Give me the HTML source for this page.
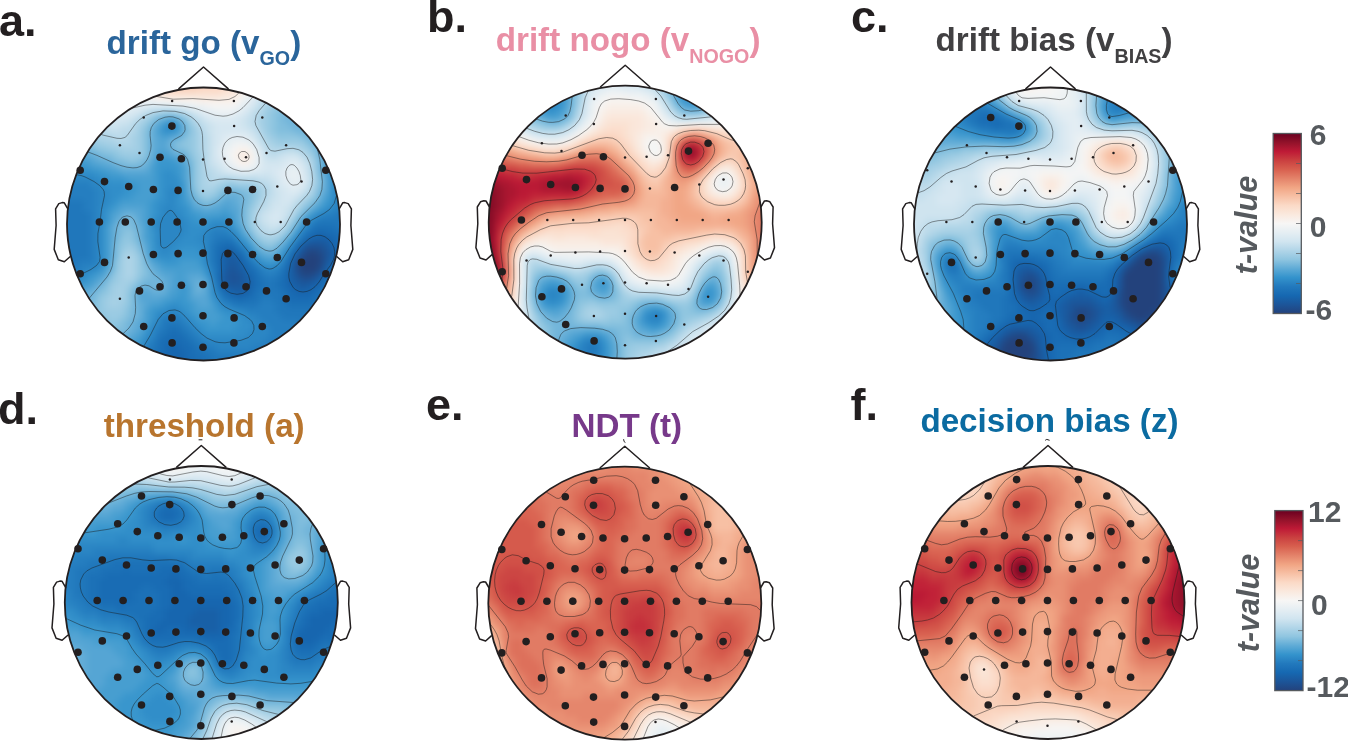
<!DOCTYPE html>
<html><head><meta charset="utf-8"><title>DDM parameter topographies</title>
<style>html,body{margin:0;padding:0;background:#fff;overflow:hidden}svg{display:block;will-change:transform}text{font-family:"Liberation Sans",Arial,sans-serif;font-weight:bold}</style></head>
<body>
<svg width="1348" height="741" viewBox="0 0 1348 741">
<defs>
<filter id="bl" x="-5%" y="-5%" width="110%" height="110%" color-interpolation-filters="sRGB"><feGaussianBlur stdDeviation="3.2"/></filter>
<clipPath id="cla"><circle cx="203.5" cy="224" r="136.5"/></clipPath>
<clipPath id="clb"><circle cx="625.2" cy="222.2" r="136.5"/></clipPath>
<clipPath id="clc"><circle cx="1050.5" cy="224" r="136.5"/></clipPath>
<clipPath id="cld"><circle cx="201.3" cy="602.5" r="136.5"/></clipPath>
<clipPath id="cle"><circle cx="624.8" cy="603.2" r="136.5"/></clipPath>
<clipPath id="clf"><circle cx="1048" cy="602.5" r="136.5"/></clipPath>
<linearGradient id="cb" x1="0" y1="0" x2="0" y2="1"><stop offset="0.000" stop-color="#6a0020"/><stop offset="0.050" stop-color="#92122a"/><stop offset="0.100" stop-color="#be1a36"/><stop offset="0.150" stop-color="#ca4040"/><stop offset="0.200" stop-color="#d8604f"/><stop offset="0.250" stop-color="#e4836a"/><stop offset="0.300" stop-color="#f1a584"/><stop offset="0.350" stop-color="#f7c0a5"/><stop offset="0.400" stop-color="#fbdac7"/><stop offset="0.450" stop-color="#fae9de"/><stop offset="0.500" stop-color="#f7f6f5"/><stop offset="0.550" stop-color="#e5eef3"/><stop offset="0.600" stop-color="#d1e5f0"/><stop offset="0.650" stop-color="#b1d5e8"/><stop offset="0.700" stop-color="#8fc5e0"/><stop offset="0.750" stop-color="#5fabd6"/><stop offset="0.800" stop-color="#3493cc"/><stop offset="0.850" stop-color="#2279bd"/><stop offset="0.900" stop-color="#1668b1"/><stop offset="0.950" stop-color="#1c5599"/><stop offset="1.000" stop-color="#23427c"/></linearGradient>
</defs>
<!-- head a -->
<g clip-path="url(#cla)">
<circle cx="203.5" cy="224" r="136.5" fill="#4da1d2"/>
<g filter="url(#bl)"><g transform="translate(47.5 68) scale(6)" shape-rendering="crispEdges">
<path fill="#23427c" d="M43 31h2v1h-2zM42 32h3v1h-3zM42 33h3v1h-3z"/>
<path fill="#214885" d="M43 30h2v1h-2zM42 31h1v1h-1zM45 31h1v1h-1zM45 32h1v1h-1zM42 34h2v1h-2z"/>
<path fill="#1f4e8e" d="M45 30h1v1h-1zM41 32h1v1h-1zM41 33h1v1h-1zM45 33h1v1h-1zM44 34h1v1h-1z"/>
<path fill="#1c5498" d="M43 29h3v1h-3zM42 30h1v1h-1zM46 30h1v1h-1zM46 31h1v1h-1zM30 33h1v1h-1zM30 34h2v1h-2zM41 34h1v1h-1zM30 35h2v1h-2zM42 35h2v1h-2z"/>
<path fill="#1a5a9f" d="M46 29h1v1h-1zM30 31h1v1h-1zM41 31h1v1h-1zM30 32h2v1h-2zM46 32h1v1h-1zM31 33h1v1h-1zM29 34h1v1h-1zM32 34h1v1h-1zM45 34h1v1h-1zM29 35h1v1h-1zM32 35h1v1h-1zM41 35h1v1h-1zM44 35h1v1h-1zM30 36h3v1h-3zM42 36h1v1h-1z"/>
<path fill="#1860a7" d="M44 28h3v1h-3zM42 29h1v1h-1zM30 30h1v1h-1zM47 30h1v1h-1zM29 31h1v1h-1zM31 31h1v1h-1zM47 31h1v1h-1zM29 32h1v1h-1zM29 33h1v1h-1zM32 33h1v1h-1zM40 33h1v1h-1zM46 33h1v1h-1zM40 34h1v1h-1zM33 35h1v1h-1zM40 35h1v1h-1zM29 36h1v1h-1zM33 36h1v1h-1zM41 36h1v1h-1zM43 36h1v1h-1zM31 37h2v1h-2z"/>
<path fill="#1766af" d="M45 27h1v1h-1zM43 28h1v1h-1zM47 28h1v1h-1zM47 29h1v1h-1zM29 30h1v1h-1zM41 30h1v1h-1zM48 30h3v1h-3zM48 31h3v1h-3zM32 32h1v1h-1zM40 32h1v1h-1zM47 32h4v1h-4zM33 34h1v1h-1zM45 35h1v1h-1zM40 36h1v1h-1zM44 36h1v1h-1zM30 37h1v1h-1zM33 37h1v1h-1zM41 37h3v1h-3zM20 46h2v1h-2zM20 47h3v1h-3zM19 48h4v1h-4zM19 49h4v1h-4zM19 50h4v1h-4z"/>
<path fill="#196cb4" d="M44 27h1v1h-1zM46 27h2v1h-2zM48 28h1v1h-1zM29 29h2v1h-2zM48 29h3v1h-3zM28 30h1v1h-1zM31 30h1v1h-1zM28 31h1v1h-1zM32 31h1v1h-1zM40 31h1v1h-1zM28 32h1v1h-1zM28 33h1v1h-1zM33 33h1v1h-1zM47 33h3v1h-3zM28 34h1v1h-1zM34 34h1v1h-1zM39 34h1v1h-1zM46 34h1v1h-1zM48 34h2v1h-2zM28 35h1v1h-1zM34 35h1v1h-1zM39 35h1v1h-1zM34 36h1v1h-1zM39 36h1v1h-1zM45 36h1v1h-1zM29 37h1v1h-1zM40 37h1v1h-1zM44 37h1v1h-1zM31 38h2v1h-2zM40 38h4v1h-4zM20 44h2v1h-2zM19 45h4v1h-4zM19 46h1v1h-1zM22 46h2v1h-2zM18 47h2v1h-2zM23 47h1v1h-1zM18 48h1v1h-1zM23 48h2v1h-2zM18 49h1v1h-1zM23 49h2v1h-2zM23 50h2v1h-2z"/>
<path fill="#1c71b7" d="M44 26h4v1h-4zM43 27h1v1h-1zM48 27h3v1h-3zM42 28h1v1h-1zM49 28h2v1h-2zM28 29h1v1h-1zM41 29h1v1h-1zM33 32h1v1h-1zM34 33h1v1h-1zM39 33h1v1h-1zM47 34h1v1h-1zM35 35h1v1h-1zM38 35h1v1h-1zM46 35h4v1h-4zM28 36h1v1h-1zM35 36h1v1h-1zM38 36h1v1h-1zM46 36h3v1h-3zM34 37h1v1h-1zM39 37h1v1h-1zM45 37h4v1h-4zM30 38h1v1h-1zM33 38h2v1h-2zM39 38h1v1h-1zM44 38h4v1h-4zM40 39h7v1h-7zM45 40h2v1h-2zM20 43h2v1h-2zM19 44h1v1h-1zM22 44h1v1h-1zM18 45h1v1h-1zM23 45h1v1h-1zM18 46h1v1h-1zM24 46h1v1h-1zM24 47h2v1h-2zM17 48h1v1h-1zM25 48h2v1h-2zM17 49h1v1h-1zM25 49h2v1h-2zM25 50h2v1h-2z"/>
<path fill="#2077bb" d="M1 22h5v1h-5zM1 23h5v1h-5zM1 24h6v1h-6zM48 24h3v1h-3zM1 25h6v1h-6zM45 25h6v1h-6zM1 26h6v1h-6zM48 26h3v1h-3zM1 27h6v1h-6zM1 28h6v1h-6zM28 28h3v1h-3zM1 29h6v1h-6zM27 29h1v1h-1zM31 29h1v1h-1zM1 30h6v1h-6zM27 30h1v1h-1zM32 30h1v1h-1zM40 30h1v1h-1zM1 31h6v1h-6zM27 31h1v1h-1zM1 32h4v1h-4zM27 32h1v1h-1zM39 32h1v1h-1zM35 34h1v1h-1zM38 34h1v1h-1zM36 35h2v1h-2zM36 36h2v1h-2zM35 37h4v1h-4zM29 38h1v1h-1zM35 38h1v1h-1zM37 38h2v1h-2zM31 39h4v1h-4zM38 39h2v1h-2zM38 40h7v1h-7zM39 41h7v1h-7zM19 42h3v1h-3zM42 42h3v1h-3zM19 43h1v1h-1zM22 43h1v1h-1zM43 43h1v1h-1zM18 44h1v1h-1zM23 44h1v1h-1zM24 45h1v1h-1zM17 46h1v1h-1zM25 46h1v1h-1zM17 47h1v1h-1zM26 47h2v1h-2zM16 48h1v1h-1zM27 48h4v1h-4zM16 49h1v1h-1zM27 49h4v1h-4zM27 50h4v1h-4z"/>
<path fill="#257ec0" d="M2 18h1v1h-1zM1 19h6v1h-6zM1 20h7v1h-7zM1 21h7v1h-7zM6 22h2v1h-2zM48 22h3v1h-3zM6 23h2v1h-2zM48 23h3v1h-3zM7 24h1v1h-1zM46 24h2v1h-2zM7 25h1v1h-1zM44 25h1v1h-1zM7 26h1v1h-1zM43 26h1v1h-1zM7 27h1v1h-1zM27 27h3v1h-3zM42 27h1v1h-1zM7 28h1v1h-1zM27 28h1v1h-1zM7 29h1v1h-1zM7 30h1v1h-1zM7 31h1v1h-1zM33 31h1v1h-1zM5 32h3v1h-3zM34 32h1v1h-1zM2 33h4v1h-4zM27 33h1v1h-1zM35 33h1v1h-1zM38 33h1v1h-1zM2 34h1v1h-1zM27 34h1v1h-1zM36 34h2v1h-2zM28 37h1v1h-1zM36 38h1v1h-1zM30 39h1v1h-1zM35 39h3v1h-3zM33 40h5v1h-5zM19 41h3v1h-3zM35 41h4v1h-4zM22 42h1v1h-1zM36 42h6v1h-6zM18 43h1v1h-1zM23 43h1v1h-1zM37 43h6v1h-6zM24 44h1v1h-1zM37 44h6v1h-6zM17 45h1v1h-1zM25 45h1v1h-1zM36 45h6v1h-6zM16 46h1v1h-1zM26 46h2v1h-2zM34 46h7v1h-7zM16 47h1v1h-1zM28 47h11v1h-11zM31 48h7v1h-7zM31 49h5v1h-5zM31 50h2v1h-2z"/>
<path fill="#2b86c4" d="M20 9h1v1h-1zM2 16h1v1h-1zM2 17h3v1h-3zM3 18h5v1h-5zM7 19h2v1h-2zM8 20h2v1h-2zM20 20h2v1h-2zM48 20h3v1h-3zM8 21h2v1h-2zM20 21h1v1h-1zM48 21h3v1h-3zM8 22h2v1h-2zM20 22h1v1h-1zM8 23h1v1h-1zM19 23h2v1h-2zM47 23h1v1h-1zM8 24h1v1h-1zM19 24h3v1h-3zM45 24h1v1h-1zM8 25h1v1h-1zM18 25h5v1h-5zM8 26h1v1h-1zM18 26h5v1h-5zM27 26h3v1h-3zM8 27h1v1h-1zM18 27h5v1h-5zM26 27h1v1h-1zM30 27h1v1h-1zM8 28h1v1h-1zM18 28h4v1h-4zM25 28h2v1h-2zM31 28h1v1h-1zM41 28h1v1h-1zM8 29h1v1h-1zM18 29h3v1h-3zM26 29h1v1h-1zM32 29h1v1h-1zM8 30h1v1h-1zM19 30h1v1h-1zM26 30h1v1h-1zM33 30h1v1h-1zM8 31h1v1h-1zM26 31h1v1h-1zM39 31h1v1h-1zM8 32h1v1h-1zM26 32h1v1h-1zM6 33h2v1h-2zM36 33h2v1h-2zM3 34h3v1h-3zM2 35h2v1h-2zM27 35h1v1h-1zM28 38h1v1h-1zM29 39h1v1h-1zM20 40h2v1h-2zM31 40h2v1h-2zM18 41h1v1h-1zM22 41h1v1h-1zM33 41h2v1h-2zM18 42h1v1h-1zM23 42h1v1h-1zM34 42h2v1h-2zM17 43h1v1h-1zM24 43h1v1h-1zM34 43h3v1h-3zM17 44h1v1h-1zM25 44h1v1h-1zM33 44h4v1h-4zM16 45h1v1h-1zM26 45h10v1h-10zM28 46h6v1h-6zM15 47h1v1h-1zM15 48h1v1h-1z"/>
<path fill="#318ec9" d="M19 10h2v1h-2zM3 16h2v1h-2zM5 17h3v1h-3zM19 17h2v1h-2zM48 17h2v1h-2zM8 18h2v1h-2zM19 18h3v1h-3zM47 18h3v1h-3zM9 19h4v1h-4zM19 19h3v1h-3zM47 19h4v1h-4zM10 20h3v1h-3zM19 20h1v1h-1zM47 20h1v1h-1zM10 21h2v1h-2zM19 21h1v1h-1zM21 21h1v1h-1zM47 21h1v1h-1zM10 22h1v1h-1zM18 22h2v1h-2zM21 22h1v1h-1zM47 22h1v1h-1zM9 23h1v1h-1zM18 23h1v1h-1zM21 23h2v1h-2zM46 23h1v1h-1zM9 24h1v1h-1zM18 24h1v1h-1zM22 24h1v1h-1zM44 24h1v1h-1zM9 25h1v1h-1zM17 25h1v1h-1zM23 25h1v1h-1zM27 25h3v1h-3zM43 25h1v1h-1zM17 26h1v1h-1zM23 26h4v1h-4zM30 26h1v1h-1zM42 26h1v1h-1zM23 27h3v1h-3zM31 27h1v1h-1zM22 28h3v1h-3zM21 29h5v1h-5zM40 29h1v1h-1zM18 30h1v1h-1zM20 30h2v1h-2zM25 30h1v1h-1zM18 31h3v1h-3zM34 31h1v1h-1zM35 32h1v1h-1zM38 32h1v1h-1zM8 33h1v1h-1zM26 33h1v1h-1zM6 34h1v1h-1zM4 35h2v1h-2zM3 36h1v1h-1zM27 36h1v1h-1zM27 37h1v1h-1zM20 39h2v1h-2zM28 39h1v1h-1zM18 40h2v1h-2zM22 40h1v1h-1zM29 40h2v1h-2zM23 41h1v1h-1zM31 41h2v1h-2zM17 42h1v1h-1zM24 42h1v1h-1zM32 42h2v1h-2zM25 43h1v1h-1zM31 43h3v1h-3zM16 44h1v1h-1zM26 44h7v1h-7zM15 46h1v1h-1zM14 47h1v1h-1zM14 48h1v1h-1z"/>
<path fill="#3996cd" d="M19 9h1v1h-1zM21 9h1v1h-1zM21 10h1v1h-1zM3 15h2v1h-2zM18 15h3v1h-3zM48 15h1v1h-1zM5 16h2v1h-2zM18 16h4v1h-4zM47 16h3v1h-3zM8 17h2v1h-2zM18 17h1v1h-1zM21 17h1v1h-1zM47 17h1v1h-1zM10 18h3v1h-3zM18 18h1v1h-1zM13 19h2v1h-2zM18 19h1v1h-1zM22 19h1v1h-1zM13 20h2v1h-2zM18 20h1v1h-1zM22 20h1v1h-1zM12 21h2v1h-2zM18 21h1v1h-1zM22 21h1v1h-1zM11 22h1v1h-1zM17 22h1v1h-1zM22 22h1v1h-1zM46 22h1v1h-1zM10 23h1v1h-1zM17 23h1v1h-1zM23 23h1v1h-1zM45 23h1v1h-1zM17 24h1v1h-1zM23 24h2v1h-2zM29 24h1v1h-1zM24 25h3v1h-3zM30 25h1v1h-1zM9 26h1v1h-1zM9 27h1v1h-1zM17 27h1v1h-1zM41 27h1v1h-1zM9 28h1v1h-1zM17 28h1v1h-1zM32 28h1v1h-1zM9 29h1v1h-1zM17 29h1v1h-1zM33 29h1v1h-1zM9 30h1v1h-1zM17 30h1v1h-1zM22 30h3v1h-3zM39 30h1v1h-1zM9 31h1v1h-1zM17 31h1v1h-1zM21 31h5v1h-5zM9 32h1v1h-1zM19 32h3v1h-3zM25 32h1v1h-1zM36 32h2v1h-2zM7 34h1v1h-1zM26 34h1v1h-1zM6 35h1v1h-1zM4 36h1v1h-1zM22 36h1v1h-1zM22 37h1v1h-1zM21 38h2v1h-2zM27 38h1v1h-1zM19 39h1v1h-1zM22 39h2v1h-2zM17 40h1v1h-1zM23 40h1v1h-1zM28 40h1v1h-1zM17 41h1v1h-1zM24 41h1v1h-1zM29 41h2v1h-2zM25 42h2v1h-2zM28 42h4v1h-4zM16 43h1v1h-1zM26 43h5v1h-5zM15 45h1v1h-1zM14 46h1v1h-1z"/>
<path fill="#479ed0" d="M18 10h1v1h-1zM19 11h1v1h-1zM3 14h2v1h-2zM18 14h2v1h-2zM48 14h1v1h-1zM5 15h2v1h-2zM21 15h1v1h-1zM46 15h2v1h-2zM7 16h2v1h-2zM17 16h1v1h-1zM22 16h1v1h-1zM46 16h1v1h-1zM10 17h2v1h-2zM17 17h1v1h-1zM22 17h1v1h-1zM46 17h1v1h-1zM13 18h5v1h-5zM22 18h1v1h-1zM15 19h3v1h-3zM15 20h3v1h-3zM14 21h4v1h-4zM46 21h1v1h-1zM12 22h5v1h-5zM23 22h1v1h-1zM11 23h1v1h-1zM16 23h1v1h-1zM29 23h1v1h-1zM10 24h1v1h-1zM16 24h1v1h-1zM25 24h4v1h-4zM30 24h1v1h-1zM43 24h1v1h-1zM10 25h1v1h-1zM16 25h1v1h-1zM42 25h1v1h-1zM16 26h1v1h-1zM31 26h1v1h-1zM16 27h1v1h-1zM16 28h1v1h-1zM40 28h1v1h-1zM34 30h1v1h-1zM35 31h1v1h-1zM38 31h1v1h-1zM18 32h1v1h-1zM22 32h3v1h-3zM9 33h1v1h-1zM19 33h7v1h-7zM8 34h1v1h-1zM21 34h2v1h-2zM7 35h1v1h-1zM21 35h2v1h-2zM5 36h2v1h-2zM21 36h1v1h-1zM23 36h1v1h-1zM3 37h2v1h-2zM20 37h2v1h-2zM23 37h1v1h-1zM19 38h2v1h-2zM23 38h1v1h-1zM17 39h2v1h-2zM24 39h1v1h-1zM27 39h1v1h-1zM16 40h1v1h-1zM24 40h4v1h-4zM16 41h1v1h-1zM25 41h4v1h-4zM16 42h1v1h-1zM27 42h1v1h-1zM15 44h1v1h-1zM14 45h1v1h-1zM13 46h1v1h-1zM13 47h1v1h-1z"/>
<path fill="#55a5d4" d="M20 8h1v1h-1zM18 9h1v1h-1zM18 11h1v1h-1zM20 11h1v1h-1zM18 12h2v1h-2zM18 13h2v1h-2zM5 14h1v1h-1zM20 14h1v1h-1zM46 14h2v1h-2zM7 15h1v1h-1zM17 15h1v1h-1zM22 15h1v1h-1zM9 16h2v1h-2zM12 17h5v1h-5zM46 18h1v1h-1zM46 19h1v1h-1zM46 20h1v1h-1zM23 21h1v1h-1zM29 22h2v1h-2zM45 22h1v1h-1zM12 23h4v1h-4zM24 23h2v1h-2zM27 23h2v1h-2zM30 23h2v1h-2zM44 23h1v1h-1zM11 24h1v1h-1zM15 24h1v1h-1zM31 24h1v1h-1zM15 25h1v1h-1zM31 25h1v1h-1zM10 26h1v1h-1zM10 27h1v1h-1zM32 27h1v1h-1zM10 28h1v1h-1zM33 28h1v1h-1zM10 29h1v1h-1zM16 29h1v1h-1zM39 29h1v1h-1zM10 30h1v1h-1zM16 30h1v1h-1zM38 30h1v1h-1zM10 31h1v1h-1zM36 31h2v1h-2zM17 32h1v1h-1zM18 33h1v1h-1zM9 34h1v1h-1zM19 34h2v1h-2zM23 34h3v1h-3zM8 35h1v1h-1zM20 35h1v1h-1zM23 35h1v1h-1zM26 35h1v1h-1zM7 36h1v1h-1zM20 36h1v1h-1zM26 36h1v1h-1zM5 37h1v1h-1zM15 37h2v1h-2zM26 37h1v1h-1zM4 38h1v1h-1zM15 38h4v1h-4zM24 38h3v1h-3zM16 39h1v1h-1zM25 39h2v1h-2zM15 42h1v1h-1zM15 43h1v1h-1zM14 44h1v1h-1zM13 45h1v1h-1zM12 46h1v1h-1z"/>
<path fill="#63add7" d="M19 8h1v1h-1zM21 8h1v1h-1zM22 9h1v1h-1zM17 10h1v1h-1zM22 10h1v1h-1zM17 11h1v1h-1zM21 11h1v1h-1zM17 12h1v1h-1zM4 13h2v1h-2zM17 13h1v1h-1zM20 13h1v1h-1zM45 13h3v1h-3zM6 14h2v1h-2zM17 14h1v1h-1zM21 14h2v1h-2zM45 14h1v1h-1zM8 15h2v1h-2zM11 16h1v1h-1zM16 16h1v1h-1zM23 16h1v1h-1zM23 17h1v1h-1zM23 18h1v1h-1zM23 19h1v1h-1zM23 20h1v1h-1zM29 21h3v1h-3zM45 21h1v1h-1zM24 22h1v1h-1zM28 22h1v1h-1zM31 22h1v1h-1zM26 23h1v1h-1zM12 24h1v1h-1zM14 24h1v1h-1zM11 25h1v1h-1zM15 26h1v1h-1zM32 26h1v1h-1zM41 26h1v1h-1zM15 27h1v1h-1zM15 28h1v1h-1zM34 29h1v1h-1zM35 30h1v1h-1zM16 31h1v1h-1zM10 32h1v1h-1zM10 33h1v1h-1zM17 33h1v1h-1zM18 34h1v1h-1zM19 35h1v1h-1zM24 35h2v1h-2zM16 36h1v1h-1zM19 36h1v1h-1zM24 36h1v1h-1zM6 37h1v1h-1zM17 37h3v1h-3zM24 37h2v1h-2zM5 38h1v1h-1zM15 39h1v1h-1zM15 40h1v1h-1zM15 41h1v1h-1zM14 42h1v1h-1zM14 43h1v1h-1zM13 44h1v1h-1zM12 45h1v1h-1zM11 46h1v1h-1z"/>
<path fill="#72b5da" d="M41 6h1v1h-1zM40 7h3v1h-3zM18 8h1v1h-1zM39 8h5v1h-5zM17 9h1v1h-1zM40 9h5v1h-5zM41 10h5v1h-5zM22 11h1v1h-1zM43 11h4v1h-4zM20 12h1v1h-1zM44 12h3v1h-3zM6 13h1v1h-1zM8 14h1v1h-1zM10 15h1v1h-1zM16 15h1v1h-1zM23 15h1v1h-1zM45 15h1v1h-1zM12 16h4v1h-4zM45 16h1v1h-1zM45 17h1v1h-1zM30 20h2v1h-2zM45 20h1v1h-1zM24 21h1v1h-1zM32 21h1v1h-1zM25 22h1v1h-1zM27 22h1v1h-1zM32 22h1v1h-1zM44 22h1v1h-1zM32 23h1v1h-1zM43 23h1v1h-1zM13 24h1v1h-1zM32 24h1v1h-1zM42 24h1v1h-1zM12 25h1v1h-1zM14 25h1v1h-1zM32 25h1v1h-1zM11 26h1v1h-1zM14 26h1v1h-1zM11 27h1v1h-1zM33 27h1v1h-1zM40 27h1v1h-1zM11 28h1v1h-1zM39 28h1v1h-1zM15 29h1v1h-1zM38 29h1v1h-1zM36 30h2v1h-2zM16 32h1v1h-1zM17 34h1v1h-1zM9 35h1v1h-1zM16 35h3v1h-3zM8 36h1v1h-1zM15 36h1v1h-1zM17 36h2v1h-2zM25 36h1v1h-1zM7 37h1v1h-1zM14 37h1v1h-1zM6 38h2v1h-2zM14 38h1v1h-1zM5 39h1v1h-1zM14 39h1v1h-1zM14 40h1v1h-1zM14 41h1v1h-1zM13 42h1v1h-1zM13 43h1v1h-1zM11 44h2v1h-2zM11 45h1v1h-1z"/>
<path fill="#81bedd" d="M40 5h1v1h-1zM39 6h2v1h-2zM38 7h2v1h-2zM22 8h1v1h-1zM38 8h1v1h-1zM38 9h2v1h-2zM16 10h1v1h-1zM23 10h1v1h-1zM38 10h3v1h-3zM16 11h1v1h-1zM42 11h1v1h-1zM5 12h1v1h-1zM16 12h1v1h-1zM21 12h1v1h-1zM43 12h1v1h-1zM7 13h1v1h-1zM16 13h1v1h-1zM21 13h2v1h-2zM44 13h1v1h-1zM9 14h2v1h-2zM16 14h1v1h-1zM23 14h1v1h-1zM11 15h2v1h-2zM15 15h1v1h-1zM45 18h1v1h-1zM45 19h1v1h-1zM24 20h1v1h-1zM29 20h1v1h-1zM32 20h2v1h-2zM28 21h1v1h-1zM33 21h1v1h-1zM26 22h1v1h-1zM33 22h1v1h-1zM13 25h1v1h-1zM41 25h1v1h-1zM12 26h2v1h-2zM12 27h1v1h-1zM14 27h1v1h-1zM14 28h1v1h-1zM34 28h1v1h-1zM11 29h1v1h-1zM35 29h1v1h-1zM11 30h1v1h-1zM15 30h1v1h-1zM11 31h1v1h-1zM16 33h1v1h-1zM10 34h1v1h-1zM16 34h1v1h-1zM15 35h1v1h-1zM9 36h1v1h-1zM14 36h1v1h-1zM8 37h1v1h-1zM6 39h2v1h-2zM5 40h2v1h-2zM13 40h1v1h-1zM13 41h1v1h-1zM12 42h1v1h-1zM11 43h2v1h-2zM10 44h1v1h-1zM10 45h1v1h-1z"/>
<path fill="#90c6e0" d="M39 5h1v1h-1zM38 6h1v1h-1zM37 7h1v1h-1zM17 8h1v1h-1zM37 8h1v1h-1zM16 9h1v1h-1zM23 9h1v1h-1zM37 9h1v1h-1zM37 10h1v1h-1zM5 11h1v1h-1zM23 11h1v1h-1zM38 11h4v1h-4zM6 12h1v1h-1zM22 12h2v1h-2zM8 13h2v1h-2zM23 13h1v1h-1zM11 14h1v1h-1zM44 14h1v1h-1zM13 15h2v1h-2zM24 15h1v1h-1zM24 16h1v1h-1zM24 17h1v1h-1zM24 18h1v1h-1zM24 19h1v1h-1zM30 19h1v1h-1zM28 20h1v1h-1zM34 20h1v1h-1zM25 21h1v1h-1zM27 21h1v1h-1zM34 21h1v1h-1zM44 21h1v1h-1zM43 22h1v1h-1zM33 23h1v1h-1zM42 23h1v1h-1zM33 24h1v1h-1zM33 25h1v1h-1zM33 26h1v1h-1zM40 26h1v1h-1zM13 27h1v1h-1zM12 28h2v1h-2zM12 29h1v1h-1zM14 29h1v1h-1zM36 29h2v1h-2zM15 31h1v1h-1zM11 32h1v1h-1zM15 32h1v1h-1zM11 33h1v1h-1zM15 33h1v1h-1zM15 34h1v1h-1zM10 35h1v1h-1zM9 37h1v1h-1zM13 37h1v1h-1zM8 38h1v1h-1zM13 38h1v1h-1zM8 39h1v1h-1zM13 39h1v1h-1zM7 40h2v1h-2zM6 41h4v1h-4zM12 41h1v1h-1zM7 42h5v1h-5zM8 43h3v1h-3zM9 44h1v1h-1z"/>
<path fill="#9bcbe3" d="M38 4h1v1h-1zM38 5h1v1h-1zM37 6h1v1h-1zM19 7h2v1h-2zM36 7h1v1h-1zM23 8h1v1h-1zM36 8h1v1h-1zM36 9h1v1h-1zM15 10h1v1h-1zM24 10h1v1h-1zM36 10h1v1h-1zM6 11h1v1h-1zM15 11h1v1h-1zM24 11h1v1h-1zM37 11h1v1h-1zM7 12h2v1h-2zM15 12h1v1h-1zM24 12h1v1h-1zM38 12h5v1h-5zM10 13h2v1h-2zM15 13h1v1h-1zM24 13h1v1h-1zM43 13h1v1h-1zM12 14h4v1h-4zM24 14h1v1h-1zM44 15h1v1h-1zM44 16h1v1h-1zM29 19h1v1h-1zM31 19h3v1h-3zM44 20h1v1h-1zM26 21h1v1h-1zM34 22h1v1h-1zM41 24h1v1h-1zM34 27h1v1h-1zM39 27h1v1h-1zM35 28h1v1h-1zM38 28h1v1h-1zM13 29h1v1h-1zM12 30h1v1h-1zM14 30h1v1h-1zM11 34h1v1h-1zM11 35h1v1h-1zM14 35h1v1h-1zM10 36h1v1h-1zM13 36h1v1h-1zM10 37h1v1h-1zM9 38h1v1h-1zM9 39h1v1h-1zM12 39h1v1h-1zM9 40h4v1h-4zM10 41h2v1h-2z"/>
<path fill="#a6d0e5" d="M37 5h1v1h-1zM36 6h1v1h-1zM18 7h1v1h-1zM21 7h1v1h-1zM16 8h1v1h-1zM35 8h1v1h-1zM15 9h1v1h-1zM24 9h1v1h-1zM35 9h1v1h-1zM6 10h1v1h-1zM7 11h1v1h-1zM14 11h1v1h-1zM36 11h1v1h-1zM9 12h2v1h-2zM14 12h1v1h-1zM37 12h1v1h-1zM12 13h3v1h-3zM42 13h1v1h-1zM25 14h1v1h-1zM43 14h1v1h-1zM25 15h1v1h-1zM25 16h1v1h-1zM25 17h1v1h-1zM44 17h1v1h-1zM25 18h1v1h-1zM44 18h1v1h-1zM25 19h1v1h-1zM28 19h1v1h-1zM34 19h1v1h-1zM44 19h1v1h-1zM25 20h3v1h-3zM35 20h1v1h-1zM35 21h1v1h-1zM43 21h1v1h-1zM42 22h1v1h-1zM34 23h1v1h-1zM40 25h1v1h-1zM34 26h1v1h-1zM36 28h2v1h-2zM13 30h1v1h-1zM12 31h1v1h-1zM14 31h1v1h-1zM12 32h1v1h-1zM14 32h1v1h-1zM12 33h1v1h-1zM14 33h1v1h-1zM12 34h1v1h-1zM14 34h1v1h-1zM12 35h2v1h-2zM11 36h2v1h-2zM11 37h2v1h-2zM10 38h3v1h-3zM10 39h2v1h-2z"/>
<path fill="#b0d5e8" d="M37 4h1v1h-1zM17 7h1v1h-1zM22 7h1v1h-1zM35 7h1v1h-1zM15 8h1v1h-1zM14 9h1v1h-1zM7 10h1v1h-1zM14 10h1v1h-1zM25 10h1v1h-1zM35 10h1v1h-1zM8 11h3v1h-3zM13 11h1v1h-1zM25 11h1v1h-1zM11 12h3v1h-3zM25 12h1v1h-1zM36 12h1v1h-1zM25 13h1v1h-1zM37 13h3v1h-3zM41 13h1v1h-1zM26 17h1v1h-1zM26 18h1v1h-1zM29 18h2v1h-2zM26 19h2v1h-2zM35 19h1v1h-1zM36 20h1v1h-1zM35 22h1v1h-1zM41 23h1v1h-1zM34 24h1v1h-1zM34 25h1v1h-1zM39 26h1v1h-1zM35 27h1v1h-1zM38 27h1v1h-1zM13 31h1v1h-1zM13 32h1v1h-1zM13 33h1v1h-1zM13 34h1v1h-1z"/>
<path fill="#bbdaea" d="M37 3h1v1h-1zM36 5h1v1h-1zM35 6h1v1h-1zM16 7h1v1h-1zM34 7h1v1h-1zM24 8h1v1h-1zM34 8h1v1h-1zM7 9h1v1h-1zM25 9h1v1h-1zM34 9h1v1h-1zM8 10h2v1h-2zM12 10h2v1h-2zM11 11h2v1h-2zM26 11h1v1h-1zM35 11h1v1h-1zM26 12h1v1h-1zM26 13h1v1h-1zM36 13h1v1h-1zM40 13h1v1h-1zM26 14h1v1h-1zM37 14h1v1h-1zM42 14h1v1h-1zM26 15h1v1h-1zM43 15h1v1h-1zM26 16h1v1h-1zM27 17h1v1h-1zM27 18h2v1h-2zM31 18h4v1h-4zM36 19h1v1h-1zM43 20h1v1h-1zM36 21h1v1h-1zM42 21h1v1h-1zM36 22h1v1h-1zM41 22h1v1h-1zM35 23h1v1h-1zM40 24h1v1h-1zM35 26h1v1h-1zM36 27h2v1h-2z"/>
<path fill="#c5dfed" d="M36 3h1v1h-1zM36 4h1v1h-1zM35 5h1v1h-1zM23 7h1v1h-1zM8 8h1v1h-1zM14 8h1v1h-1zM25 8h1v1h-1zM33 8h1v1h-1zM8 9h2v1h-2zM12 9h2v1h-2zM26 9h1v1h-1zM33 9h1v1h-1zM10 10h2v1h-2zM26 10h1v1h-1zM34 10h1v1h-1zM35 12h1v1h-1zM36 14h1v1h-1zM38 14h1v1h-1zM27 16h1v1h-1zM43 16h1v1h-1zM28 17h1v1h-1zM43 17h1v1h-1zM35 18h2v1h-2zM37 19h1v1h-1zM43 19h1v1h-1zM37 20h1v1h-1zM37 21h1v1h-1zM36 23h1v1h-1zM40 23h1v1h-1zM35 24h1v1h-1zM35 25h1v1h-1zM39 25h1v1h-1zM36 26h1v1h-1zM38 26h1v1h-1z"/>
<path fill="#cfe4ef" d="M34 6h1v1h-1zM15 7h1v1h-1zM24 7h1v1h-1zM33 7h1v1h-1zM9 8h1v1h-1zM13 8h1v1h-1zM32 8h1v1h-1zM10 9h2v1h-2zM27 9h1v1h-1zM32 9h1v1h-1zM27 10h1v1h-1zM33 10h1v1h-1zM27 11h1v1h-1zM34 11h1v1h-1zM27 12h1v1h-1zM27 13h1v1h-1zM27 14h1v1h-1zM39 14h3v1h-3zM27 15h1v1h-1zM36 15h3v1h-3zM42 15h1v1h-1zM28 16h1v1h-1zM29 17h1v1h-1zM36 17h1v1h-1zM37 18h1v1h-1zM43 18h1v1h-1zM38 20h1v1h-1zM42 20h1v1h-1zM38 21h1v1h-1zM41 21h1v1h-1zM37 22h2v1h-2zM40 22h1v1h-1zM37 23h1v1h-1zM39 23h1v1h-1zM36 24h1v1h-1zM39 24h1v1h-1zM36 25h1v1h-1zM37 26h1v1h-1z"/>
<path fill="#d6e7f1" d="M35 3h1v1h-1zM35 4h1v1h-1zM34 5h1v1h-1zM10 6h1v1h-1zM17 6h4v1h-4zM9 7h2v1h-2zM14 7h1v1h-1zM10 8h3v1h-3zM26 8h1v1h-1zM31 8h1v1h-1zM28 9h4v1h-4zM28 10h5v1h-5zM28 11h1v1h-1zM28 12h1v1h-1zM35 13h1v1h-1zM28 15h1v1h-1zM39 15h1v1h-1zM36 16h3v1h-3zM42 16h1v1h-1zM30 17h2v1h-2zM34 17h2v1h-2zM37 17h1v1h-1zM38 18h1v1h-1zM38 19h1v1h-1zM39 20h1v1h-1zM39 21h2v1h-2zM39 22h1v1h-1zM38 23h1v1h-1zM37 24h2v1h-2zM37 25h2v1h-2z"/>
<path fill="#dceaf2" d="M35 2h1v1h-1zM11 5h1v1h-1zM11 6h2v1h-2zM15 6h2v1h-2zM21 6h2v1h-2zM33 6h1v1h-1zM11 7h3v1h-3zM25 7h1v1h-1zM32 7h1v1h-1zM27 8h4v1h-4zM29 11h1v1h-1zM33 11h1v1h-1zM34 12h1v1h-1zM28 13h1v1h-1zM28 14h1v1h-1zM35 14h1v1h-1zM35 15h1v1h-1zM40 15h2v1h-2zM29 16h1v1h-1zM35 16h1v1h-1zM39 16h1v1h-1zM32 17h2v1h-2zM38 17h1v1h-1zM42 17h1v1h-1zM42 18h1v1h-1zM39 19h1v1h-1zM42 19h1v1h-1zM40 20h2v1h-2z"/>
<path fill="#e3edf3" d="M34 4h1v1h-1zM12 5h2v1h-2zM33 5h1v1h-1zM13 6h2v1h-2zM23 6h1v1h-1zM32 6h1v1h-1zM26 7h2v1h-2zM31 7h1v1h-1zM30 11h3v1h-3zM29 12h1v1h-1zM29 15h1v1h-1zM30 16h1v1h-1zM40 16h2v1h-2zM39 17h1v1h-1zM39 18h2v1h-2zM40 19h2v1h-2z"/>
<path fill="#e9f0f3" d="M34 2h1v1h-1zM34 3h1v1h-1zM13 4h2v1h-2zM14 5h1v1h-1zM24 6h2v1h-2zM28 7h3v1h-3zM30 12h1v1h-1zM33 12h1v1h-1zM29 13h1v1h-1zM34 13h1v1h-1zM29 14h1v1h-1zM34 16h1v1h-1zM40 17h2v1h-2zM41 18h1v1h-1z"/>
<path fill="#eef2f4" d="M14 3h1v1h-1zM15 4h1v1h-1zM33 4h1v1h-1zM15 5h3v1h-3zM32 5h1v1h-1zM26 6h1v1h-1zM31 6h1v1h-1zM31 12h2v1h-2zM30 13h1v1h-1zM34 14h1v1h-1zM30 15h1v1h-1zM34 15h1v1h-1zM31 16h1v1h-1zM33 16h1v1h-1z"/>
<path fill="#f4f5f5" d="M33 2h1v1h-1zM15 3h1v1h-1zM33 3h1v1h-1zM16 4h1v1h-1zM18 5h2v1h-2zM27 6h4v1h-4zM30 14h1v1h-1zM32 16h1v1h-1z"/>
<path fill="#f7f4f1" d="M16 3h1v1h-1zM32 4h1v1h-1zM20 5h5v1h-5zM31 5h1v1h-1zM31 13h1v1h-1zM33 13h1v1h-1zM31 15h1v1h-1z"/>
<path fill="#f8f0ea" d="M16 2h1v1h-1zM32 2h1v1h-1zM32 3h1v1h-1zM17 4h1v1h-1zM25 5h6v1h-6zM32 13h1v1h-1zM31 14h1v1h-1zM33 15h1v1h-1z"/>
<path fill="#f9ece3" d="M32 1h1v1h-1zM17 2h1v1h-1zM17 3h1v1h-1zM31 4h1v1h-1zM32 14h2v1h-2zM32 15h1v1h-1z"/>
<path fill="#fae7db" d="M31 1h1v1h-1zM31 2h1v1h-1zM18 3h1v1h-1zM31 3h1v1h-1zM18 4h1v1h-1zM29 4h2v1h-2z"/>
<path fill="#fae3d4" d="M18 2h1v1h-1zM30 2h1v1h-1zM30 3h1v1h-1zM19 4h10v1h-10z"/>
<path fill="#fbdecd" d="M29 1h2v1h-2zM19 2h1v1h-1zM29 2h1v1h-1zM19 3h1v1h-1zM29 3h1v1h-1z"/>
<path fill="#fbd8c5" d="M19 1h1v1h-1zM27 1h2v1h-2zM27 2h2v1h-2zM20 3h1v1h-1zM25 3h4v1h-4z"/>
<path fill="#f9d0ba" d="M20 1h7v1h-7zM20 2h7v1h-7zM21 3h4v1h-4z"/>
</g></g>
<path d="M317 235.3 313 236.5 309 238.8 301 246 295 253.9 290.6 263.5 288.8 273.5 288.9 277.5 289.8 281.5 293.2 287.5 295.4 289.5 299 291.4 303 292 307 291.4 311 289.7 315 286.7 319 282.1 324.3 273.5 330.4 265.5 333.5 259.5 334.5 255.5 334.7 251.5 333.9 247.5 332 243.5 329 239.8 325 236.8 321 235.4 317 235.3M225 250.7 222.5 253.5 221.2 259.5 221.8 279.5 223 286 225 289.2 227 291 231 293.2 237 294.3 243 293.4 247 290.8 249.3 287.5 250.1 281.5 248.6 275.5 243.1 265.5 235 254.3 231.9 251.5 229 250.1 227 250 225 250.7M171 125.2 170 125.5 169 126.7 168.6 127.5 169 127.9 171 128.5 172.4 127.5 171.7 125.5 171 125.2M345 192.1 337 193.9 334.1 203.5 329.5 209.5 323.9 213.5 311 220.5 307 223.8 289.7 247.5 281 261.4 277 265.8 273 268.3 271 268.9 269 269 265 267.8 259 263.4 251.4 255.5 237 237.7 231 231.5 227 228.3 223 226.6 217 226.7 211 228.7 206.7 231.5 203.8 235.5 203.4 241.5 205.6 251.5 207.4 263.5 211.7 277.5 215 292.5 216.9 297.5 221 303.4 225 306.8 229 309 244.5 315.5 250.1 319.5 251.9 321.5 253.8 325.5 254 329.5 252.5 333.5 248.4 337.5 241 340.3 225 342.8 219 342.5 215 341.7 207 338.1 201 333.5 195 327.7 185 316.2 181 312.5 179 311.2 175 309.9 169 310.5 163 313.8 158.2 319.5 150.2 335.5 143 347.5 134.2 365.5M169 210.7 167 212.2 163 217.3 160.6 223.5 160.2 229.5 160.6 243.5 161 246.1 163 248 165 247.9 167 246.9 173.4 241.5 178.7 235.5 180.7 231.5 181.1 229.5 180.1 223.5 177 217.3 173 211.7 171 210.3 169 210.7M63 281.8 83 273.4 90.9 269.5 96.5 265.5 99.5 261.5 100.1 257.5 97.8 241.5 97.9 233.5 100.1 221.5 101.5 209.5 104.5 195.5 104.1 191.5 103 189.3 99.6 185.5 94 181.5 85 176.9 81 175.5 75 174.5 63 169.8M325.4 83.5 294.2 119.5 293.4 121.5 294.6 123.5 296.8 125.5 301 128.2 303 128.5 345 88.2M345 128 317 147 319.8 159.5 322.4 181.5 321.9 189.5 319.9 195.5 315 202.7 301 216.6 291 232.2 283 242.1 277 248.2 273 250.6 271 251 269 251.1 265 250.1 259 246.3 251 237.9 245.5 229.5 243.1 223.5 241.8 215.5 242.2 209.5 243.8 199.5 243 196.5 241 194.6 235 192.4 229 192.1 226.2 193.5 219 200.1 215 203 211 204.8 207 205.6 203 205.4 199 203.9 197 202.5 194.3 199.5 192.3 195.5 190.8 189.5 189.6 167.5 187.6 159.5 185 155.7 183 154.1 173 149.4 171.3 147.5 170.5 145.5 170.7 143.5 171.8 141.5 174.3 139.5 181.6 135.5 184.6 131.5 185.1 129.5 184.8 125.5 182.4 121.5 179 118.9 173 116.9 169 116.7 165 117.2 158.7 119.5 153.8 123.5 151.3 127.5 150.2 131.5 150.1 135.5 151.1 145.5 150.7 149.5 149 155.5 147 159.8 144.3 163.5 141 166.2 137 167.6 133 167.9 127 167.2 121 165.6 113 162.6 97 155.4 87 151.6 63 136.7M63 315.5 89 298.5 107 277 110.3 271.5 112.5 265.5 115.2 237.5 116.9 227.5 118.9 221.5 121 218.5 123 216.9 127 215.8 131 216.9 133.7 219.5 136.3 225.5 143.2 253.5 146.7 263.5 149 268 153 273.8 160.3 279.5 162 281.5 163 283.5 163 286.9 161 289.6 159 290.3 157 290.2 154.9 289.5 149 285.8 145 285.1 141 286.1 137 289.2 135.8 291.5 135 295.5 135.6 307.5 135.3 313.5 133 321.9 129 328 121.2 335.5 99.1 365.5M276.3 83.5 267 101.5 259 110.8 256.2 115.5 255 121.5 255.9 125.5 269 149 271 150.6 275 151.2 287 148.7 293 148.3 299 149.8 303 152.4 307 157.2 309.8 163.5 311.8 171.5 312.6 179.5 311.9 185.5 309.5 191.5 306.7 195.5 297.1 205.5 293.9 209.5 285 226 279 231.8 275 233.9 271 234.8 269 234.7 265 233.5 261 230.6 257 225.5 255.7 221.5 256 217.5 257.4 213.5 263.8 201.5 266 195.5 265.9 189.5 263.9 185.5 261.7 183.5 259 182.1 253 180.8 225 178.9 219 179.3 211 180.9 209 180.5 207 176.4 204.1 159.5 202.9 149.5 202.5 135.5 201.9 131.5 200.5 127.5 198.1 123.5 194.5 119.5 191 116.8 184.5 113.5 175 111.3 163 110.9 153 112.6 145.7 115.5 139.8 119.5 135.7 123.5 127.2 135.5 125 137.4 121 138.5 117 138.3 103 135.1 99.4 133.5 63 101.8M258.3 83.5 252.5 97.5 243 107.6 239 110.8 233 114 227 115.8 223 116.2 215 115.2 195 108.3 183 106.1 153 104.4 145 105.2 133 107.9 131 107.9 130 107.5 114.8 83.5M232.2 137.5 237 136.5 243 137.2 249 140 253 143.6 256.7 149.5 259.1 157.5 259.1 163.5 256.7 167.5 253.8 169.5 249 171.1 241 171.3 233 169 229 166.6 225.9 163.5 223.7 159.5 222.6 155.5 222.3 151.5 223 147.5 224.7 143.5 226.2 141.5 229 139 232.2 137.5M289.2 165.5 291 164.6 293 164.7 294.5 165.5 297 168.1 299 171.6 300.3 175.5 300.8 179.5 300.3 181.5 299 183.4 297 184.7 293 185.2 291 184.4 289 182.6 287 179.2 285.9 175.5 285.8 171.5 287 168.1 289.2 165.5M241.9 83.5 239.7 91.5 238.3 93.5 235 96.5 229 99.4 219 100.3 193 98.6 173 99.2 157 96.5 154.9 95.5 150.3 83.5M241.6 151.5 245 151.5 247.8 153.5 248.9 155.5 249.1 157.5 248.3 159.5 247 160.8 245 161.5 243 161.4 241 160.4 239 158.2 238.4 155.5 239 153.5 241.6 151.5" fill="none" stroke="#1a1a1a" stroke-width="0.55" stroke-opacity="0.85" stroke-linejoin="round"/>
</g>
<g fill="none" stroke="#231f20" stroke-linejoin="round" stroke-linecap="round">
<path stroke-width="1.5" d="M228.1 88.6 203.5 67 178.9 88.6M67.8 208.8 64.3 202.8 62.1 202.6 58.8 203.6 55.6 208.8 56.1 225.5 54.2 249.4 58.3 259.8 64.3 261.8 70 256.7M339.2 208.8 342.7 202.8 344.9 202.6 348.2 203.6 351.4 208.8 350.9 225.5 352.8 249.4 348.7 259.8 342.7 261.8 337 256.7"/>
<circle cx="203.5" cy="224" r="136.5" stroke-width="1.8"/>
</g>
<g fill="#231f20">
<circle cx="171.9" cy="126.1" r="3.8"/>
<circle cx="160" cy="157.3" r="3.8"/>
<circle cx="181.4" cy="158.8" r="3.8"/>
<circle cx="80.2" cy="170.3" r="3.8"/>
<circle cx="325.8" cy="170.3" r="3.8"/>
<circle cx="104.5" cy="181.6" r="3.8"/>
<circle cx="128.7" cy="186.5" r="3.8"/>
<circle cx="153.4" cy="189.5" r="3.8"/>
<circle cx="252.6" cy="189.5" r="3.8"/>
<circle cx="178.1" cy="190.4" r="3.8"/>
<circle cx="227.9" cy="190.4" r="3.8"/>
<circle cx="99.4" cy="222" r="3.8"/>
<circle cx="306.6" cy="222" r="3.8"/>
<circle cx="125.3" cy="222" r="3.8"/>
<circle cx="151.2" cy="222" r="3.8"/>
<circle cx="177.1" cy="222" r="3.8"/>
<circle cx="228.9" cy="222" r="3.8"/>
<circle cx="203" cy="222" r="3.8"/>
<circle cx="80.2" cy="273.7" r="3.8"/>
<circle cx="325.8" cy="273.7" r="3.8"/>
<circle cx="104.5" cy="262.4" r="3.8"/>
<circle cx="301.5" cy="262.4" r="3.8"/>
<circle cx="277.3" cy="257.5" r="3.8"/>
<circle cx="153.4" cy="254.5" r="3.8"/>
<circle cx="252.6" cy="254.5" r="3.8"/>
<circle cx="178.1" cy="253.6" r="3.8"/>
<circle cx="227.9" cy="253.6" r="3.8"/>
<circle cx="203" cy="253.1" r="3.8"/>
<circle cx="286.1" cy="298.7" r="3.8"/>
<circle cx="139.5" cy="290.9" r="3.8"/>
<circle cx="266.5" cy="290.9" r="3.8"/>
<circle cx="160" cy="286.7" r="3.8"/>
<circle cx="246" cy="286.7" r="3.8"/>
<circle cx="181.4" cy="285.2" r="3.8"/>
<circle cx="224.6" cy="285.2" r="3.8"/>
<circle cx="203" cy="284.5" r="3.8"/>
<circle cx="143.7" cy="326.5" r="3.8"/>
<circle cx="262.3" cy="326.5" r="3.8"/>
<circle cx="171.9" cy="317.9" r="3.8"/>
<circle cx="234.1" cy="317.9" r="3.8"/>
<circle cx="203" cy="315.8" r="3.8"/>
<circle cx="172.1" cy="342.9" r="3.8"/>
<circle cx="233.9" cy="342.9" r="3.8"/>
<circle cx="203" cy="347.2" r="3.8"/>
<circle cx="172.1" cy="101.1" r="1.25"/>
<circle cx="233.9" cy="101.1" r="1.25"/>
<circle cx="143.7" cy="117.5" r="1.25"/>
<circle cx="262.3" cy="117.5" r="1.25"/>
<circle cx="234.1" cy="126.1" r="1.25"/>
<circle cx="119.9" cy="145.3" r="1.25"/>
<circle cx="286.1" cy="145.3" r="1.25"/>
<circle cx="139.5" cy="153.1" r="1.25"/>
<circle cx="266.5" cy="153.1" r="1.25"/>
<circle cx="246" cy="157.3" r="1.25"/>
<circle cx="224.6" cy="158.8" r="1.25"/>
<circle cx="203" cy="159.5" r="1.25"/>
<circle cx="301.5" cy="181.6" r="1.25"/>
<circle cx="277.3" cy="186.5" r="1.25"/>
<circle cx="203" cy="190.9" r="1.25"/>
<circle cx="280.7" cy="222" r="1.25"/>
<circle cx="254.8" cy="222" r="1.25"/>
<circle cx="128.7" cy="257.5" r="1.25"/>
<circle cx="119.9" cy="298.7" r="1.25"/>
</g>
<!-- head b -->
<g clip-path="url(#clb)">
<circle cx="625.2" cy="222.2" r="136.5" fill="#fae7db"/>
<g filter="url(#bl)"><g transform="translate(469.2 66.2) scale(6)" shape-rendering="crispEdges">
<path fill="#2077bb" d="M20 46h1v1h-1zM20 47h1v1h-1z"/>
<path fill="#257ec0" d="M31 41h1v1h-1zM19 46h1v1h-1zM21 46h1v1h-1zM19 47h1v1h-1zM21 47h1v1h-1zM18 48h3v1h-3zM18 49h3v1h-3zM19 50h2v1h-2z"/>
<path fill="#2b86c4" d="M13 4h1v1h-1zM12 5h2v1h-2zM13 6h2v1h-2zM13 37h2v1h-2zM13 38h2v1h-2zM30 41h1v1h-1zM30 42h2v1h-2zM19 45h3v1h-3zM18 46h1v1h-1zM18 47h1v1h-1zM21 48h1v1h-1zM17 49h1v1h-1zM21 49h1v1h-1zM21 50h1v1h-1z"/>
<path fill="#318ec9" d="M37 3h1v1h-1zM14 4h1v1h-1zM36 4h3v1h-3zM11 5h1v1h-1zM14 5h1v1h-1zM36 5h2v1h-2zM12 6h1v1h-1zM13 7h1v1h-1zM15 37h1v1h-1zM12 38h1v1h-1zM15 38h1v1h-1zM39 38h1v1h-1zM13 39h2v1h-2zM29 41h1v1h-1zM32 41h1v1h-1zM29 42h1v1h-1zM22 46h1v1h-1zM17 47h1v1h-1zM22 47h1v1h-1zM17 48h1v1h-1zM22 48h1v1h-1zM16 49h1v1h-1z"/>
<path fill="#3996cd" d="M14 3h1v1h-1zM36 3h1v1h-1zM15 5h1v1h-1zM35 5h1v1h-1zM38 5h1v1h-1zM11 6h1v1h-1zM15 6h1v1h-1zM37 6h1v1h-1zM12 7h1v1h-1zM14 7h1v1h-1zM13 36h2v1h-2zM22 36h1v1h-1zM12 37h1v1h-1zM39 37h2v1h-2zM40 38h1v1h-1zM12 39h1v1h-1zM15 39h1v1h-1zM30 40h2v1h-2zM32 42h1v1h-1zM30 43h2v1h-2zM18 45h1v1h-1zM22 45h1v1h-1zM17 46h1v1h-1zM16 47h1v1h-1zM16 48h1v1h-1zM22 49h1v1h-1zM22 50h1v1h-1z"/>
<path fill="#479ed0" d="M15 3h1v1h-1zM35 3h1v1h-1zM15 4h1v1h-1zM35 4h1v1h-1zM10 6h1v1h-1zM36 6h1v1h-1zM38 6h1v1h-1zM11 7h1v1h-1zM15 7h1v1h-1zM13 8h2v1h-2zM22 35h1v1h-1zM12 36h1v1h-1zM15 36h1v1h-1zM21 36h1v1h-1zM40 36h1v1h-1zM16 37h1v1h-1zM22 37h1v1h-1zM16 38h1v1h-1zM39 39h2v1h-2zM13 40h2v1h-2zM29 40h1v1h-1zM32 40h1v1h-1zM28 42h1v1h-1zM29 43h1v1h-1zM32 43h1v1h-1zM19 44h3v1h-3zM17 45h1v1h-1zM16 46h1v1h-1zM23 46h1v1h-1zM23 47h1v1h-1zM15 48h1v1h-1zM23 48h1v1h-1z"/>
<path fill="#55a5d4" d="M35 2h1v1h-1zM16 5h1v1h-1zM39 5h1v1h-1zM16 6h1v1h-1zM35 6h1v1h-1zM12 8h1v1h-1zM15 8h1v1h-1zM13 35h2v1h-2zM21 35h1v1h-1zM23 36h1v1h-1zM39 36h1v1h-1zM11 37h1v1h-1zM21 37h1v1h-1zM41 37h1v1h-1zM11 38h1v1h-1zM38 38h1v1h-1zM41 38h1v1h-1zM16 39h1v1h-1zM38 39h1v1h-1zM12 40h1v1h-1zM15 40h1v1h-1zM14 41h1v1h-1zM28 41h1v1h-1zM33 41h1v1h-1zM33 42h1v1h-1zM28 43h1v1h-1zM17 44h2v1h-2zM22 44h1v1h-1zM30 44h1v1h-1zM16 45h1v1h-1zM23 45h1v1h-1zM15 47h1v1h-1zM14 48h1v1h-1zM23 49h1v1h-1zM23 50h1v1h-1z"/>
<path fill="#63add7" d="M34 3h1v1h-1zM16 4h1v1h-1zM34 4h1v1h-1zM34 5h1v1h-1zM10 7h1v1h-1zM16 7h1v1h-1zM11 8h1v1h-1zM12 35h1v1h-1zM15 35h1v1h-1zM40 35h1v1h-1zM11 36h1v1h-1zM16 36h1v1h-1zM20 36h1v1h-1zM41 36h1v1h-1zM20 37h1v1h-1zM23 37h1v1h-1zM22 38h1v1h-1zM11 39h1v1h-1zM16 40h1v1h-1zM28 40h1v1h-1zM33 40h1v1h-1zM13 41h1v1h-1zM15 41h1v1h-1zM27 42h1v1h-1zM33 43h1v1h-1zM16 44h1v1h-1zM23 44h1v1h-1zM28 44h2v1h-2zM31 44h1v1h-1zM15 45h1v1h-1zM15 46h1v1h-1zM24 46h1v1h-1zM14 47h1v1h-1zM24 47h1v1h-1zM24 48h1v1h-1z"/>
<path fill="#72b5da" d="M16 2h1v1h-1zM34 2h1v1h-1zM16 3h1v1h-1zM39 6h1v1h-1zM36 7h3v1h-3zM16 8h1v1h-1zM13 9h2v1h-2zM11 35h1v1h-1zM20 35h1v1h-1zM23 35h1v1h-1zM41 35h1v1h-1zM17 37h1v1h-1zM38 37h1v1h-1zM17 38h1v1h-1zM21 38h1v1h-1zM23 38h1v1h-1zM17 39h1v1h-1zM29 39h3v1h-3zM41 39h1v1h-1zM11 40h1v1h-1zM38 40h2v1h-2zM12 41h1v1h-1zM16 41h1v1h-1zM27 41h1v1h-1zM34 41h1v1h-1zM13 42h4v1h-4zM34 42h1v1h-1zM14 43h8v1h-8zM27 43h1v1h-1zM14 44h2v1h-2zM24 44h1v1h-1zM27 44h1v1h-1zM32 44h1v1h-1zM14 45h1v1h-1zM24 45h1v1h-1zM14 46h1v1h-1zM13 47h1v1h-1zM24 49h1v1h-1zM24 50h1v1h-1z"/>
<path fill="#81bedd" d="M17 4h1v1h-1zM33 4h1v1h-1zM17 5h1v1h-1zM40 5h1v1h-1zM17 6h1v1h-1zM34 6h1v1h-1zM9 7h1v1h-1zM35 7h1v1h-1zM10 8h1v1h-1zM12 9h1v1h-1zM15 9h1v1h-1zM12 34h2v1h-2zM21 34h2v1h-2zM40 34h2v1h-2zM16 35h1v1h-1zM39 35h1v1h-1zM17 36h1v1h-1zM18 37h2v1h-2zM24 37h1v1h-1zM42 37h1v1h-1zM18 38h3v1h-3zM24 38h1v1h-1zM28 39h1v1h-1zM32 39h1v1h-1zM37 39h1v1h-1zM17 40h1v1h-1zM27 40h1v1h-1zM34 40h1v1h-1zM37 40h1v1h-1zM40 40h1v1h-1zM17 41h1v1h-1zM26 41h1v1h-1zM12 42h1v1h-1zM17 42h1v1h-1zM26 42h1v1h-1zM13 43h1v1h-1zM22 43h5v1h-5zM34 43h1v1h-1zM13 44h1v1h-1zM25 44h2v1h-2zM33 44h1v1h-1zM13 45h1v1h-1zM25 45h1v1h-1zM27 45h5v1h-5zM13 46h1v1h-1zM25 46h1v1h-1zM25 47h1v1h-1zM25 48h1v1h-1zM25 49h1v1h-1zM25 50h1v1h-1z"/>
<path fill="#90c6e0" d="M33 2h1v1h-1zM17 3h1v1h-1zM33 3h1v1h-1zM17 7h1v1h-1zM39 7h1v1h-1zM11 9h1v1h-1zM41 33h1v1h-1zM11 34h1v1h-1zM14 34h1v1h-1zM42 35h1v1h-1zM18 36h2v1h-2zM24 36h1v1h-1zM38 36h1v1h-1zM42 36h1v1h-1zM10 37h1v1h-1zM10 38h1v1h-1zM37 38h1v1h-1zM42 38h1v1h-1zM18 39h2v1h-2zM21 39h4v1h-4zM27 39h1v1h-1zM33 39h1v1h-1zM18 40h1v1h-1zM25 40h2v1h-2zM35 40h2v1h-2zM11 41h1v1h-1zM25 41h1v1h-1zM35 41h4v1h-4zM18 42h1v1h-1zM23 42h3v1h-3zM35 42h1v1h-1zM12 43h1v1h-1zM12 45h1v1h-1zM26 45h1v1h-1zM32 45h1v1h-1zM11 46h2v1h-2zM26 46h1v1h-1z"/>
<path fill="#9bcbe3" d="M17 2h1v1h-1zM33 5h1v1h-1zM40 6h1v1h-1zM9 8h1v1h-1zM17 8h1v1h-1zM10 9h1v1h-1zM16 9h1v1h-1zM40 33h1v1h-1zM15 34h1v1h-1zM20 34h1v1h-1zM23 34h1v1h-1zM39 34h1v1h-1zM42 34h1v1h-1zM10 35h1v1h-1zM17 35h3v1h-3zM10 36h1v1h-1zM25 38h1v1h-1zM10 39h1v1h-1zM20 39h1v1h-1zM25 39h2v1h-2zM34 39h3v1h-3zM22 40h3v1h-3zM41 40h1v1h-1zM18 41h1v1h-1zM23 41h2v1h-2zM39 41h1v1h-1zM11 42h1v1h-1zM19 42h4v1h-4zM36 42h1v1h-1zM35 43h1v1h-1zM11 44h2v1h-2zM34 44h1v1h-1zM11 45h1v1h-1zM33 45h1v1h-1zM27 46h4v1h-4zM26 47h2v1h-2zM26 48h1v1h-1zM26 49h1v1h-1zM26 50h1v1h-1z"/>
<path fill="#a6d0e5" d="M18 3h1v1h-1zM32 3h1v1h-1zM18 4h1v1h-1zM32 4h1v1h-1zM18 5h1v1h-1zM34 7h1v1h-1zM12 10h3v1h-3zM41 32h1v1h-1zM11 33h2v1h-2zM42 33h1v1h-1zM10 34h1v1h-1zM16 34h1v1h-1zM19 34h1v1h-1zM24 35h1v1h-1zM38 35h1v1h-1zM25 37h1v1h-1zM37 37h1v1h-1zM26 38h1v1h-1zM28 38h4v1h-4zM42 39h1v1h-1zM10 40h1v1h-1zM19 40h3v1h-3zM19 41h1v1h-1zM22 41h1v1h-1zM40 41h1v1h-1zM37 42h1v1h-1zM11 43h1v1h-1zM10 44h1v1h-1zM10 45h1v1h-1zM31 46h2v1h-2zM28 47h2v1h-2zM27 48h1v1h-1zM27 49h1v1h-1zM27 50h1v1h-1z"/>
<path fill="#b0d5e8" d="M32 1h1v1h-1zM18 2h1v1h-1zM32 2h1v1h-1zM18 6h1v1h-1zM33 6h1v1h-1zM40 7h1v1h-1zM8 8h1v1h-1zM35 8h3v1h-3zM9 9h1v1h-1zM11 10h1v1h-1zM15 10h1v1h-1zM40 32h1v1h-1zM42 32h1v1h-1zM10 33h1v1h-1zM13 33h1v1h-1zM21 33h1v1h-1zM39 33h1v1h-1zM17 34h2v1h-2zM38 34h1v1h-1zM27 38h1v1h-1zM32 38h1v1h-1zM36 38h1v1h-1zM10 41h1v1h-1zM20 41h2v1h-2zM38 42h1v1h-1zM10 43h1v1h-1zM36 43h1v1h-1zM9 44h1v1h-1zM35 44h1v1h-1zM34 45h1v1h-1zM30 47h1v1h-1zM28 48h1v1h-1zM28 49h2v1h-2zM28 50h2v1h-2z"/>
<path fill="#bbdaea" d="M31 2h1v1h-1zM31 3h1v1h-1zM32 5h1v1h-1zM41 6h1v1h-1zM18 7h1v1h-1zM38 8h1v1h-1zM17 9h1v1h-1zM10 10h1v1h-1zM10 32h2v1h-2zM14 33h1v1h-1zM20 33h1v1h-1zM22 33h1v1h-1zM24 34h1v1h-1zM43 35h1v1h-1zM25 36h1v1h-1zM37 36h1v1h-1zM43 36h1v1h-1zM26 37h1v1h-1zM43 37h1v1h-1zM33 38h3v1h-3zM42 40h1v1h-1zM41 41h1v1h-1zM10 42h1v1h-1zM39 42h1v1h-1zM9 43h1v1h-1zM37 43h1v1h-1zM33 46h1v1h-1zM31 47h2v1h-2zM29 48h2v1h-2zM30 49h2v1h-2zM30 50h2v1h-2z"/>
<path fill="#c5dfed" d="M31 1h1v1h-1zM19 2h1v1h-1zM19 3h1v1h-1zM30 3h1v1h-1zM19 4h1v1h-1zM31 4h1v1h-1zM33 7h1v1h-1zM18 8h1v1h-1zM34 8h1v1h-1zM39 8h1v1h-1zM16 10h1v1h-1zM39 32h1v1h-1zM15 33h2v1h-2zM19 33h1v1h-1zM23 33h1v1h-1zM38 33h1v1h-1zM43 34h1v1h-1zM37 35h1v1h-1zM9 37h1v1h-1zM27 37h1v1h-1zM36 37h1v1h-1zM9 38h1v1h-1zM43 38h1v1h-1zM9 39h1v1h-1zM9 42h1v1h-1zM40 42h1v1h-1zM8 43h1v1h-1zM38 43h1v1h-1zM36 44h1v1h-1zM35 45h1v1h-1zM34 46h1v1h-1zM31 48h3v1h-3zM32 49h2v1h-2zM32 50h1v1h-1z"/>
<path fill="#cfe4ef" d="M19 1h1v1h-1zM30 1h1v1h-1zM29 2h2v1h-2zM29 3h1v1h-1zM19 5h1v1h-1zM32 6h1v1h-1zM41 7h1v1h-1zM40 8h1v1h-1zM8 9h1v1h-1zM9 10h1v1h-1zM12 11h3v1h-3zM41 31h2v1h-2zM9 32h1v1h-1zM12 32h1v1h-1zM9 33h1v1h-1zM17 33h2v1h-2zM43 33h1v1h-1zM9 34h1v1h-1zM9 35h1v1h-1zM25 35h1v1h-1zM9 36h1v1h-1zM28 37h4v1h-4zM43 39h1v1h-1zM9 40h1v1h-1zM37 44h1v1h-1zM36 45h1v1h-1zM33 47h2v1h-2zM34 48h2v1h-2zM34 49h2v1h-2z"/>
<path fill="#d6e7f1" d="M20 1h1v1h-1zM26 1h4v1h-4zM20 2h1v1h-1zM26 2h3v1h-3zM20 3h1v1h-1zM28 3h1v1h-1zM19 6h1v1h-1zM19 7h1v1h-1zM18 9h1v1h-1zM17 10h1v1h-1zM11 11h1v1h-1zM15 11h1v1h-1zM10 31h1v1h-1zM40 31h1v1h-1zM13 32h1v1h-1zM43 32h1v1h-1zM24 33h1v1h-1zM37 34h1v1h-1zM26 36h1v1h-1zM36 36h1v1h-1zM32 37h4v1h-4zM9 41h1v1h-1zM42 41h1v1h-1zM8 42h1v1h-1zM39 43h1v1h-1zM38 44h1v1h-1zM35 46h2v1h-2zM35 47h2v1h-2zM36 48h2v1h-2z"/>
<path fill="#dceaf2" d="M21 1h5v1h-5zM21 2h5v1h-5zM21 3h2v1h-2zM25 3h3v1h-3zM20 4h1v1h-1zM30 4h1v1h-1zM31 5h1v1h-1zM32 7h1v1h-1zM19 8h1v1h-1zM33 8h1v1h-1zM7 9h1v1h-1zM8 10h1v1h-1zM10 11h1v1h-1zM16 11h1v1h-1zM11 31h1v1h-1zM14 32h2v1h-2zM19 32h5v1h-5zM38 32h1v1h-1zM37 33h1v1h-1zM25 34h1v1h-1zM36 35h1v1h-1zM27 36h1v1h-1zM43 40h1v1h-1zM43 41h2v1h-2zM7 42h1v1h-1zM41 42h4v1h-4zM40 43h4v1h-4zM42 44h1v1h-1zM37 45h2v1h-2zM37 46h2v1h-2zM37 47h2v1h-2z"/>
<path fill="#e3edf3" d="M23 3h2v1h-2zM21 4h1v1h-1zM29 4h1v1h-1zM20 5h1v1h-1zM42 7h1v1h-1zM41 8h1v1h-1zM9 31h1v1h-1zM12 31h1v1h-1zM39 31h1v1h-1zM43 31h1v1h-1zM16 32h3v1h-3zM26 35h1v1h-1zM28 36h1v1h-1zM35 36h1v1h-1zM44 36h1v1h-1zM44 37h1v1h-1zM44 40h1v1h-1zM8 41h1v1h-1zM45 41h1v1h-1zM39 44h3v1h-3zM39 45h3v1h-3zM39 46h2v1h-2z"/>
<path fill="#e9f0f3" d="M22 4h1v1h-1zM26 4h3v1h-3zM30 5h1v1h-1zM20 6h1v1h-1zM31 6h1v1h-1zM20 7h1v1h-1zM32 8h1v1h-1zM19 9h1v1h-1zM34 9h3v1h-3zM18 10h1v1h-1zM9 11h1v1h-1zM13 12h2v1h-2zM42 18h1v1h-1zM42 19h1v1h-1zM41 30h2v1h-2zM24 32h1v1h-1zM37 32h1v1h-1zM25 33h1v1h-1zM36 34h1v1h-1zM44 34h1v1h-1zM44 35h1v1h-1zM29 36h3v1h-3zM34 36h1v1h-1zM44 38h1v1h-1zM44 39h1v1h-1zM45 40h1v1h-1z"/>
<path fill="#eef2f4" d="M23 4h3v1h-3zM21 5h1v1h-1zM29 5h1v1h-1zM31 7h1v1h-1zM20 8h1v1h-1zM42 8h1v1h-1zM33 9h1v1h-1zM37 9h5v1h-5zM7 10h1v1h-1zM8 11h1v1h-1zM17 11h1v1h-1zM11 12h2v1h-2zM15 12h1v1h-1zM41 19h1v1h-1zM43 19h1v1h-1zM42 20h1v1h-1zM10 30h2v1h-2zM40 30h1v1h-1zM13 31h10v1h-10zM38 31h1v1h-1zM36 33h1v1h-1zM44 33h1v1h-1zM26 34h1v1h-1zM27 35h1v1h-1zM35 35h1v1h-1zM32 36h2v1h-2zM8 37h1v1h-1zM8 38h1v1h-1zM8 39h1v1h-1zM45 39h1v1h-1zM8 40h1v1h-1zM46 40h1v1h-1zM7 41h1v1h-1z"/>
<path fill="#f4f5f5" d="M22 5h1v1h-1zM27 5h2v1h-2zM21 6h1v1h-1zM30 6h1v1h-1zM20 9h1v1h-1zM32 9h1v1h-1zM19 10h1v1h-1zM30 12h1v1h-1zM30 13h2v1h-2zM30 14h2v1h-2zM41 18h1v1h-1zM43 18h1v1h-1zM41 20h1v1h-1zM12 30h1v1h-1zM39 30h1v1h-1zM43 30h1v1h-1zM23 31h1v1h-1zM8 32h1v1h-1zM25 32h1v1h-1zM36 32h1v1h-1zM44 32h1v1h-1zM8 33h1v1h-1zM26 33h1v1h-1zM8 34h1v1h-1zM35 34h1v1h-1zM8 35h1v1h-1zM28 35h1v1h-1zM34 35h1v1h-1zM8 36h1v1h-1zM46 39h1v1h-1zM6 41h1v1h-1z"/>
<path fill="#f7f4f1" d="M23 5h4v1h-4zM22 6h1v1h-1zM29 6h1v1h-1zM21 7h1v1h-1zM30 7h1v1h-1zM21 8h1v1h-1zM31 8h1v1h-1zM43 8h1v1h-1zM42 9h1v1h-1zM6 10h1v1h-1zM18 11h1v1h-1zM10 12h1v1h-1zM16 12h1v1h-1zM29 12h1v1h-1zM31 12h1v1h-1zM29 13h1v1h-1zM43 20h1v1h-1zM9 30h1v1h-1zM13 30h1v1h-1zM24 31h1v1h-1zM37 31h1v1h-1zM44 31h1v1h-1zM35 33h1v1h-1zM27 34h1v1h-1zM29 35h5v1h-5zM45 38h1v1h-1zM7 40h1v1h-1z"/>
<path fill="#f8f0ea" d="M23 6h6v1h-6zM22 7h1v1h-1zM29 7h1v1h-1zM30 8h1v1h-1zM21 9h1v1h-1zM31 9h1v1h-1zM20 10h1v1h-1zM31 10h3v1h-3zM7 11h1v1h-1zM29 11h3v1h-3zM9 12h1v1h-1zM32 13h1v1h-1zM29 14h1v1h-1zM30 15h2v1h-2zM42 17h2v1h-2zM40 19h1v1h-1zM44 19h1v1h-1zM40 20h1v1h-1zM42 21h1v1h-1zM11 29h2v1h-2zM41 29h1v1h-1zM14 30h11v1h-11zM38 30h1v1h-1zM8 31h1v1h-1zM25 31h1v1h-1zM36 31h1v1h-1zM26 32h1v1h-1zM35 32h1v1h-1zM28 34h1v1h-1zM34 34h1v1h-1zM46 38h1v1h-1z"/>
<path fill="#f9ece3" d="M23 7h6v1h-6zM22 8h1v1h-1zM29 8h1v1h-1zM29 9h2v1h-2zM43 9h1v1h-1zM29 10h2v1h-2zM34 10h1v1h-1zM19 11h1v1h-1zM28 11h1v1h-1zM32 11h1v1h-1zM8 12h1v1h-1zM17 12h1v1h-1zM28 12h1v1h-1zM32 12h1v1h-1zM12 13h3v1h-3zM28 13h1v1h-1zM32 14h1v1h-1zM41 17h1v1h-1zM40 18h1v1h-1zM44 18h1v1h-1zM44 20h1v1h-1zM41 21h1v1h-1zM43 21h1v1h-1zM10 29h1v1h-1zM13 29h9v1h-9zM40 29h1v1h-1zM42 29h1v1h-1zM25 30h1v1h-1zM37 30h1v1h-1zM44 30h1v1h-1zM35 31h1v1h-1zM34 32h1v1h-1zM27 33h1v1h-1zM34 33h1v1h-1zM29 34h1v1h-1zM33 34h1v1h-1zM45 36h1v1h-1zM45 37h1v1h-1zM47 38h1v1h-1zM6 40h1v1h-1z"/>
<path fill="#fae7db" d="M23 8h6v1h-6zM22 9h1v1h-1zM27 9h2v1h-2zM21 10h1v1h-1zM27 10h2v1h-2zM41 10h2v1h-2zM6 11h1v1h-1zM27 11h1v1h-1zM27 12h1v1h-1zM11 13h1v1h-1zM15 13h1v1h-1zM28 14h1v1h-1zM29 15h1v1h-1zM32 15h1v1h-1zM30 16h1v1h-1zM40 21h1v1h-1zM12 28h2v1h-2zM16 28h4v1h-4zM9 29h1v1h-1zM22 29h4v1h-4zM39 29h1v1h-1zM43 29h1v1h-1zM8 30h1v1h-1zM36 30h1v1h-1zM26 31h1v1h-1zM34 31h1v1h-1zM27 32h1v1h-1zM28 33h1v1h-1zM33 33h1v1h-1zM30 34h3v1h-3zM45 34h1v1h-1zM45 35h1v1h-1zM7 39h1v1h-1z"/>
<path fill="#fae3d4" d="M23 9h4v1h-4zM44 9h1v1h-1zM22 10h1v1h-1zM26 10h1v1h-1zM35 10h1v1h-1zM40 10h1v1h-1zM43 10h1v1h-1zM20 11h1v1h-1zM26 11h1v1h-1zM33 11h1v1h-1zM7 12h1v1h-1zM18 12h1v1h-1zM10 13h1v1h-1zM16 13h1v1h-1zM27 13h1v1h-1zM31 16h1v1h-1zM42 16h2v1h-2zM44 17h1v1h-1zM39 19h1v1h-1zM39 20h1v1h-1zM44 21h1v1h-1zM22 27h3v1h-3zM11 28h1v1h-1zM14 28h2v1h-2zM20 28h6v1h-6zM38 29h1v1h-1zM26 30h1v1h-1zM35 30h1v1h-1zM33 32h1v1h-1zM45 32h1v1h-1zM32 33h1v1h-1zM45 33h1v1h-1zM46 37h1v1h-1zM7 38h1v1h-1zM5 40h1v1h-1z"/>
<path fill="#fbdecd" d="M23 10h3v1h-3zM36 10h1v1h-1zM39 10h1v1h-1zM44 10h1v1h-1zM5 11h1v1h-1zM21 11h1v1h-1zM25 11h1v1h-1zM43 11h1v1h-1zM26 12h1v1h-1zM9 13h1v1h-1zM27 14h1v1h-1zM28 15h1v1h-1zM29 16h1v1h-1zM30 17h1v1h-1zM45 19h1v1h-1zM45 20h1v1h-1zM39 21h1v1h-1zM41 22h3v1h-3zM24 26h2v1h-2zM13 27h9v1h-9zM25 27h2v1h-2zM10 28h1v1h-1zM26 28h1v1h-1zM40 28h2v1h-2zM26 29h1v1h-1zM36 29h2v1h-2zM44 29h1v1h-1zM34 30h1v1h-1zM27 31h1v1h-1zM33 31h1v1h-1zM45 31h1v1h-1zM28 32h1v1h-1zM32 32h1v1h-1zM29 33h3v1h-3zM7 37h1v1h-1zM47 37h1v1h-1zM6 39h1v1h-1z"/>
<path fill="#fbd8c5" d="M37 10h2v1h-2zM45 10h1v1h-1zM22 11h3v1h-3zM42 11h1v1h-1zM44 11h1v1h-1zM6 12h1v1h-1zM19 12h1v1h-1zM25 12h1v1h-1zM33 12h1v1h-1zM8 13h1v1h-1zM17 13h1v1h-1zM26 13h1v1h-1zM28 16h1v1h-1zM32 16h1v1h-1zM41 16h1v1h-1zM44 16h1v1h-1zM29 17h1v1h-1zM31 17h1v1h-1zM40 17h1v1h-1zM39 18h1v1h-1zM45 18h1v1h-1zM40 22h1v1h-1zM16 26h8v1h-8zM26 26h1v1h-1zM12 27h1v1h-1zM27 27h1v1h-1zM27 28h1v1h-1zM39 28h1v1h-1zM42 28h2v1h-2zM27 29h1v1h-1zM35 29h1v1h-1zM27 30h1v1h-1zM33 30h1v1h-1zM45 30h1v1h-1zM32 31h1v1h-1zM7 32h1v1h-1zM29 32h1v1h-1zM31 32h1v1h-1zM7 36h1v1h-1zM46 36h1v1h-1zM48 37h1v1h-1z"/>
<path fill="#f9d0ba" d="M34 11h1v1h-1zM45 11h1v1h-1zM20 12h1v1h-1zM24 12h1v1h-1zM44 12h1v1h-1zM25 13h1v1h-1zM33 13h1v1h-1zM12 14h3v1h-3zM26 14h1v1h-1zM33 14h1v1h-1zM27 15h1v1h-1zM43 15h1v1h-1zM32 17h1v1h-1zM45 17h1v1h-1zM30 18h2v1h-2zM38 19h1v1h-1zM38 20h1v1h-1zM38 21h1v1h-1zM45 21h1v1h-1zM39 22h1v1h-1zM44 22h1v1h-1zM22 25h6v1h-6zM13 26h3v1h-3zM27 26h1v1h-1zM11 27h1v1h-1zM28 27h1v1h-1zM9 28h1v1h-1zM28 28h1v1h-1zM37 28h2v1h-2zM8 29h1v1h-1zM33 29h2v1h-2zM28 30h1v1h-1zM32 30h1v1h-1zM7 31h1v1h-1zM28 31h1v1h-1zM30 32h1v1h-1zM7 33h1v1h-1zM7 34h1v1h-1zM7 35h1v1h-1zM47 36h1v1h-1zM5 39h1v1h-1z"/>
<path fill="#f8c8af" d="M41 11h1v1h-1zM46 11h1v1h-1zM5 12h1v1h-1zM21 12h3v1h-3zM43 12h1v1h-1zM45 12h2v1h-2zM7 13h1v1h-1zM18 13h1v1h-1zM44 13h2v1h-2zM11 14h1v1h-1zM15 14h1v1h-1zM43 14h2v1h-2zM26 15h1v1h-1zM33 15h1v1h-1zM42 15h1v1h-1zM44 15h1v1h-1zM45 16h1v1h-1zM28 17h1v1h-1zM29 18h1v1h-1zM30 19h2v1h-2zM46 19h1v1h-1zM45 22h1v1h-1zM40 23h4v1h-4zM20 25h2v1h-2zM28 25h1v1h-1zM12 26h1v1h-1zM28 26h2v1h-2zM10 27h1v1h-1zM29 27h1v1h-1zM41 27h1v1h-1zM34 28h3v1h-3zM44 28h1v1h-1zM28 29h1v1h-1zM32 29h1v1h-1zM45 29h1v1h-1zM29 31h3v1h-3zM46 35h1v1h-1z"/>
<path fill="#f7c0a4" d="M40 11h1v1h-1zM42 12h1v1h-1zM6 13h1v1h-1zM24 13h1v1h-1zM43 13h1v1h-1zM46 13h2v1h-2zM10 14h1v1h-1zM16 14h1v1h-1zM25 14h1v1h-1zM45 14h1v1h-1zM45 15h1v1h-1zM27 16h1v1h-1zM33 16h1v1h-1zM32 18h1v1h-1zM46 18h1v1h-1zM29 19h1v1h-1zM30 20h2v1h-2zM37 20h1v1h-1zM46 20h1v1h-1zM37 21h1v1h-1zM46 21h1v1h-1zM38 22h1v1h-1zM39 23h1v1h-1zM44 23h1v1h-1zM24 24h7v1h-7zM15 25h5v1h-5zM29 25h2v1h-2zM30 26h1v1h-1zM30 27h2v1h-2zM38 27h3v1h-3zM42 27h2v1h-2zM29 28h5v1h-5zM29 29h3v1h-3zM7 30h1v1h-1zM29 30h3v1h-3zM46 31h1v1h-1zM46 32h1v1h-1zM46 33h1v1h-1zM46 34h1v1h-1zM48 36h1v1h-1zM6 38h1v1h-1z"/>
<path fill="#f5b79a" d="M35 11h1v1h-1zM19 13h1v1h-1zM23 13h1v1h-1zM42 13h1v1h-1zM9 14h1v1h-1zM42 14h1v1h-1zM46 14h3v1h-3zM41 15h1v1h-1zM46 15h1v1h-1zM40 16h1v1h-1zM33 17h1v1h-1zM39 17h1v1h-1zM46 17h1v1h-1zM28 18h1v1h-1zM38 18h1v1h-1zM32 19h1v1h-1zM37 19h1v1h-1zM29 20h1v1h-1zM32 20h1v1h-1zM29 21h4v1h-4zM29 22h3v1h-3zM37 22h1v1h-1zM46 22h1v1h-1zM28 23h4v1h-4zM38 23h1v1h-1zM45 23h1v1h-1zM21 24h3v1h-3zM31 24h1v1h-1zM40 24h3v1h-3zM13 25h2v1h-2zM31 25h2v1h-2zM11 26h1v1h-1zM31 26h3v1h-3zM32 27h6v1h-6zM44 27h1v1h-1zM8 28h1v1h-1zM45 28h1v1h-1zM46 29h1v1h-1zM46 30h1v1h-1zM47 35h1v1h-1z"/>
<path fill="#f3ae90" d="M39 11h1v1h-1zM34 12h1v1h-1zM41 12h1v1h-1zM5 13h1v1h-1zM20 13h3v1h-3zM8 14h1v1h-1zM17 14h1v1h-1zM24 14h1v1h-1zM25 15h1v1h-1zM47 15h2v1h-2zM26 16h1v1h-1zM46 16h2v1h-2zM27 17h1v1h-1zM33 18h1v1h-1zM28 19h1v1h-1zM33 19h1v1h-1zM47 19h1v1h-1zM33 20h1v1h-1zM36 20h1v1h-1zM47 20h1v1h-1zM33 21h1v1h-1zM36 21h1v1h-1zM28 22h1v1h-1zM32 22h2v1h-2zM36 22h1v1h-1zM26 23h2v1h-2zM32 23h2v1h-2zM37 23h1v1h-1zM19 24h2v1h-2zM32 24h2v1h-2zM39 24h1v1h-1zM43 24h2v1h-2zM12 25h1v1h-1zM33 25h2v1h-2zM40 25h2v1h-2zM34 26h10v1h-10zM9 27h1v1h-1zM45 27h1v1h-1zM46 28h1v1h-1zM7 29h1v1h-1zM48 35h1v1h-1zM5 38h1v1h-1z"/>
<path fill="#f1a685" d="M41 13h1v1h-1zM7 14h1v1h-1zM18 14h1v1h-1zM23 14h1v1h-1zM41 14h1v1h-1zM12 15h3v1h-3zM48 16h2v1h-2zM47 17h3v1h-3zM47 18h3v1h-3zM34 19h1v1h-1zM36 19h1v1h-1zM48 19h2v1h-2zM28 20h1v1h-1zM34 20h2v1h-2zM28 21h1v1h-1zM34 21h2v1h-2zM47 21h1v1h-1zM34 22h2v1h-2zM23 23h3v1h-3zM34 23h3v1h-3zM46 23h1v1h-1zM17 24h2v1h-2zM34 24h5v1h-5zM45 24h1v1h-1zM35 25h5v1h-5zM42 25h4v1h-4zM10 26h1v1h-1zM44 26h2v1h-2zM46 27h1v1h-1zM47 34h1v1h-1zM49 35h1v1h-1zM6 37h1v1h-1z"/>
<path fill="#ed9b7d" d="M36 11h1v1h-1zM38 11h1v1h-1zM4 13h1v1h-1zM6 14h1v1h-1zM10 15h2v1h-2zM15 15h1v1h-1zM24 15h1v1h-1zM25 16h1v1h-1zM26 17h1v1h-1zM27 18h1v1h-1zM34 18h1v1h-1zM37 18h1v1h-1zM35 19h1v1h-1zM50 19h1v1h-1zM48 20h3v1h-3zM27 22h1v1h-1zM47 22h1v1h-1zM21 23h2v1h-2zM47 23h1v1h-1zM14 24h3v1h-3zM46 24h1v1h-1zM11 25h1v1h-1zM46 25h1v1h-1zM46 26h1v1h-1zM8 27h1v1h-1zM47 28h1v1h-1zM47 29h1v1h-1zM47 30h1v1h-1zM47 31h1v1h-1zM47 32h1v1h-1zM47 33h1v1h-1zM48 34h2v1h-2zM6 36h1v1h-1zM4 38h1v1h-1z"/>
<path fill="#e99074" d="M37 11h1v1h-1zM40 12h1v1h-1zM34 13h1v1h-1zM5 14h1v1h-1zM19 14h4v1h-4zM8 15h2v1h-2zM16 15h1v1h-1zM40 15h1v1h-1zM34 16h1v1h-1zM39 16h1v1h-1zM34 17h1v1h-1zM38 17h1v1h-1zM35 18h2v1h-2zM27 19h1v1h-1zM27 21h1v1h-1zM48 21h3v1h-3zM26 22h1v1h-1zM48 22h1v1h-1zM20 23h1v1h-1zM13 24h1v1h-1zM47 24h1v1h-1zM47 25h1v1h-1zM9 26h1v1h-1zM47 26h1v1h-1zM47 27h1v1h-1zM7 28h1v1h-1zM6 31h1v1h-1zM6 32h1v1h-1zM48 32h2v1h-2zM48 33h2v1h-2zM6 35h1v1h-1z"/>
<path fill="#e5866c" d="M34 14h1v1h-1zM7 15h1v1h-1zM17 15h1v1h-1zM23 15h1v1h-1zM34 15h1v1h-1zM24 16h1v1h-1zM25 17h1v1h-1zM26 18h1v1h-1zM27 20h1v1h-1zM23 22h3v1h-3zM49 22h2v1h-2zM19 23h1v1h-1zM48 23h3v1h-3zM12 24h1v1h-1zM10 25h1v1h-1zM6 30h1v1h-1zM48 30h3v1h-3zM48 31h3v1h-3zM50 32h1v1h-1zM6 33h1v1h-1zM6 34h1v1h-1zM5 37h1v1h-1z"/>
<path fill="#e17b64" d="M40 13h1v1h-1zM4 14h1v1h-1zM40 14h1v1h-1zM6 15h1v1h-1zM22 15h1v1h-1zM35 17h1v1h-1zM26 21h1v1h-1zM21 22h2v1h-2zM17 23h2v1h-2zM11 24h1v1h-1zM48 24h3v1h-3zM48 25h3v1h-3zM8 26h1v1h-1zM48 26h3v1h-3zM7 27h1v1h-1zM48 27h3v1h-3zM48 28h3v1h-3zM6 29h1v1h-1zM48 29h3v1h-3z"/>
<path fill="#dd705b" d="M35 12h1v1h-1zM39 12h1v1h-1zM3 14h1v1h-1zM5 15h1v1h-1zM18 15h4v1h-4zM10 16h5v1h-5zM23 16h1v1h-1zM24 17h1v1h-1zM37 17h1v1h-1zM25 18h1v1h-1zM26 19h1v1h-1zM26 20h1v1h-1zM25 21h1v1h-1zM20 22h1v1h-1zM14 23h3v1h-3zM9 25h1v1h-1zM6 28h1v1h-1zM4 37h1v1h-1z"/>
<path fill="#da6452" d="M39 15h1v1h-1zM8 16h2v1h-2zM15 16h1v1h-1zM22 16h1v1h-1zM38 16h1v1h-1zM23 17h1v1h-1zM36 17h1v1h-1zM24 18h1v1h-1zM22 21h3v1h-3zM19 22h1v1h-1zM12 23h2v1h-2zM10 24h1v1h-1z"/>
<path fill="#d55a4c" d="M38 12h1v1h-1zM4 15h1v1h-1zM6 16h2v1h-2zM16 16h1v1h-1zM21 16h1v1h-1zM35 16h1v1h-1zM23 18h1v1h-1zM24 19h2v1h-2zM22 20h4v1h-4zM21 21h1v1h-1zM18 22h1v1h-1zM11 23h1v1h-1zM8 25h1v1h-1zM7 26h1v1h-1zM6 27h1v1h-1zM5 36h1v1h-1zM3 37h1v1h-1z"/>
<path fill="#d15047" d="M36 12h1v1h-1zM39 13h1v1h-1zM39 14h1v1h-1zM3 15h1v1h-1zM5 16h1v1h-1zM17 16h4v1h-4zM22 17h1v1h-1zM22 18h1v1h-1zM22 19h2v1h-2zM21 20h1v1h-1zM20 21h1v1h-1zM17 22h1v1h-1zM10 23h1v1h-1zM9 24h1v1h-1zM5 30h1v1h-1z"/>
<path fill="#cc4643" d="M37 12h1v1h-1zM35 13h1v1h-1zM4 16h1v1h-1zM36 16h2v1h-2zM8 17h6v1h-6zM21 17h1v1h-1zM21 18h1v1h-1zM21 19h1v1h-1zM19 21h1v1h-1zM13 22h4v1h-4zM8 24h1v1h-1zM7 25h1v1h-1zM6 26h1v1h-1zM5 28h1v1h-1zM5 29h1v1h-1zM5 31h1v1h-1zM4 36h1v1h-1z"/>
<path fill="#c83b3f" d="M35 15h1v1h-1zM38 15h1v1h-1zM3 16h1v1h-1zM6 17h2v1h-2zM14 17h2v1h-2zM19 17h2v1h-2zM20 20h1v1h-1zM11 22h2v1h-2zM9 23h1v1h-1zM5 27h1v1h-1zM5 32h1v1h-1zM5 35h1v1h-1zM3 36h1v1h-1z"/>
<path fill="#c42f3b" d="M38 13h1v1h-1zM35 14h1v1h-1zM2 16h1v1h-1zM4 17h2v1h-2zM16 17h3v1h-3zM8 18h3v1h-3zM20 18h1v1h-1zM20 19h1v1h-1zM19 20h1v1h-1zM18 21h1v1h-1zM10 22h1v1h-1zM8 23h1v1h-1zM7 24h1v1h-1zM6 25h1v1h-1zM5 33h1v1h-1zM5 34h1v1h-1z"/>
<path fill="#c12238" d="M38 14h1v1h-1zM3 17h1v1h-1zM6 18h2v1h-2zM11 18h2v1h-2zM19 18h1v1h-1zM19 19h1v1h-1zM10 21h8v1h-8zM8 22h2v1h-2zM7 23h1v1h-1zM6 24h1v1h-1zM5 26h1v1h-1zM4 35h1v1h-1z"/>
<path fill="#ba1935" d="M36 15h2v1h-2zM2 17h1v1h-1zM4 18h2v1h-2zM13 18h3v1h-3zM17 18h2v1h-2zM7 19h5v1h-5zM8 20h4v1h-4zM18 20h1v1h-1zM8 21h2v1h-2zM7 22h1v1h-1zM6 23h1v1h-1zM5 25h1v1h-1zM4 28h1v1h-1zM4 29h1v1h-1z"/>
<path fill="#ac1731" d="M36 13h2v1h-2zM2 18h2v1h-2zM16 18h1v1h-1zM5 19h2v1h-2zM12 19h2v1h-2zM18 19h1v1h-1zM6 20h2v1h-2zM12 20h4v1h-4zM17 20h1v1h-1zM6 21h2v1h-2zM6 22h1v1h-1zM5 24h1v1h-1zM4 26h1v1h-1zM4 27h1v1h-1zM4 30h1v1h-1zM4 31h1v1h-1zM3 35h1v1h-1z"/>
<path fill="#9e142d" d="M2 19h3v1h-3zM14 19h4v1h-4zM5 20h1v1h-1zM16 20h1v1h-1zM5 21h1v1h-1zM5 22h1v1h-1zM5 23h1v1h-1zM4 24h1v1h-1zM4 25h1v1h-1zM4 32h1v1h-1zM4 34h1v1h-1zM2 35h1v1h-1z"/>
<path fill="#90112a" d="M36 14h2v1h-2zM1 19h1v1h-1zM1 20h4v1h-4zM4 21h1v1h-1zM4 22h1v1h-1zM4 23h1v1h-1zM4 33h1v1h-1zM2 34h2v1h-2z"/>
<path fill="#830b26" d="M1 21h3v1h-3zM1 22h3v1h-3zM3 23h1v1h-1zM1 24h3v1h-3zM1 25h3v1h-3zM1 26h3v1h-3zM1 27h3v1h-3zM1 28h3v1h-3zM1 29h3v1h-3zM1 30h3v1h-3zM1 31h3v1h-3zM1 32h3v1h-3zM2 33h2v1h-2z"/>
<path fill="#770623" d="M1 23h2v1h-2z"/>
</g></g>
<path d="M504 81.7 535 117.7 536.7 119.1 542.7 121.2 548.7 122.3 552.7 122.4 558.7 121.6 564.7 118.9 567.9 115.7 569.8 111.7 571.1 105.7 572.3 95.7 566.5 81.7M677.4 81.7 673 93.7 673.6 95.7 678.2 103.7 681.5 107.7 684.7 110 690.7 111.2 698.7 110.7 703.2 109.7 722.7 81.7M598.7 275.6 594.9 277.7 591.9 281.7 590.6 287.7 591.5 291.7 594.7 295.3 598.7 297.3 604.7 298.2 608.7 297.2 610.8 295.7 612.8 291.7 613 285.7 611.7 281.7 608.8 277.7 606.7 276.2 602.7 275.1 598.7 275.6M542.7 277.1 540.7 278.3 538.7 280.6 536.1 287.7 535.5 295.7 536.9 303.7 540.7 311.6 546.7 318.2 552.7 321.6 556.7 322.2 558.7 321.7 560.7 320.7 564.7 317.4 568.7 312.3 571.3 307.7 574.4 299.7 574.8 295.7 574.1 291.7 572.3 287.7 569.5 283.7 566.7 281.2 562.7 279 556.7 277.1 550.7 276.2 546.7 276.2 542.7 277.1M712.7 277 708.7 279.2 704.7 283.3 701.8 287.7 698.9 293.7 697.1 299.7 696.9 303.7 698.7 307.3 700.7 308.7 702.7 309.4 706.7 309.5 712.7 307.5 717.4 303.7 720.7 297.9 721.7 291.7 720.6 283.7 718.7 279.6 716.7 277.5 714.7 276.8 712.7 277M648.7 303.6 644.7 304.8 640.7 306.7 636.9 309.7 635.3 311.7 633.3 315.7 632.3 319.7 632.2 323.7 633.3 327.7 636.3 331.7 638.7 333.4 642.7 335.3 646.7 336.3 650.7 336.5 656.7 335.9 660.7 335 664.7 333.2 669.5 329.7 673.8 323.7 675.6 317.7 675.1 313.7 674 311.7 669.8 307.7 662.7 304.3 656.7 303.1 648.7 303.6M616.5 363.7 617.3 351.7 616.8 343.7 615.3 337.7 612.7 334 608.7 331.3 602.7 329.3 594.7 328.2 580.7 327.6 570.7 328.6 564.7 330.9 562.7 332.3 560.7 334.7 558 341.7 545.6 363.7M654.5 81.7 653.2 87.7 660.7 95.8 670.7 111.9 674.6 115.7 678.2 117.7 682.7 119 686.7 119.3 708.7 117.1 710.7 116.8 712.7 115.7 740.6 81.7M484.7 88.5 526.7 128.3 534.7 131.3 542.7 133.4 548.7 134.2 554.7 134.2 562.7 132.6 569 129.7 574.7 125.5 579.4 119.7 581.9 113.7 585.2 97.7 587.8 91.7 588.2 89.7 585.9 81.7M669.4 363.7 666.2 353.7 667.3 351.7 676.7 345.4 692.7 331.6 708.7 322.7 718.7 316 724.7 310.4 728.9 303.7 730.8 297.7 731.7 289.7 731.1 279.7 729.5 265.7 728.3 261.7 725.3 257.7 722.7 256.3 718.7 255.8 712.2 257.7 708.7 259.8 704.1 263.7 697.8 271.7 694.8 277.7 690.9 287.7 688.7 291.1 684.7 294 678.7 295.5 672.7 295.1 656.7 292.9 638.7 292.3 632.7 291 628.7 289 624.7 285 618.7 274.1 614.9 269.7 610.7 266.9 606.7 265.4 602.7 264.8 596.7 264.9 580.7 268.4 574.7 268.5 550.7 264.4 536.7 259.3 532.7 258.9 530.7 259.3 528 261.7 527.2 265.7 526.3 299.7 527 307.7 528.8 317.7 528.6 319.7 484.9 363.7M484.7 109.2 518.7 136.5 528.7 140.2 538.7 142.8 548.7 144.1 556.7 144 562.7 142.9 571 139.7 578.7 135.5 586.8 129.7 591 125.7 594 121.7 596.1 117.7 599.3 107.7 601.4 103.7 604.7 101 610.7 99.1 618.7 98.7 630.7 99.6 638.7 101 644.7 103.1 650.7 107.4 662.7 122.3 664.7 123.9 668.7 125.5 676.7 125.9 700.7 124.4 720.7 124.4 763 81.7M650.7 141.6 648.9 145.7 648.9 147.7 650.4 151.7 652.7 154.2 654.7 155.3 656.7 155.5 658.7 154.8 660.7 152.6 661.4 149.7 660.8 145.7 659.8 143.7 658.7 141.9 656.7 140.3 654.7 139.9 652.7 140.3 650.7 141.6M722.7 173 718.7 175.1 716.7 177.2 715.2 179.7 714.2 183.7 714.7 186.4 716.7 189.4 718.7 190.7 722.7 191.7 726.7 191 730.7 188.2 732.2 185.7 733 181.7 732.1 177.7 730.7 175.5 728.7 173.8 726.7 172.9 722.7 173M766.7 313.8 740.7 297 740.1 295.7 739.7 285.7 737.6 263.7 736.3 257.7 734.7 254 732.7 251.2 728.7 248 724.7 246.2 720.7 245.5 714.7 245.7 708.7 247.2 702.7 249.9 693.5 255.7 688.7 259.7 685.3 263.7 678.7 274.9 676 277.7 670.7 280.3 662.7 281.1 646.7 280 638.7 277.1 632.7 272.3 624.7 262.2 620.7 258 616.7 255.3 612.7 253.6 608.7 252.9 588.7 251.9 554.7 252.4 550.7 251.3 542.7 247 538.7 246 534.7 246 530.7 246.9 525.8 249.7 522.7 252.9 520.4 257.7 519.5 263.7 519.6 283.7 518.2 305.7 517.4 307.7 484.7 333.6M484.7 126.8 512.7 145.7 528.7 150.3 544.7 152.8 554.7 153.1 562.7 152.2 598.7 138.8 606.7 137.5 612.7 138.2 616.7 140.2 620.6 143.7 629.5 155.7 646.7 173.4 650.7 176.3 654.7 177.2 656.7 176.8 660.7 174.1 665.5 167.7 669.2 157.7 671.3 141.7 673.3 137.7 675.2 135.7 678.2 133.7 683.7 131.7 690.7 130.5 698.7 130.2 704.7 130.7 716.9 133.7 730.7 139.7 734.7 140.7 766.7 117.4M726.7 159.5 720.7 162.5 712.7 168.9 703.1 179.7 699.6 185.7 699.4 191.7 700.7 195.1 702.5 197.7 707.5 201.7 714.7 204.7 718.7 205.3 724.7 205.3 730.7 204.2 734.7 202.6 738.7 200.1 741.1 197.7 743.7 193.7 745.1 189.7 745.6 185.7 745.1 179.7 743.1 173.7 738.7 164.7 736.4 161.7 732.7 159.2 730.7 158.8 726.7 159.5M766.7 292.5 748.7 283.6 747.4 281.7 745.7 271.7 745.4 255.7 744 249.7 740.7 243.4 737 239.7 733.8 237.7 724.7 234.7 714.7 234 706.7 235.1 678.7 240.9 672.7 243.2 669.1 245.7 658.7 258.3 654.7 260.3 650.7 260.7 647.4 259.7 644.7 258.1 642.4 255.7 640 251.7 637.9 243.7 637.8 229.7 636.8 225.7 635.8 223.7 634 221.7 630.7 219.6 626.7 218.4 622.7 218.2 588.7 222.8 572.7 223.3 550.7 225.8 540.7 229.5 526.7 237 522.7 240.1 518.7 244.6 516.7 248 514.7 253.5 513.8 259.7 513.9 279.7 511.8 295.7 511.2 297.7 484.7 315.6M684.5 137.7 688.7 136.4 694.7 135.8 700.7 136.6 704.7 137.8 708.7 139.9 712.7 143.7 713.9 145.7 714.7 149.7 714 153.7 712 157.7 709.1 161.7 703.4 167.7 698.7 171.5 692.7 175.2 688.7 176.9 684.7 177.5 682.7 177.1 680.7 175.9 677.9 171.7 676.2 165.7 675.6 157.7 675.7 151.7 677 145.7 679.2 141.7 681.2 139.7 684.5 137.7M484.7 143.5 506.7 155.7 520.7 159.2 534.7 161.3 546.7 161.8 558.7 161.2 566.7 159.9 582.7 155.3 588.7 154.2 596.7 153.7 602.7 154.6 606.7 156.3 610.7 159.1 628.7 175.7 632.8 181.7 634.3 185.7 634.7 189.7 633.8 193.7 631 197.7 628.2 199.7 624.7 201.1 618.7 202.3 602.7 204 580.7 209 546.7 212.7 538.7 215.7 528.7 222.4 520.7 228.5 515.3 233.7 512.5 237.7 509.8 243.7 508 253.7 508.6 275.7 506.7 287.7 504.7 290.3 484.7 301.5M766.7 261.8 758.7 259.6 757.2 257.7 757.2 239.7 754.3 221.7 755.1 215.7 760.1 201.7 760.7 200.6 766.7 199.6M686.1 143.7 690.7 142.1 694.7 142.2 699.1 143.7 701.6 145.7 703.1 147.7 704 151.7 702.7 156.4 698.7 161.5 694.7 164 690.7 165 686.7 164.1 684.7 162.5 682.7 159.6 681.3 153.7 681.7 149.7 683.8 145.7 686.1 143.7M484.7 161.9 500.7 168.6 512.7 171.6 522.7 173.1 536.7 173.2 574.7 169 584.7 169.2 590.7 171.3 593.8 173.7 595.2 175.7 596.2 179.7 595.1 183.7 591.1 189.7 586.5 193.7 582.7 195.9 578.2 197.7 572.7 198.9 544.7 200.7 534.7 202.8 530.7 204.4 524.7 208 510.7 219.9 507.4 223.7 504.7 228 502.4 233.7 501.1 239.7 500.8 251.7 503.3 271.7 501.8 279.7 500.7 281.1 484.7 288.7" fill="none" stroke="#1a1a1a" stroke-width="0.55" stroke-opacity="0.85" stroke-linejoin="round"/>
</g>
<g fill="none" stroke="#231f20" stroke-linejoin="round" stroke-linecap="round">
<path stroke-width="1.5" d="M649.8 86.8 625.2 65.2 600.6 86.8M489.5 207 486 201 483.8 200.8 480.5 201.8 477.3 207 477.8 223.7 475.9 247.6 480 258 486 260 491.7 254.9M760.9 207 764.4 201 766.6 200.8 769.9 201.8 773.1 207 772.6 223.7 774.5 247.6 770.4 258 764.4 260 758.7 254.9"/>
<circle cx="625.2" cy="222.2" r="136.5" stroke-width="1.8"/>
</g>
<g fill="#231f20">
<circle cx="708.1" cy="143.3" r="3.8"/>
<circle cx="688.5" cy="151.1" r="3.8"/>
<circle cx="582" cy="155.3" r="3.8"/>
<circle cx="603.4" cy="156.8" r="3.8"/>
<circle cx="502.2" cy="168.3" r="3.8"/>
<circle cx="526.5" cy="179.6" r="3.8"/>
<circle cx="550.7" cy="184.5" r="3.8"/>
<circle cx="575.4" cy="187.5" r="3.8"/>
<circle cx="674.6" cy="187.5" r="3.8"/>
<circle cx="600.1" cy="188.4" r="3.8"/>
<circle cx="625" cy="188.9" r="3.8"/>
<circle cx="521.4" cy="220" r="3.8"/>
<circle cx="502.2" cy="271.7" r="3.8"/>
<circle cx="541.9" cy="296.7" r="3.8"/>
<circle cx="561.5" cy="288.9" r="3.8"/>
<circle cx="565.7" cy="324.5" r="3.8"/>
<circle cx="594.1" cy="340.9" r="3.8"/>
<circle cx="594.1" cy="99.1" r="1.25"/>
<circle cx="655.9" cy="99.1" r="1.25"/>
<circle cx="565.7" cy="115.5" r="1.25"/>
<circle cx="684.3" cy="115.5" r="1.25"/>
<circle cx="593.9" cy="124.1" r="1.25"/>
<circle cx="656.1" cy="124.1" r="1.25"/>
<circle cx="541.9" cy="143.3" r="1.25"/>
<circle cx="561.5" cy="151.1" r="1.25"/>
<circle cx="668" cy="155.3" r="1.25"/>
<circle cx="646.6" cy="156.8" r="1.25"/>
<circle cx="625" cy="157.5" r="1.25"/>
<circle cx="747.8" cy="168.3" r="1.25"/>
<circle cx="723.5" cy="179.6" r="1.25"/>
<circle cx="699.3" cy="184.5" r="1.25"/>
<circle cx="649.9" cy="188.4" r="1.25"/>
<circle cx="728.6" cy="220" r="1.25"/>
<circle cx="547.3" cy="220" r="1.25"/>
<circle cx="702.7" cy="220" r="1.25"/>
<circle cx="573.2" cy="220" r="1.25"/>
<circle cx="676.8" cy="220" r="1.25"/>
<circle cx="599.1" cy="220" r="1.25"/>
<circle cx="650.9" cy="220" r="1.25"/>
<circle cx="625" cy="220" r="1.25"/>
<circle cx="747.8" cy="271.7" r="1.25"/>
<circle cx="526.5" cy="260.4" r="1.25"/>
<circle cx="723.5" cy="260.4" r="1.25"/>
<circle cx="550.7" cy="255.5" r="1.25"/>
<circle cx="699.3" cy="255.5" r="1.25"/>
<circle cx="575.4" cy="252.5" r="1.25"/>
<circle cx="674.6" cy="252.5" r="1.25"/>
<circle cx="600.1" cy="251.6" r="1.25"/>
<circle cx="649.9" cy="251.6" r="1.25"/>
<circle cx="625" cy="251.1" r="1.25"/>
<circle cx="708.1" cy="296.7" r="1.25"/>
<circle cx="688.5" cy="288.9" r="1.25"/>
<circle cx="582" cy="284.7" r="1.25"/>
<circle cx="668" cy="284.7" r="1.25"/>
<circle cx="603.4" cy="283.2" r="1.25"/>
<circle cx="646.6" cy="283.2" r="1.25"/>
<circle cx="625" cy="282.5" r="1.25"/>
<circle cx="684.3" cy="324.5" r="1.25"/>
<circle cx="593.9" cy="315.9" r="1.25"/>
<circle cx="656.1" cy="315.9" r="1.25"/>
<circle cx="625" cy="313.8" r="1.25"/>
<circle cx="655.9" cy="340.9" r="1.25"/>
<circle cx="625" cy="345.2" r="1.25"/>
</g>
<!-- head c -->
<g clip-path="url(#clc)">
<circle cx="1050.5" cy="224" r="136.5" fill="#63add7"/>
<g filter="url(#bl)"><g transform="translate(894.5 68) scale(6)" shape-rendering="crispEdges">
<path fill="#23427c" d="M41 31h3v1h-3zM40 32h4v1h-4zM39 33h5v1h-5zM38 34h6v1h-6zM38 35h6v1h-6zM22 36h1v1h-1zM38 36h6v1h-6zM38 37h6v1h-6zM38 38h6v1h-6zM38 39h6v1h-6zM39 40h4v1h-4zM40 41h2v1h-2zM19 45h3v1h-3zM18 46h5v1h-5zM18 47h5v1h-5zM18 48h4v1h-4zM17 49h5v1h-5zM19 50h3v1h-3z"/>
<path fill="#214885" d="M44 32h1v1h-1zM44 33h1v1h-1zM44 34h1v1h-1zM22 35h1v1h-1zM44 35h1v1h-1zM21 36h1v1h-1zM44 36h1v1h-1zM44 37h1v1h-1zM44 38h1v1h-1zM44 39h1v1h-1zM30 40h2v1h-2zM38 40h1v1h-1zM43 40h3v1h-3zM30 41h2v1h-2zM39 41h1v1h-1zM42 41h4v1h-4zM43 42h2v1h-2zM20 44h2v1h-2zM18 45h1v1h-1zM22 45h1v1h-1zM17 47h1v1h-1zM17 48h1v1h-1zM22 48h1v1h-1zM22 49h1v1h-1zM22 50h1v1h-1z"/>
<path fill="#1f4e8e" d="M42 30h2v1h-2zM40 31h1v1h-1zM44 31h1v1h-1zM39 32h1v1h-1zM38 33h1v1h-1zM22 34h1v1h-1zM21 35h1v1h-1zM23 35h1v1h-1zM23 36h1v1h-1zM22 37h2v1h-2zM37 37h1v1h-1zM37 38h1v1h-1zM37 39h1v1h-1zM45 39h1v1h-1zM32 40h1v1h-1zM46 40h1v1h-1zM29 41h1v1h-1zM32 41h1v1h-1zM38 41h1v1h-1zM30 42h2v1h-2zM40 42h3v1h-3zM42 43h2v1h-2zM19 44h1v1h-1zM17 46h1v1h-1zM23 46h1v1h-1zM23 47h1v1h-1zM16 48h1v1h-1zM23 48h1v1h-1zM16 49h1v1h-1zM23 49h1v1h-1z"/>
<path fill="#1c5498" d="M44 30h1v1h-1zM21 34h1v1h-1zM23 34h1v1h-1zM37 35h1v1h-1zM37 36h1v1h-1zM21 37h1v1h-1zM22 38h1v1h-1zM45 38h1v1h-1zM29 39h4v1h-4zM46 39h1v1h-1zM29 40h1v1h-1zM33 40h1v1h-1zM37 40h1v1h-1zM33 41h1v1h-1zM29 42h1v1h-1zM32 42h1v1h-1zM39 42h1v1h-1zM30 43h2v1h-2zM41 43h1v1h-1zM18 44h1v1h-1zM22 44h1v1h-1zM42 44h1v1h-1zM17 45h1v1h-1zM23 45h1v1h-1zM16 47h1v1h-1zM23 50h1v1h-1z"/>
<path fill="#1a5a9f" d="M41 30h1v1h-1zM45 31h1v1h-1zM45 32h1v1h-1zM21 33h2v1h-2zM20 34h1v1h-1zM37 34h1v1h-1zM20 35h1v1h-1zM24 35h1v1h-1zM20 36h1v1h-1zM24 36h1v1h-1zM45 36h1v1h-1zM24 37h1v1h-1zM45 37h1v1h-1zM21 38h1v1h-1zM23 38h1v1h-1zM29 38h4v1h-4zM36 38h1v1h-1zM46 38h1v1h-1zM28 39h1v1h-1zM33 39h1v1h-1zM36 39h1v1h-1zM28 40h1v1h-1zM34 40h1v1h-1zM36 40h1v1h-1zM28 41h1v1h-1zM37 41h1v1h-1zM28 42h1v1h-1zM33 42h1v1h-1zM38 42h1v1h-1zM19 43h4v1h-4zM29 43h1v1h-1zM32 43h1v1h-1zM40 43h1v1h-1zM23 44h1v1h-1zM41 44h1v1h-1zM16 46h1v1h-1zM24 47h1v1h-1zM15 48h1v1h-1zM24 48h1v1h-1zM24 49h1v1h-1zM24 50h1v1h-1z"/>
<path fill="#1860a7" d="M43 29h2v1h-2zM45 30h1v1h-1zM39 31h1v1h-1zM38 32h1v1h-1zM20 33h1v1h-1zM23 33h1v1h-1zM37 33h1v1h-1zM45 33h1v1h-1zM24 34h1v1h-1zM45 34h1v1h-1zM45 35h1v1h-1zM20 37h1v1h-1zM30 37h2v1h-2zM36 37h1v1h-1zM46 37h1v1h-1zM24 38h1v1h-1zM28 38h1v1h-1zM33 38h1v1h-1zM47 38h1v1h-1zM22 39h2v1h-2zM27 39h1v1h-1zM34 39h2v1h-2zM27 40h1v1h-1zM35 40h1v1h-1zM27 41h1v1h-1zM34 41h3v1h-3zM34 42h1v1h-1zM37 42h1v1h-1zM18 43h1v1h-1zM23 43h1v1h-1zM28 43h1v1h-1zM33 43h1v1h-1zM39 43h1v1h-1zM17 44h1v1h-1zM24 44h1v1h-1zM29 44h3v1h-3zM40 44h1v1h-1zM16 45h1v1h-1zM24 45h1v1h-1zM41 45h1v1h-1zM15 46h1v1h-1zM24 46h1v1h-1zM15 47h1v1h-1zM14 48h1v1h-1z"/>
<path fill="#1766af" d="M42 29h1v1h-1zM45 29h1v1h-1zM40 30h1v1h-1zM20 32h3v1h-3zM24 33h1v1h-1zM36 34h1v1h-1zM25 35h1v1h-1zM36 35h1v1h-1zM25 36h1v1h-1zM30 36h2v1h-2zM36 36h1v1h-1zM25 37h1v1h-1zM28 37h2v1h-2zM32 37h2v1h-2zM47 37h1v1h-1zM20 38h1v1h-1zM25 38h3v1h-3zM34 38h2v1h-2zM21 39h1v1h-1zM24 39h3v1h-3zM21 40h4v1h-4zM26 40h1v1h-1zM22 41h2v1h-2zM19 42h6v1h-6zM27 42h1v1h-1zM35 42h2v1h-2zM17 43h1v1h-1zM24 43h1v1h-1zM27 43h1v1h-1zM34 43h1v1h-1zM37 43h2v1h-2zM16 44h1v1h-1zM25 44h1v1h-1zM28 44h1v1h-1zM32 44h2v1h-2zM39 44h1v1h-1zM15 45h1v1h-1zM25 45h1v1h-1zM30 45h1v1h-1zM40 45h1v1h-1zM25 46h1v1h-1zM14 47h1v1h-1zM25 47h1v1h-1zM25 48h1v1h-1zM25 49h1v1h-1zM25 50h1v1h-1z"/>
<path fill="#196cb4" d="M14 8h3v1h-3zM16 9h2v1h-2zM44 28h2v1h-2zM46 29h1v1h-1zM46 30h1v1h-1zM46 31h1v1h-1zM19 32h1v1h-1zM23 32h2v1h-2zM19 33h1v1h-1zM25 33h1v1h-1zM19 34h1v1h-1zM25 34h1v1h-1zM19 35h1v1h-1zM35 35h1v1h-1zM19 36h1v1h-1zM26 36h4v1h-4zM32 36h4v1h-4zM46 36h1v1h-1zM19 37h1v1h-1zM26 37h2v1h-2zM34 37h2v1h-2zM48 37h1v1h-1zM19 38h1v1h-1zM20 39h1v1h-1zM20 40h1v1h-1zM25 40h1v1h-1zM19 41h3v1h-3zM24 41h3v1h-3zM18 42h1v1h-1zM25 42h2v1h-2zM25 43h2v1h-2zM35 43h2v1h-2zM26 44h2v1h-2zM34 44h1v1h-1zM38 44h1v1h-1zM26 45h4v1h-4zM31 45h2v1h-2zM39 45h1v1h-1zM14 46h1v1h-1zM26 46h1v1h-1zM39 46h2v1h-2zM26 47h1v1h-1zM26 48h1v1h-1zM26 49h1v1h-1zM26 50h1v1h-1z"/>
<path fill="#1c71b7" d="M14 7h2v1h-2zM13 8h1v1h-1zM17 8h1v1h-1zM14 9h2v1h-2zM18 9h2v1h-2zM43 28h1v1h-1zM46 28h1v1h-1zM41 29h1v1h-1zM19 31h5v1h-5zM9 32h1v1h-1zM25 32h1v1h-1zM37 32h1v1h-1zM46 32h1v1h-1zM9 33h1v1h-1zM36 33h1v1h-1zM26 34h1v1h-1zM35 34h1v1h-1zM26 35h9v1h-9zM47 36h1v1h-1zM18 38h1v1h-1zM18 39h2v1h-2zM18 40h2v1h-2zM18 41h1v1h-1zM17 42h1v1h-1zM16 43h1v1h-1zM15 44h1v1h-1zM35 44h3v1h-3zM14 45h1v1h-1zM33 45h2v1h-2zM37 45h2v1h-2zM13 46h1v1h-1zM27 46h6v1h-6zM38 46h1v1h-1zM13 47h1v1h-1zM27 47h3v1h-3zM27 48h2v1h-2zM27 49h2v1h-2zM27 50h2v1h-2z"/>
<path fill="#2077bb" d="M38 4h1v1h-1zM11 5h2v1h-2zM37 5h1v1h-1zM11 6h3v1h-3zM37 6h1v1h-1zM12 7h2v1h-2zM16 7h1v1h-1zM12 8h1v1h-1zM18 8h1v1h-1zM13 9h1v1h-1zM20 9h1v1h-1zM16 10h5v1h-5zM47 26h4v1h-4zM44 27h7v1h-7zM47 28h4v1h-4zM47 29h1v1h-1zM18 30h4v1h-4zM47 30h1v1h-1zM18 31h1v1h-1zM24 31h2v1h-2zM38 31h1v1h-1zM47 31h1v1h-1zM8 32h1v1h-1zM18 32h1v1h-1zM26 32h1v1h-1zM10 33h1v1h-1zM18 33h1v1h-1zM26 33h2v1h-2zM35 33h1v1h-1zM46 33h1v1h-1zM18 34h1v1h-1zM27 34h8v1h-8zM46 34h1v1h-1zM18 35h1v1h-1zM46 35h1v1h-1zM18 36h1v1h-1zM48 36h1v1h-1zM13 37h6v1h-6zM13 38h5v1h-5zM14 39h4v1h-4zM15 40h3v1h-3zM16 41h2v1h-2zM15 42h2v1h-2zM15 43h1v1h-1zM14 44h1v1h-1zM13 45h1v1h-1zM35 45h2v1h-2zM12 46h1v1h-1zM33 46h5v1h-5zM30 47h9v1h-9zM29 48h9v1h-9zM29 49h7v1h-7zM29 50h4v1h-4z"/>
<path fill="#257ec0" d="M37 3h1v1h-1zM13 4h1v1h-1zM37 4h1v1h-1zM13 5h1v1h-1zM36 5h1v1h-1zM38 5h2v1h-2zM10 6h1v1h-1zM14 6h2v1h-2zM36 6h1v1h-1zM38 6h1v1h-1zM10 7h2v1h-2zM17 7h1v1h-1zM11 8h1v1h-1zM19 8h1v1h-1zM12 9h1v1h-1zM14 10h2v1h-2zM48 23h3v1h-3zM48 24h3v1h-3zM47 25h4v1h-4zM45 26h2v1h-2zM42 28h1v1h-1zM18 29h3v1h-3zM48 29h3v1h-3zM22 30h5v1h-5zM39 30h1v1h-1zM48 30h3v1h-3zM9 31h1v1h-1zM17 31h1v1h-1zM26 31h2v1h-2zM48 31h3v1h-3zM10 32h1v1h-1zM27 32h2v1h-2zM36 32h1v1h-1zM47 32h1v1h-1zM50 32h1v1h-1zM8 33h1v1h-1zM28 33h7v1h-7zM9 34h2v1h-2zM17 34h1v1h-1zM10 35h1v1h-1zM17 35h1v1h-1zM47 35h2v1h-2zM11 36h7v1h-7zM11 37h2v1h-2zM12 38h1v1h-1zM12 39h2v1h-2zM13 40h2v1h-2zM13 41h3v1h-3zM13 42h2v1h-2zM13 43h2v1h-2zM13 44h1v1h-1zM12 45h1v1h-1zM11 46h1v1h-1z"/>
<path fill="#2b86c4" d="M36 4h1v1h-1zM14 5h1v1h-1zM35 6h1v1h-1zM39 6h1v1h-1zM9 7h1v1h-1zM36 7h2v1h-2zM10 8h1v1h-1zM11 9h1v1h-1zM21 9h1v1h-1zM13 10h1v1h-1zM21 10h1v1h-1zM18 11h2v1h-2zM48 21h3v1h-3zM48 22h3v1h-3zM47 23h1v1h-1zM47 24h1v1h-1zM46 25h1v1h-1zM44 26h1v1h-1zM26 27h2v1h-2zM43 27h1v1h-1zM18 28h2v1h-2zM25 28h4v1h-4zM21 29h8v1h-8zM40 29h1v1h-1zM17 30h1v1h-1zM27 30h2v1h-2zM8 31h1v1h-1zM28 31h2v1h-2zM37 31h1v1h-1zM17 32h1v1h-1zM29 32h7v1h-7zM48 32h2v1h-2zM17 33h1v1h-1zM47 33h3v1h-3zM8 34h1v1h-1zM11 34h1v1h-1zM47 34h3v1h-3zM9 35h1v1h-1zM11 35h2v1h-2zM15 35h2v1h-2zM49 35h1v1h-1zM10 36h1v1h-1zM10 37h1v1h-1zM11 38h1v1h-1zM11 39h1v1h-1zM11 40h2v1h-2zM12 41h1v1h-1zM12 42h1v1h-1zM12 43h1v1h-1zM11 44h2v1h-2zM11 45h1v1h-1z"/>
<path fill="#318ec9" d="M36 3h1v1h-1zM14 4h1v1h-1zM35 5h1v1h-1zM40 5h1v1h-1zM16 6h1v1h-1zM18 7h1v1h-1zM35 7h1v1h-1zM38 7h1v1h-1zM8 8h2v1h-2zM20 8h1v1h-1zM9 9h2v1h-2zM11 10h2v1h-2zM15 11h3v1h-3zM20 11h1v1h-1zM48 19h3v1h-3zM48 20h3v1h-3zM47 22h1v1h-1zM46 24h1v1h-1zM45 25h1v1h-1zM26 26h2v1h-2zM17 27h2v1h-2zM25 27h1v1h-1zM28 27h1v1h-1zM17 28h1v1h-1zM20 28h5v1h-5zM29 28h1v1h-1zM17 29h1v1h-1zM29 29h1v1h-1zM29 30h1v1h-1zM10 31h1v1h-1zM30 31h3v1h-3zM36 31h1v1h-1zM11 33h1v1h-1zM16 34h1v1h-1zM8 35h1v1h-1zM13 35h2v1h-2zM9 36h1v1h-1zM9 37h1v1h-1zM10 38h1v1h-1zM10 39h1v1h-1zM11 41h1v1h-1zM11 42h1v1h-1zM11 43h1v1h-1zM10 44h1v1h-1zM10 45h1v1h-1z"/>
<path fill="#3996cd" d="M14 3h1v1h-1zM35 4h1v1h-1zM15 5h1v1h-1zM40 6h1v1h-1zM39 7h1v1h-1zM36 8h1v1h-1zM8 9h1v1h-1zM9 10h2v1h-2zM13 11h2v1h-2zM48 17h2v1h-2zM47 18h3v1h-3zM47 19h1v1h-1zM47 20h1v1h-1zM47 21h1v1h-1zM46 23h1v1h-1zM45 24h1v1h-1zM44 25h1v1h-1zM17 26h2v1h-2zM25 26h1v1h-1zM28 26h1v1h-1zM43 26h1v1h-1zM19 27h1v1h-1zM24 27h1v1h-1zM29 27h1v1h-1zM42 27h1v1h-1zM41 28h1v1h-1zM30 29h1v1h-1zM8 30h2v1h-2zM30 30h2v1h-2zM38 30h1v1h-1zM7 31h1v1h-1zM33 31h3v1h-3zM7 32h1v1h-1zM16 32h1v1h-1zM7 33h1v1h-1zM16 33h1v1h-1zM12 34h1v1h-1zM15 34h1v1h-1zM8 36h1v1h-1zM9 38h1v1h-1zM10 40h1v1h-1zM10 41h1v1h-1zM10 42h1v1h-1zM9 43h2v1h-2zM9 44h1v1h-1z"/>
<path fill="#479ed0" d="M35 3h1v1h-1zM15 4h1v1h-1zM17 6h1v1h-1zM34 6h1v1h-1zM40 7h1v1h-1zM21 8h1v1h-1zM35 8h1v1h-1zM37 8h1v1h-1zM7 9h1v1h-1zM22 9h1v1h-1zM8 10h1v1h-1zM22 10h1v1h-1zM10 11h3v1h-3zM21 11h1v1h-1zM48 16h2v1h-2zM47 17h1v1h-1zM46 21h1v1h-1zM46 22h1v1h-1zM45 23h1v1h-1zM26 25h2v1h-2zM16 26h1v1h-1zM24 26h1v1h-1zM29 26h1v1h-1zM16 27h1v1h-1zM20 27h4v1h-4zM30 27h1v1h-1zM16 28h1v1h-1zM30 28h1v1h-1zM16 29h1v1h-1zM31 29h1v1h-1zM39 29h1v1h-1zM16 30h1v1h-1zM32 30h1v1h-1zM16 31h1v1h-1zM11 32h1v1h-1zM7 34h1v1h-1zM13 34h2v1h-2zM8 37h1v1h-1zM9 39h1v1h-1zM9 40h1v1h-1zM9 41h1v1h-1zM8 42h2v1h-2zM8 43h1v1h-1z"/>
<path fill="#55a5d4" d="M35 2h1v1h-1zM15 3h1v1h-1zM34 4h1v1h-1zM16 5h1v1h-1zM34 5h1v1h-1zM41 6h1v1h-1zM19 7h1v1h-1zM34 7h1v1h-1zM38 8h2v1h-2zM6 10h2v1h-2zM7 11h3v1h-3zM17 12h3v1h-3zM48 15h1v1h-1zM47 16h1v1h-1zM46 17h1v1h-1zM46 18h1v1h-1zM46 19h1v1h-1zM46 20h1v1h-1zM44 24h1v1h-1zM17 25h2v1h-2zM25 25h1v1h-1zM28 25h2v1h-2zM43 25h1v1h-1zM19 26h1v1h-1zM30 26h1v1h-1zM31 28h1v1h-1zM7 30h1v1h-1zM10 30h1v1h-1zM33 30h2v1h-2zM37 30h1v1h-1zM12 33h1v1h-1zM15 33h1v1h-1zM7 35h1v1h-1zM8 38h1v1h-1zM8 39h1v1h-1zM7 41h2v1h-2zM7 42h1v1h-1z"/>
<path fill="#63add7" d="M41 7h1v1h-1zM40 8h1v1h-1zM6 11h1v1h-1zM22 11h1v1h-1zM7 12h10v1h-10zM20 12h1v1h-1zM48 14h1v1h-1zM46 15h2v1h-2zM46 16h1v1h-1zM45 22h1v1h-1zM16 25h1v1h-1zM24 25h1v1h-1zM15 26h1v1h-1zM20 26h1v1h-1zM23 26h1v1h-1zM42 26h1v1h-1zM15 27h1v1h-1zM31 27h1v1h-1zM40 28h1v1h-1zM8 29h2v1h-2zM32 29h1v1h-1zM35 30h2v1h-2zM6 31h1v1h-1zM11 31h1v1h-1zM6 32h1v1h-1zM15 32h1v1h-1zM14 33h1v1h-1zM7 36h1v1h-1zM7 40h2v1h-2zM6 41h1v1h-1z"/>
<path fill="#72b5da" d="M34 3h1v1h-1zM16 4h1v1h-1zM17 5h1v1h-1zM18 6h1v1h-1zM20 7h1v1h-1zM42 7h1v1h-1zM22 8h1v1h-1zM34 8h1v1h-1zM41 8h1v1h-1zM23 10h1v1h-1zM5 11h1v1h-1zM5 12h2v1h-2zM21 12h1v1h-1zM6 13h2v1h-2zM47 14h1v1h-1zM45 20h1v1h-1zM45 21h1v1h-1zM44 23h1v1h-1zM43 24h1v1h-1zM19 25h1v1h-1zM30 25h1v1h-1zM21 26h2v1h-2zM41 27h1v1h-1zM15 28h1v1h-1zM32 28h1v1h-1zM7 29h1v1h-1zM10 29h1v1h-1zM15 29h1v1h-1zM33 29h1v1h-1zM38 29h1v1h-1zM6 30h1v1h-1zM15 30h1v1h-1zM15 31h1v1h-1zM6 33h1v1h-1zM13 33h1v1h-1zM7 37h1v1h-1zM7 38h1v1h-1zM7 39h1v1h-1zM5 40h2v1h-2z"/>
<path fill="#81bedd" d="M34 2h1v1h-1zM16 3h1v1h-1zM33 5h1v1h-1zM33 6h1v1h-1zM23 9h1v1h-1zM36 9h1v1h-1zM23 11h1v1h-1zM4 13h2v1h-2zM8 13h3v1h-3zM47 13h1v1h-1zM6 14h1v1h-1zM46 14h1v1h-1zM45 17h1v1h-1zM45 18h1v1h-1zM45 19h1v1h-1zM44 22h1v1h-1zM16 24h3v1h-3zM26 24h4v1h-4zM15 25h1v1h-1zM20 25h1v1h-1zM23 25h1v1h-1zM31 26h1v1h-1zM8 28h2v1h-2zM6 29h1v1h-1zM34 29h1v1h-1zM11 30h1v1h-1zM12 32h1v1h-1zM6 34h1v1h-1zM6 38h1v1h-1zM5 39h2v1h-2z"/>
<path fill="#90c6e0" d="M16 2h1v1h-1zM33 4h1v1h-1zM21 7h1v1h-1zM33 7h1v1h-1zM42 8h1v1h-1zM35 9h1v1h-1zM37 9h2v1h-2zM41 9h1v1h-1zM22 12h1v1h-1zM11 13h3v1h-3zM45 13h2v1h-2zM3 14h3v1h-3zM7 14h2v1h-2zM45 14h1v1h-1zM4 15h3v1h-3zM45 15h1v1h-1zM45 16h1v1h-1zM44 21h1v1h-1zM43 23h1v1h-1zM15 24h1v1h-1zM19 24h1v1h-1zM25 24h1v1h-1zM30 24h1v1h-1zM21 25h2v1h-2zM31 25h1v1h-1zM42 25h1v1h-1zM14 26h1v1h-1zM14 27h1v1h-1zM32 27h1v1h-1zM7 28h1v1h-1zM10 28h1v1h-1zM14 28h1v1h-1zM33 28h1v1h-1zM39 28h1v1h-1zM11 29h1v1h-1zM35 29h3v1h-3zM14 32h1v1h-1zM6 35h1v1h-1zM6 36h1v1h-1zM6 37h1v1h-1zM5 38h1v1h-1z"/>
<path fill="#9bcbe3" d="M33 3h1v1h-1zM17 4h1v1h-1zM19 6h1v1h-1zM23 8h1v1h-1zM33 8h1v1h-1zM43 8h1v1h-1zM24 9h1v1h-1zM34 9h1v1h-1zM39 9h2v1h-2zM42 9h2v1h-2zM24 10h1v1h-1zM24 11h1v1h-1zM46 11h1v1h-1zM23 12h1v1h-1zM45 12h2v1h-2zM14 13h7v1h-7zM9 14h2v1h-2zM3 15h1v1h-1zM7 15h1v1h-1zM3 16h3v1h-3zM44 20h1v1h-1zM20 24h1v1h-1zM23 24h2v1h-2zM14 25h1v1h-1zM41 26h1v1h-1zM13 27h1v1h-1zM40 27h1v1h-1zM6 28h1v1h-1zM11 28h1v1h-1zM5 29h1v1h-1zM14 29h1v1h-1zM5 30h1v1h-1zM5 31h1v1h-1zM12 31h1v1h-1zM5 32h1v1h-1zM13 32h1v1h-1zM5 37h1v1h-1zM4 38h1v1h-1z"/>
<path fill="#a6d0e5" d="M33 2h1v1h-1zM17 3h1v1h-1zM18 5h1v1h-1zM22 7h1v1h-1zM44 9h1v1h-1zM42 10h4v1h-4zM43 11h3v1h-3zM44 12h1v1h-1zM21 13h1v1h-1zM44 13h1v1h-1zM11 14h2v1h-2zM8 15h2v1h-2zM2 16h1v1h-1zM6 16h2v1h-2zM3 17h3v1h-3zM44 18h1v1h-1zM44 19h1v1h-1zM43 22h1v1h-1zM17 23h1v1h-1zM28 23h2v1h-2zM14 24h1v1h-1zM21 24h2v1h-2zM31 24h1v1h-1zM42 24h1v1h-1zM13 25h1v1h-1zM13 26h1v1h-1zM32 26h1v1h-1zM7 27h6v1h-6zM5 28h1v1h-1zM12 28h2v1h-2zM34 28h1v1h-1zM12 29h2v1h-2zM12 30h1v1h-1zM14 30h1v1h-1zM14 31h1v1h-1zM5 33h1v1h-1zM5 36h1v1h-1zM3 37h2v1h-2z"/>
<path fill="#b0d5e8" d="M32 4h1v1h-1zM32 5h1v1h-1zM20 6h1v1h-1zM32 6h1v1h-1zM32 7h1v1h-1zM24 8h1v1h-1zM25 10h1v1h-1zM25 11h1v1h-1zM24 12h1v1h-1zM22 13h1v1h-1zM13 14h2v1h-2zM44 14h1v1h-1zM10 15h2v1h-2zM44 15h1v1h-1zM8 16h1v1h-1zM44 16h1v1h-1zM2 17h1v1h-1zM6 17h1v1h-1zM44 17h1v1h-1zM2 18h4v1h-4zM43 21h1v1h-1zM15 23h2v1h-2zM18 23h3v1h-3zM26 23h2v1h-2zM30 23h1v1h-1zM42 23h1v1h-1zM13 24h1v1h-1zM32 25h1v1h-1zM8 26h5v1h-5zM6 27h1v1h-1zM33 27h1v1h-1zM38 28h1v1h-1zM4 30h1v1h-1zM13 30h1v1h-1zM13 31h1v1h-1zM5 34h1v1h-1zM5 35h1v1h-1zM3 36h2v1h-2z"/>
<path fill="#bbdaea" d="M17 2h1v1h-1zM32 3h1v1h-1zM23 7h1v1h-1zM32 8h1v1h-1zM25 9h1v1h-1zM33 9h1v1h-1zM41 10h1v1h-1zM25 12h1v1h-1zM43 12h1v1h-1zM23 13h1v1h-1zM15 14h3v1h-3zM12 15h1v1h-1zM9 16h2v1h-2zM7 17h1v1h-1zM6 18h1v1h-1zM1 19h5v1h-5zM43 20h1v1h-1zM13 23h2v1h-2zM21 23h5v1h-5zM31 23h1v1h-1zM12 24h1v1h-1zM32 24h1v1h-1zM11 25h2v1h-2zM41 25h1v1h-1zM5 26h3v1h-3zM5 27h1v1h-1zM4 28h1v1h-1zM35 28h3v1h-3zM4 29h1v1h-1zM4 31h1v1h-1zM4 32h1v1h-1zM3 35h2v1h-2z"/>
<path fill="#c5dfed" d="M32 1h1v1h-1zM32 2h1v1h-1zM18 4h1v1h-1zM19 5h1v1h-1zM21 6h1v1h-1zM24 7h1v1h-1zM25 8h1v1h-1zM26 10h1v1h-1zM35 10h3v1h-3zM40 10h1v1h-1zM26 11h1v1h-1zM42 11h1v1h-1zM24 13h1v1h-1zM18 14h3v1h-3zM13 15h1v1h-1zM11 16h2v1h-2zM8 17h2v1h-2zM7 18h1v1h-1zM6 19h1v1h-1zM43 19h1v1h-1zM1 20h5v1h-5zM2 21h3v1h-3zM12 22h3v1h-3zM20 22h2v1h-2zM29 22h2v1h-2zM42 22h1v1h-1zM11 23h2v1h-2zM10 24h2v1h-2zM5 25h6v1h-6zM4 26h1v1h-1zM33 26h1v1h-1zM40 26h1v1h-1zM4 27h1v1h-1zM34 27h1v1h-1zM39 27h1v1h-1zM1 29h3v1h-3zM1 30h3v1h-3zM1 31h3v1h-3zM1 32h3v1h-3zM2 33h3v1h-3zM2 34h3v1h-3zM2 35h1v1h-1z"/>
<path fill="#cfe4ef" d="M18 3h1v1h-1zM31 3h1v1h-1zM31 4h1v1h-1zM22 6h1v1h-1zM31 6h1v1h-1zM31 7h1v1h-1zM26 9h1v1h-1zM32 9h1v1h-1zM34 10h1v1h-1zM38 10h2v1h-2zM26 12h1v1h-1zM25 13h2v1h-2zM43 13h1v1h-1zM21 14h1v1h-1zM43 14h1v1h-1zM14 15h1v1h-1zM13 16h1v1h-1zM10 17h3v1h-3zM43 17h1v1h-1zM8 18h5v1h-5zM43 18h1v1h-1zM7 19h1v1h-1zM11 19h3v1h-3zM6 20h2v1h-2zM11 20h3v1h-3zM1 21h1v1h-1zM5 21h2v1h-2zM11 21h3v1h-3zM42 21h1v1h-1zM1 22h6v1h-6zM10 22h2v1h-2zM15 22h5v1h-5zM22 22h1v1h-1zM28 22h1v1h-1zM31 22h1v1h-1zM1 23h10v1h-10zM32 23h1v1h-1zM1 24h9v1h-9zM41 24h1v1h-1zM1 25h4v1h-4zM33 25h1v1h-1zM1 26h3v1h-3zM1 27h3v1h-3zM1 28h3v1h-3z"/>
<path fill="#d6e7f1" d="M31 1h1v1h-1zM18 2h1v1h-1zM31 2h1v1h-1zM31 5h1v1h-1zM23 6h1v1h-1zM25 7h1v1h-1zM26 8h1v1h-1zM31 8h1v1h-1zM27 9h1v1h-1zM27 10h1v1h-1zM33 10h1v1h-1zM27 11h1v1h-1zM41 11h1v1h-1zM27 12h1v1h-1zM42 12h1v1h-1zM27 13h1v1h-1zM22 14h4v1h-4zM15 15h2v1h-2zM43 15h1v1h-1zM14 16h1v1h-1zM43 16h1v1h-1zM13 17h1v1h-1zM13 18h1v1h-1zM8 19h3v1h-3zM8 20h3v1h-3zM14 20h1v1h-1zM42 20h1v1h-1zM7 21h4v1h-4zM14 21h1v1h-1zM20 21h3v1h-3zM30 21h2v1h-2zM7 22h3v1h-3zM23 22h1v1h-1zM27 22h1v1h-1zM32 22h1v1h-1zM41 22h1v1h-1zM41 23h1v1h-1zM33 24h1v1h-1zM35 27h1v1h-1zM38 27h1v1h-1z"/>
<path fill="#dceaf2" d="M19 4h1v1h-1zM20 5h1v1h-1zM24 6h2v1h-2zM26 7h1v1h-1zM30 7h1v1h-1zM27 8h1v1h-1zM28 9h1v1h-1zM31 9h1v1h-1zM28 10h1v1h-1zM32 10h1v1h-1zM28 11h1v1h-1zM28 12h1v1h-1zM28 13h1v1h-1zM26 14h2v1h-2zM17 15h3v1h-3zM15 16h1v1h-1zM14 17h1v1h-1zM14 18h1v1h-1zM14 19h1v1h-1zM42 19h1v1h-1zM21 20h1v1h-1zM15 21h1v1h-1zM19 21h1v1h-1zM29 21h1v1h-1zM32 21h1v1h-1zM41 21h1v1h-1zM24 22h3v1h-3zM33 22h1v1h-1zM33 23h1v1h-1zM40 25h1v1h-1zM34 26h1v1h-1zM36 27h2v1h-2z"/>
<path fill="#e3edf3" d="M30 1h1v1h-1zM30 2h1v1h-1zM19 3h1v1h-1zM30 3h1v1h-1zM30 4h1v1h-1zM21 5h1v1h-1zM30 5h1v1h-1zM26 6h1v1h-1zM30 6h1v1h-1zM27 7h3v1h-3zM28 8h3v1h-3zM29 9h2v1h-2zM29 10h3v1h-3zM29 11h1v1h-1zM40 11h1v1h-1zM29 12h1v1h-1zM29 13h1v1h-1zM42 13h1v1h-1zM28 14h1v1h-1zM20 15h2v1h-2zM24 15h4v1h-4zM16 16h1v1h-1zM42 17h1v1h-1zM42 18h1v1h-1zM21 19h1v1h-1zM15 20h1v1h-1zM20 20h1v1h-1zM22 20h1v1h-1zM30 20h4v1h-4zM41 20h1v1h-1zM16 21h1v1h-1zM23 21h1v1h-1zM28 21h1v1h-1zM33 21h1v1h-1zM40 24h1v1h-1zM34 25h1v1h-1zM39 26h1v1h-1z"/>
<path fill="#e9f0f3" d="M29 1h1v1h-1zM19 2h1v1h-1zM29 2h1v1h-1zM29 3h1v1h-1zM29 4h1v1h-1zM22 5h4v1h-4zM29 5h1v1h-1zM27 6h3v1h-3zM30 11h2v1h-2zM39 11h1v1h-1zM30 12h1v1h-1zM41 12h1v1h-1zM29 14h1v1h-1zM42 14h1v1h-1zM22 15h2v1h-2zM28 15h2v1h-2zM42 15h1v1h-1zM17 16h1v1h-1zM42 16h1v1h-1zM15 17h1v1h-1zM15 18h1v1h-1zM15 19h1v1h-1zM20 19h1v1h-1zM22 19h1v1h-1zM30 19h3v1h-3zM41 19h1v1h-1zM29 20h1v1h-1zM34 20h1v1h-1zM40 20h1v1h-1zM17 21h2v1h-2zM34 21h1v1h-1zM40 21h1v1h-1zM34 22h1v1h-1zM40 22h1v1h-1zM34 23h1v1h-1zM40 23h1v1h-1zM34 24h1v1h-1zM35 26h1v1h-1z"/>
<path fill="#eef2f4" d="M19 1h1v1h-1zM28 1h1v1h-1zM28 2h1v1h-1zM28 3h1v1h-1zM20 4h1v1h-1zM27 4h2v1h-2zM26 5h3v1h-3zM32 11h7v1h-7zM30 13h1v1h-1zM30 14h1v1h-1zM30 15h1v1h-1zM18 16h12v1h-12zM16 17h1v1h-1zM21 17h1v1h-1zM20 18h3v1h-3zM30 18h2v1h-2zM41 18h1v1h-1zM29 19h1v1h-1zM33 19h2v1h-2zM40 19h1v1h-1zM16 20h1v1h-1zM19 20h1v1h-1zM23 20h1v1h-1zM35 20h1v1h-1zM39 20h1v1h-1zM24 21h1v1h-1zM27 21h1v1h-1zM35 21h1v1h-1zM39 21h1v1h-1zM35 22h1v1h-1zM36 26h1v1h-1z"/>
<path fill="#f4f5f5" d="M26 1h2v1h-2zM20 2h1v1h-1zM26 2h2v1h-2zM20 3h1v1h-1zM26 3h2v1h-2zM21 4h6v1h-6zM31 12h1v1h-1zM41 13h1v1h-1zM30 16h1v1h-1zM17 17h4v1h-4zM22 17h2v1h-2zM28 17h4v1h-4zM41 17h1v1h-1zM16 18h1v1h-1zM19 18h1v1h-1zM29 18h1v1h-1zM32 18h1v1h-1zM16 19h1v1h-1zM19 19h1v1h-1zM23 19h1v1h-1zM35 19h1v1h-1zM38 19h2v1h-2zM18 20h1v1h-1zM28 20h1v1h-1zM36 20h3v1h-3zM25 21h2v1h-2zM36 21h3v1h-3zM39 22h1v1h-1zM35 23h1v1h-1zM39 23h1v1h-1zM35 24h1v1h-1zM35 25h1v1h-1zM39 25h1v1h-1zM37 26h2v1h-2z"/>
<path fill="#f7f4f1" d="M20 1h2v1h-2zM23 1h3v1h-3zM21 2h1v1h-1zM23 2h3v1h-3zM21 3h1v1h-1zM23 3h3v1h-3zM32 12h1v1h-1zM40 12h1v1h-1zM31 13h1v1h-1zM31 14h1v1h-1zM41 14h1v1h-1zM31 15h1v1h-1zM41 15h1v1h-1zM31 16h1v1h-1zM41 16h1v1h-1zM24 17h4v1h-4zM32 17h1v1h-1zM17 18h2v1h-2zM23 18h1v1h-1zM28 18h1v1h-1zM33 18h2v1h-2zM40 18h1v1h-1zM18 19h1v1h-1zM28 19h1v1h-1zM36 19h2v1h-2zM17 20h1v1h-1zM24 20h1v1h-1zM27 20h1v1h-1zM36 22h3v1h-3zM36 23h1v1h-1zM39 24h1v1h-1zM36 25h1v1h-1z"/>
<path fill="#f8f0ea" d="M22 1h1v1h-1zM22 2h1v1h-1zM22 3h1v1h-1zM33 12h1v1h-1zM32 13h1v1h-1zM40 17h1v1h-1zM24 18h1v1h-1zM27 18h1v1h-1zM35 18h1v1h-1zM38 18h2v1h-2zM17 19h1v1h-1zM24 19h1v1h-1zM27 19h1v1h-1zM37 23h2v1h-2zM36 24h1v1h-1zM37 25h2v1h-2z"/>
<path fill="#f9ece3" d="M34 12h1v1h-1zM39 12h1v1h-1zM40 13h1v1h-1zM32 14h1v1h-1zM32 15h1v1h-1zM32 16h1v1h-1zM40 16h1v1h-1zM33 17h1v1h-1zM25 18h2v1h-2zM36 18h2v1h-2zM25 20h2v1h-2zM37 24h2v1h-2z"/>
<path fill="#fae7db" d="M35 12h1v1h-1zM38 12h1v1h-1zM33 13h1v1h-1zM40 14h1v1h-1zM40 15h1v1h-1zM33 16h1v1h-1zM34 17h1v1h-1zM39 17h1v1h-1zM25 19h2v1h-2z"/>
<path fill="#fae3d4" d="M36 12h2v1h-2zM33 14h1v1h-1zM33 15h1v1h-1zM39 16h1v1h-1zM35 17h4v1h-4z"/>
<path fill="#fbdecd" d="M34 13h1v1h-1zM39 13h1v1h-1zM34 16h1v1h-1z"/>
<path fill="#fbd8c5" d="M38 13h1v1h-1zM39 14h1v1h-1zM34 15h1v1h-1zM39 15h1v1h-1zM35 16h1v1h-1zM38 16h1v1h-1z"/>
<path fill="#f9d0ba" d="M35 13h1v1h-1zM34 14h1v1h-1zM36 16h2v1h-2z"/>
<path fill="#f8c8af" d="M36 13h2v1h-2zM38 14h1v1h-1zM35 15h1v1h-1zM38 15h1v1h-1z"/>
<path fill="#f7c0a4" d="M35 14h1v1h-1zM37 14h1v1h-1zM36 15h2v1h-2z"/>
<path fill="#f5b79a" d="M36 14h1v1h-1z"/>
</g></g>
<path d="M1024 263.4 1020 264.2 1017.6 265.5 1015.7 267.5 1014 271.1 1013.1 279.5 1014.5 293.5 1016.6 299.5 1019.4 303.5 1022 306 1028 309.8 1030 310.6 1034 310.7 1040 308.2 1047 303.5 1048.9 301.5 1049.8 299.5 1049.6 295.5 1047.1 285.5 1045.7 277.5 1044.2 273.5 1042 270.2 1038 266.6 1034 264.6 1030 263.6 1024 263.4M1192 300.9 1171.2 289.5 1170 286.7 1168.5 275.5 1170.8 257.5 1170.4 251.5 1168.9 247.5 1167.3 245.5 1164 243.5 1160 242.9 1152 244.2 1142 248.7 1132.1 255.5 1120.8 265.5 1117.3 269.5 1114.9 273.5 1112.9 279.5 1112.2 291.5 1110 294.9 1108 296.4 1106 297.2 1102 296.9 1088 290.2 1082 289.1 1078 289.1 1072 290.4 1068 292.2 1060.2 297.5 1056.3 301.5 1055.4 305.5 1057.8 325.5 1059.6 329.5 1061.1 331.5 1065.9 335.5 1070 337.5 1076 339 1082 338.9 1086 338.2 1090 336.7 1095 333.5 1106 322.5 1108 321.6 1112 321.9 1116 324 1126 331 1132 334.3 1155.1 365.5M1048.5 365.5 1048.4 359.5 1046.4 349.5 1045.4 337.5 1044.3 333.5 1040.5 327.5 1036 323.2 1032 320.9 1028 320.4 1010 324.2 1006 326.1 1000 330.5 992.7 337.5 987.6 343.5 975.7 365.5M913.6 83.5 956 126.6 968.3 131.5 980 134.7 994 137 1008 138.1 1014 137.7 1018 136.8 1020.9 135.5 1023.5 133.5 1025.6 129.5 1025.2 125.5 1024.1 123.5 1020 120.1 1006 114 987.9 103.5 986.2 101.5 976.8 83.5M1114.8 83.5 1107.5 99.5 1106.4 105.5 1106.4 109.5 1107.5 113.5 1109 115.5 1112 116.6 1119.3 115.5 1128 113.1 1130 112.1 1150.5 83.5M1192 186.9 1184 189 1183.5 189.5 1182.6 191.5 1180.3 201.5 1177.7 207.5 1173.6 213.5 1167.7 219.5 1151.9 233.5 1144.1 239.5 1122 253.9 1112 258.1 1104 259.4 1094 259.2 1086 258.2 1077.7 255.5 1074.7 253.5 1072 249.5 1068.5 237.5 1066 232.7 1062 229.9 1056 228.6 1051.3 229.5 1040 237.9 1036 239.7 1032 240.7 1028 241 1022 240.2 1006 234.5 1004 234.5 1002 235.5 1000 238.9 997.7 247.5 996.7 253.5 996.1 265.5 994.7 271.5 992.1 275.5 990 277.2 984 279.4 976 280 970 278.1 968 276.7 965.3 273.5 960 261.5 956 255.6 954 254.1 950 252.7 946 253.3 944 254.5 941.7 257.5 940.6 261.5 940.6 265.5 941.5 269.5 944 275.9 953.4 293.5 960.7 311.5 963.2 319.5 963.8 327.5 963.4 329.5 933.7 365.5M1100.9 83.5 1096.6 95.5 1095.9 105.5 1096.8 113.5 1098.5 117.5 1102 121.5 1106 123.7 1112 124.7 1132 122.6 1142 122.9 1144 121.7 1179 83.5M910 139 934 153.1 950 149.1 966 146.9 984 146.1 1004 146.7 1014 146.2 1022 144.6 1030 141.2 1034.4 137.5 1035.7 135.5 1037.1 131.5 1036.4 125.5 1034.2 121.5 1030 117.5 1026.6 115.5 1014 110.2 1009.1 107.5 998.7 99.5 996.9 97.5 991 83.5M1192 143.3 1170 155.8 1169.3 157.5 1167.5 185.5 1165.6 193.5 1163.4 199.5 1159.2 207.5 1146.3 227.5 1140 234.4 1132 240.2 1124 244.4 1116 246.8 1108 246.9 1100 244.7 1094.2 241.5 1090 237.5 1087.3 233.5 1082.4 223.5 1079.8 219.5 1076 216.5 1072 215.1 1062 214.6 1048 216 1042 217.8 1030 223.4 1026 224.4 1021 223.5 1010.6 217.5 1005.4 215.5 1000 214.6 993.5 215.5 990 217.2 987.4 219.5 984.9 223.5 983.7 227.5 983.4 233.5 986.2 247.5 986.8 255.5 985.3 261.5 984 263.5 981.7 265.5 978 266.6 976 266.5 972 264.7 968 259.8 962 247.3 958 243.1 954 240.9 950 239.9 944 240.1 938 242.5 934.7 245.5 931.5 251.5 930.8 255.5 930.7 259.5 934.9 281.5 936.9 297.5 936.8 299.5 936 300.9 910 318.3M1088.5 83.5 1086.3 91.5 1086.4 111.5 1087.1 115.5 1088.7 119.5 1092 124.2 1096.4 127.5 1104 130.1 1112 130.8 1132 130.3 1138 131.3 1142 132.6 1147.2 135.5 1151.6 139.5 1154.4 143.5 1157 149.5 1158.2 155.5 1158.6 163.5 1157.8 173.5 1156 183.5 1143.4 217.5 1140.5 223.5 1136 229.3 1130 234 1122 237.2 1114 238 1110 237.4 1106 236 1100 232.1 1096.1 227.5 1088.8 211.5 1086 207.4 1082 204.4 1078 203.3 1072 203.4 1056 206.7 1044 207.6 1036 207.2 1022 204.4 1004 205.2 982 204 976 204.4 972 206.3 964 214.6 959.7 217.5 952 219.7 938 220.7 932 221.9 928 223.6 924 226.8 920.7 231.5 918.3 237.5 917.3 243.5 916.8 251.5 917.2 255.5 918 256.7 918.1 261.5 918.8 263.5 920 264.4 920.4 267.5 922 269.6 922 273.4 910 277.9M910 191.1 918 192.8 924 190.7 930 186.9 940.8 177.5 946.4 173.5 952 171 966 166.9 978 160.4 984 157.8 992 156.3 1016 154.5 1036 150.4 1044.8 147.5 1049.8 143.5 1051.1 141.5 1052.6 137.5 1052.9 131.5 1051.4 125.5 1048 119.5 1044 115.4 1038 111.5 1032 109.2 1018.2 105.5 1012 101.6 1006.1 95.5 1001.7 83.5M1068 83.5 1067.1 93.5 1066 96.9 1064 98.8 1060 99.7 1044 97.7 1028 98.4 1022 97.8 1018.5 95.5 1016 92.3 1013.4 83.5M1090.9 137.5 1120 136.6 1131.1 137.5 1136 139.1 1140.1 141.5 1144 145.5 1146.2 149.5 1147.5 153.5 1148.2 159.5 1147.1 169.5 1145.3 175.5 1143.3 179.5 1133.8 191.5 1133.3 195.5 1135.3 209.5 1134.9 215.5 1133.9 219.5 1132 223.1 1128 226.8 1124 228.4 1118 228.8 1112 227.1 1107.1 223.5 1104.6 219.5 1103.6 213.5 1104.2 207.5 1107.5 195.5 1106.7 191.5 1104 188.6 1100 186 1090 182.6 1082 181 1078 181.5 1074 184 1067 191.5 1062 195.5 1058 197.6 1052 199.2 1046 198.9 1042.3 197.5 1040 196 1037.6 193.5 1030 182 1028 180.3 1024 178.8 1020 180 1016 184 1010 191.5 1007.3 193.5 1004 194.9 1000 195.3 996 194.3 992.1 191.5 990.8 189.5 989.1 183.5 990 177.2 992 173.7 994 171.7 1000 168.9 1006 168 1020 168.2 1030 165.8 1034 165.4 1054 166 1066 166.9 1070 166.5 1072 165.4 1074.8 161.5 1077.8 147.5 1080.6 141.5 1084 138.8 1090.9 137.5M1111.7 143.5 1120 143.4 1126 144.5 1130 146 1134.1 149.5 1136.3 155.5 1136 161.2 1134 165.9 1130 170 1126 172.1 1122 173.3 1116 174.1 1112 173.9 1104 171.5 1100 169 1096.4 165.5 1094.4 161.5 1093.8 157.5 1094.7 153.5 1095.7 151.5 1098 148.9 1102 146.3 1106 144.7 1111.7 143.5" fill="none" stroke="#1a1a1a" stroke-width="0.55" stroke-opacity="0.85" stroke-linejoin="round"/>
</g>
<g fill="none" stroke="#231f20" stroke-linejoin="round" stroke-linecap="round">
<path stroke-width="1.5" d="M1075.1 88.6 1050.5 67 1025.9 88.6M914.8 208.8 911.3 202.8 909.1 202.6 905.8 203.6 902.6 208.8 903.1 225.5 901.2 249.4 905.3 259.8 911.3 261.8 917 256.7M1186.2 208.8 1189.7 202.8 1191.9 202.6 1195.2 203.6 1198.4 208.8 1197.9 225.5 1199.8 249.4 1195.7 259.8 1189.7 261.8 1184 256.7"/>
<circle cx="1050.5" cy="224" r="136.5" stroke-width="1.8"/>
</g>
<g fill="#231f20">
<circle cx="990.7" cy="117.5" r="3.8"/>
<circle cx="1018.9" cy="126.1" r="3.8"/>
<circle cx="1172.8" cy="170.3" r="3.8"/>
<circle cx="1153.6" cy="222" r="3.8"/>
<circle cx="998.2" cy="222" r="3.8"/>
<circle cx="1075.9" cy="222" r="3.8"/>
<circle cx="1050" cy="222" r="3.8"/>
<circle cx="1172.8" cy="273.7" r="3.8"/>
<circle cx="951.5" cy="262.4" r="3.8"/>
<circle cx="1148.5" cy="262.4" r="3.8"/>
<circle cx="1124.3" cy="257.5" r="3.8"/>
<circle cx="1000.4" cy="254.5" r="3.8"/>
<circle cx="1099.6" cy="254.5" r="3.8"/>
<circle cx="1025.1" cy="253.6" r="3.8"/>
<circle cx="1074.9" cy="253.6" r="3.8"/>
<circle cx="1050" cy="253.1" r="3.8"/>
<circle cx="966.9" cy="298.7" r="3.8"/>
<circle cx="1133.1" cy="298.7" r="3.8"/>
<circle cx="986.5" cy="290.9" r="3.8"/>
<circle cx="1113.5" cy="290.9" r="3.8"/>
<circle cx="1007" cy="286.7" r="3.8"/>
<circle cx="1093" cy="286.7" r="3.8"/>
<circle cx="1028.4" cy="285.2" r="3.8"/>
<circle cx="1071.6" cy="285.2" r="3.8"/>
<circle cx="1050" cy="284.5" r="3.8"/>
<circle cx="990.7" cy="326.5" r="3.8"/>
<circle cx="1109.3" cy="326.5" r="3.8"/>
<circle cx="1018.9" cy="317.9" r="3.8"/>
<circle cx="1081.1" cy="317.9" r="3.8"/>
<circle cx="1050" cy="315.8" r="3.8"/>
<circle cx="1019.1" cy="342.9" r="3.8"/>
<circle cx="1080.9" cy="342.9" r="3.8"/>
<circle cx="1050" cy="347.2" r="3.8"/>
<circle cx="1019.1" cy="101.1" r="1.25"/>
<circle cx="1080.9" cy="101.1" r="1.25"/>
<circle cx="1109.3" cy="117.5" r="1.25"/>
<circle cx="1081.1" cy="126.1" r="1.25"/>
<circle cx="966.9" cy="145.3" r="1.25"/>
<circle cx="1133.1" cy="145.3" r="1.25"/>
<circle cx="986.5" cy="153.1" r="1.25"/>
<circle cx="1113.5" cy="153.1" r="1.25"/>
<circle cx="1007" cy="157.3" r="1.25"/>
<circle cx="1093" cy="157.3" r="1.25"/>
<circle cx="1028.4" cy="158.8" r="1.25"/>
<circle cx="1071.6" cy="158.8" r="1.25"/>
<circle cx="1050" cy="159.5" r="1.25"/>
<circle cx="927.2" cy="170.3" r="1.25"/>
<circle cx="951.5" cy="181.6" r="1.25"/>
<circle cx="1148.5" cy="181.6" r="1.25"/>
<circle cx="975.7" cy="186.5" r="1.25"/>
<circle cx="1124.3" cy="186.5" r="1.25"/>
<circle cx="1000.4" cy="189.5" r="1.25"/>
<circle cx="1099.6" cy="189.5" r="1.25"/>
<circle cx="1025.1" cy="190.4" r="1.25"/>
<circle cx="1074.9" cy="190.4" r="1.25"/>
<circle cx="1050" cy="190.9" r="1.25"/>
<circle cx="946.4" cy="222" r="1.25"/>
<circle cx="972.3" cy="222" r="1.25"/>
<circle cx="1127.7" cy="222" r="1.25"/>
<circle cx="1101.8" cy="222" r="1.25"/>
<circle cx="1024.1" cy="222" r="1.25"/>
<circle cx="927.2" cy="273.7" r="1.25"/>
<circle cx="975.7" cy="257.5" r="1.25"/>
</g>
<!-- head d -->
<g clip-path="url(#cld)">
<circle cx="201.3" cy="602.5" r="136.5" fill="#3290ca"/>
<g filter="url(#bl)"><g transform="translate(45.3 446.5) scale(6)" shape-rendering="crispEdges">
<path fill="#1860a7" d="M25 27h4v1h-4zM24 28h5v1h-5zM24 29h5v1h-5zM26 30h3v1h-3z"/>
<path fill="#1766af" d="M20 11h1v1h-1zM36 14h1v1h-1zM21 21h1v1h-1zM20 22h3v1h-3zM21 23h2v1h-2zM21 24h3v1h-3zM21 25h9v1h-9zM21 26h10v1h-10zM20 27h5v1h-5zM29 27h2v1h-2zM46 27h4v1h-4zM20 28h4v1h-4zM29 28h2v1h-2zM44 28h7v1h-7zM19 29h5v1h-5zM29 29h2v1h-2zM44 29h4v1h-4zM18 30h2v1h-2zM23 30h3v1h-3zM29 30h1v1h-1zM43 30h4v1h-4zM26 31h4v1h-4zM42 31h4v1h-4zM42 32h3v1h-3z"/>
<path fill="#196cb4" d="M19 10h3v1h-3zM19 11h1v1h-1zM21 11h1v1h-1zM35 13h2v1h-2zM35 14h1v1h-1zM13 20h1v1h-1zM19 20h4v1h-4zM10 21h11v1h-11zM22 21h2v1h-2zM9 22h11v1h-11zM23 22h2v1h-2zM9 23h7v1h-7zM18 23h3v1h-3zM23 23h7v1h-7zM9 24h6v1h-6zM19 24h2v1h-2zM24 24h7v1h-7zM9 25h6v1h-6zM19 25h2v1h-2zM30 25h2v1h-2zM47 25h4v1h-4zM12 26h1v1h-1zM19 26h2v1h-2zM31 26h1v1h-1zM45 26h6v1h-6zM18 27h2v1h-2zM31 27h1v1h-1zM44 27h2v1h-2zM50 27h1v1h-1zM17 28h3v1h-3zM31 28h1v1h-1zM43 28h1v1h-1zM17 29h2v1h-2zM31 29h1v1h-1zM43 29h1v1h-1zM48 29h3v1h-3zM17 30h1v1h-1zM20 30h3v1h-3zM30 30h2v1h-2zM42 30h1v1h-1zM47 30h4v1h-4zM17 31h9v1h-9zM30 31h1v1h-1zM46 31h5v1h-5zM27 32h4v1h-4zM45 32h1v1h-1zM28 33h3v1h-3zM42 33h3v1h-3zM29 34h2v1h-2zM29 35h2v1h-2z"/>
<path fill="#1c71b7" d="M20 9h1v1h-1zM22 10h1v1h-1zM18 11h1v1h-1zM22 11h1v1h-1zM19 12h3v1h-3zM36 12h1v1h-1zM37 13h1v1h-1zM37 14h1v1h-1zM35 15h2v1h-2zM11 19h12v1h-12zM9 20h4v1h-4zM14 20h5v1h-5zM23 20h1v1h-1zM7 21h3v1h-3zM24 21h2v1h-2zM28 21h1v1h-1zM7 22h2v1h-2zM25 22h6v1h-6zM7 23h2v1h-2zM16 23h2v1h-2zM30 23h2v1h-2zM48 23h3v1h-3zM7 24h2v1h-2zM15 24h4v1h-4zM31 24h1v1h-1zM47 24h4v1h-4zM7 25h2v1h-2zM15 25h4v1h-4zM45 25h2v1h-2zM9 26h3v1h-3zM13 26h6v1h-6zM32 26h1v1h-1zM43 26h2v1h-2zM12 27h6v1h-6zM32 27h1v1h-1zM43 27h1v1h-1zM15 28h2v1h-2zM32 28h1v1h-1zM42 28h1v1h-1zM16 29h1v1h-1zM42 29h1v1h-1zM16 30h1v1h-1zM41 30h1v1h-1zM31 31h1v1h-1zM41 31h1v1h-1zM17 32h5v1h-5zM25 32h2v1h-2zM31 32h1v1h-1zM41 32h1v1h-1zM46 32h5v1h-5zM31 33h1v1h-1zM41 33h1v1h-1zM45 33h1v1h-1zM28 34h1v1h-1zM31 34h1v1h-1zM42 34h3v1h-3zM31 35h1v1h-1zM29 36h2v1h-2z"/>
<path fill="#2077bb" d="M19 9h1v1h-1zM21 9h1v1h-1zM18 10h1v1h-1zM23 11h1v1h-1zM18 12h1v1h-1zM22 12h1v1h-1zM35 12h1v1h-1zM34 13h1v1h-1zM34 14h1v1h-1zM37 15h1v1h-1zM10 18h11v1h-11zM7 19h4v1h-4zM23 19h1v1h-1zM5 20h4v1h-4zM24 20h2v1h-2zM27 20h3v1h-3zM5 21h2v1h-2zM26 21h2v1h-2zM29 21h2v1h-2zM50 21h1v1h-1zM5 22h2v1h-2zM31 22h1v1h-1zM48 22h3v1h-3zM5 23h2v1h-2zM32 23h1v1h-1zM47 23h1v1h-1zM5 24h2v1h-2zM32 24h1v1h-1zM45 24h2v1h-2zM6 25h1v1h-1zM32 25h1v1h-1zM43 25h2v1h-2zM7 26h2v1h-2zM42 26h1v1h-1zM9 27h3v1h-3zM42 27h1v1h-1zM13 28h2v1h-2zM15 29h1v1h-1zM32 29h1v1h-1zM41 29h1v1h-1zM15 30h1v1h-1zM32 30h1v1h-1zM16 31h1v1h-1zM32 31h1v1h-1zM16 32h1v1h-1zM22 32h3v1h-3zM32 32h1v1h-1zM18 33h3v1h-3zM27 33h1v1h-1zM32 33h1v1h-1zM46 33h4v1h-4zM32 34h1v1h-1zM41 34h1v1h-1zM45 34h1v1h-1zM49 34h1v1h-1zM28 35h1v1h-1zM41 35h4v1h-4zM31 36h1v1h-1z"/>
<path fill="#257ec0" d="M18 9h1v1h-1zM22 9h1v1h-1zM17 10h1v1h-1zM23 10h1v1h-1zM17 11h1v1h-1zM35 11h2v1h-2zM17 12h1v1h-1zM23 12h1v1h-1zM34 12h1v1h-1zM37 12h1v1h-1zM19 13h4v1h-4zM34 15h1v1h-1zM35 16h2v1h-2zM8 17h10v1h-10zM2 18h2v1h-2zM5 18h5v1h-5zM21 18h3v1h-3zM1 19h6v1h-6zM24 19h6v1h-6zM1 20h4v1h-4zM26 20h1v1h-1zM30 20h2v1h-2zM48 20h3v1h-3zM1 21h4v1h-4zM31 21h1v1h-1zM48 21h2v1h-2zM1 22h4v1h-4zM32 22h1v1h-1zM47 22h1v1h-1zM1 23h4v1h-4zM46 23h1v1h-1zM4 24h1v1h-1zM33 24h1v1h-1zM44 24h1v1h-1zM4 25h2v1h-2zM33 25h1v1h-1zM42 25h1v1h-1zM5 26h2v1h-2zM33 26h1v1h-1zM6 27h3v1h-3zM33 27h1v1h-1zM41 27h1v1h-1zM9 28h4v1h-4zM33 28h1v1h-1zM41 28h1v1h-1zM13 29h2v1h-2zM33 29h1v1h-1zM33 30h1v1h-1zM40 30h1v1h-1zM15 31h1v1h-1zM33 31h1v1h-1zM40 31h1v1h-1zM33 32h1v1h-1zM40 32h1v1h-1zM17 33h1v1h-1zM21 33h2v1h-2zM26 33h1v1h-1zM33 33h1v1h-1zM40 33h1v1h-1zM18 34h3v1h-3zM27 34h1v1h-1zM40 34h1v1h-1zM46 34h3v1h-3zM32 35h1v1h-1zM40 35h1v1h-1zM45 35h5v1h-5zM28 36h1v1h-1zM32 36h1v1h-1zM41 36h4v1h-4zM29 37h3v1h-3z"/>
<path fill="#2b86c4" d="M17 9h1v1h-1zM16 10h1v1h-1zM16 11h1v1h-1zM24 11h1v1h-1zM34 11h1v1h-1zM37 11h1v1h-1zM16 12h1v1h-1zM24 12h1v1h-1zM16 13h3v1h-3zM23 13h1v1h-1zM33 13h1v1h-1zM38 13h1v1h-1zM19 14h2v1h-2zM38 14h1v1h-1zM12 15h2v1h-2zM2 16h16v1h-16zM34 16h1v1h-1zM37 16h1v1h-1zM2 17h6v1h-6zM18 17h7v1h-7zM34 17h3v1h-3zM4 18h1v1h-1zM24 18h6v1h-6zM48 18h2v1h-2zM30 19h2v1h-2zM47 19h4v1h-4zM32 20h1v1h-1zM47 20h1v1h-1zM32 21h1v1h-1zM47 21h1v1h-1zM33 22h1v1h-1zM46 22h1v1h-1zM33 23h1v1h-1zM45 23h1v1h-1zM1 24h3v1h-3zM34 24h1v1h-1zM43 24h1v1h-1zM1 25h3v1h-3zM34 25h1v1h-1zM3 26h2v1h-2zM34 26h1v1h-1zM41 26h1v1h-1zM5 27h1v1h-1zM34 27h1v1h-1zM6 28h3v1h-3zM34 28h1v1h-1zM40 28h1v1h-1zM9 29h4v1h-4zM34 29h1v1h-1zM40 29h1v1h-1zM13 30h2v1h-2zM34 30h1v1h-1zM14 31h1v1h-1zM34 31h1v1h-1zM15 32h1v1h-1zM16 33h1v1h-1zM23 33h3v1h-3zM34 33h1v1h-1zM39 33h1v1h-1zM17 34h1v1h-1zM21 34h1v1h-1zM33 34h2v1h-2zM39 34h1v1h-1zM18 35h2v1h-2zM33 35h1v1h-1zM39 35h1v1h-1zM33 36h1v1h-1zM39 36h2v1h-2zM45 36h4v1h-4zM32 37h1v1h-1zM39 37h6v1h-6zM46 37h3v1h-3zM30 38h2v1h-2z"/>
<path fill="#318ec9" d="M20 8h1v1h-1zM16 9h1v1h-1zM23 9h1v1h-1zM15 10h1v1h-1zM24 10h1v1h-1zM35 10h2v1h-2zM15 11h1v1h-1zM25 11h1v1h-1zM14 12h2v1h-2zM25 12h1v1h-1zM33 12h1v1h-1zM38 12h1v1h-1zM13 13h3v1h-3zM24 13h2v1h-2zM3 14h2v1h-2zM9 14h10v1h-10zM21 14h5v1h-5zM33 14h1v1h-1zM3 15h9v1h-9zM14 15h8v1h-8zM24 15h2v1h-2zM33 15h1v1h-1zM38 15h1v1h-1zM18 16h9v1h-9zM33 16h1v1h-1zM48 16h2v1h-2zM25 17h5v1h-5zM32 17h2v1h-2zM37 17h1v1h-1zM47 17h3v1h-3zM30 18h6v1h-6zM47 18h1v1h-1zM32 19h2v1h-2zM33 20h1v1h-1zM33 21h1v1h-1zM46 21h1v1h-1zM34 22h1v1h-1zM45 22h1v1h-1zM34 23h1v1h-1zM44 23h1v1h-1zM42 24h1v1h-1zM35 25h1v1h-1zM41 25h1v1h-1zM1 26h2v1h-2zM35 26h1v1h-1zM40 26h1v1h-1zM1 27h4v1h-4zM35 27h1v1h-1zM40 27h1v1h-1zM4 28h2v1h-2zM35 28h1v1h-1zM6 29h3v1h-3zM39 29h1v1h-1zM10 30h3v1h-3zM39 30h1v1h-1zM39 31h1v1h-1zM14 32h1v1h-1zM34 32h1v1h-1zM39 32h1v1h-1zM15 33h1v1h-1zM35 33h1v1h-1zM16 34h1v1h-1zM22 34h1v1h-1zM26 34h1v1h-1zM35 34h1v1h-1zM37 34h2v1h-2zM16 35h2v1h-2zM20 35h2v1h-2zM27 35h1v1h-1zM34 35h5v1h-5zM17 36h3v1h-3zM34 36h5v1h-5zM28 37h1v1h-1zM33 37h6v1h-6zM45 37h1v1h-1zM29 38h1v1h-1zM32 38h2v1h-2zM36 38h12v1h-12zM46 39h1v1h-1zM18 41h2v1h-2zM17 42h4v1h-4zM16 43h6v1h-6zM16 44h6v1h-6zM17 45h4v1h-4z"/>
<path fill="#3996cd" d="M18 8h2v1h-2zM21 8h1v1h-1zM15 9h1v1h-1zM24 9h1v1h-1zM14 10h1v1h-1zM25 10h1v1h-1zM34 10h1v1h-1zM37 10h1v1h-1zM13 11h2v1h-2zM33 11h1v1h-1zM38 11h1v1h-1zM12 12h2v1h-2zM26 12h1v1h-1zM32 12h1v1h-1zM4 13h3v1h-3zM8 13h5v1h-5zM26 13h1v1h-1zM32 13h1v1h-1zM5 14h4v1h-4zM26 14h1v1h-1zM32 14h1v1h-1zM22 15h2v1h-2zM26 15h2v1h-2zM32 15h1v1h-1zM48 15h1v1h-1zM27 16h6v1h-6zM38 16h1v1h-1zM46 16h2v1h-2zM30 17h2v1h-2zM46 17h1v1h-1zM36 18h1v1h-1zM46 18h1v1h-1zM34 19h2v1h-2zM46 19h1v1h-1zM34 20h2v1h-2zM46 20h1v1h-1zM34 21h2v1h-2zM45 21h1v1h-1zM35 22h1v1h-1zM44 22h1v1h-1zM35 23h1v1h-1zM43 23h1v1h-1zM35 24h1v1h-1zM41 24h1v1h-1zM36 25h1v1h-1zM40 25h1v1h-1zM36 26h1v1h-1zM39 26h1v1h-1zM36 27h1v1h-1zM39 27h1v1h-1zM1 28h3v1h-3zM36 28h1v1h-1zM38 28h2v1h-2zM1 29h2v1h-2zM4 29h2v1h-2zM35 29h1v1h-1zM6 30h4v1h-4zM35 30h1v1h-1zM10 31h4v1h-4zM35 31h1v1h-1zM13 32h1v1h-1zM35 32h1v1h-1zM38 32h1v1h-1zM14 33h1v1h-1zM36 33h3v1h-3zM14 34h2v1h-2zM23 34h3v1h-3zM36 34h1v1h-1zM15 35h1v1h-1zM16 36h1v1h-1zM20 36h2v1h-2zM27 36h1v1h-1zM17 37h4v1h-4zM17 38h3v1h-3zM28 38h1v1h-1zM34 38h2v1h-2zM16 39h4v1h-4zM29 39h17v1h-17zM15 40h6v1h-6zM45 40h2v1h-2zM13 41h5v1h-5zM20 41h2v1h-2zM12 42h5v1h-5zM21 42h2v1h-2zM12 43h4v1h-4zM22 43h1v1h-1zM11 44h5v1h-5zM22 44h1v1h-1zM11 45h6v1h-6zM21 45h2v1h-2zM11 46h11v1h-11zM13 47h8v1h-8zM14 48h6v1h-6zM16 49h4v1h-4z"/>
<path fill="#479ed0" d="M16 8h2v1h-2zM22 8h1v1h-1zM14 9h1v1h-1zM35 9h2v1h-2zM13 10h1v1h-1zM33 10h1v1h-1zM38 10h1v1h-1zM5 11h1v1h-1zM11 11h2v1h-2zM26 11h1v1h-1zM32 11h1v1h-1zM5 12h7v1h-7zM27 12h1v1h-1zM31 12h1v1h-1zM7 13h1v1h-1zM27 13h2v1h-2zM31 13h1v1h-1zM39 13h1v1h-1zM27 14h5v1h-5zM39 14h1v1h-1zM47 14h2v1h-2zM28 15h4v1h-4zM39 15h1v1h-1zM46 15h2v1h-2zM38 17h1v1h-1zM37 18h1v1h-1zM36 19h1v1h-1zM36 20h1v1h-1zM45 20h1v1h-1zM36 21h1v1h-1zM36 22h1v1h-1zM36 23h1v1h-1zM42 23h1v1h-1zM36 24h2v1h-2zM40 24h1v1h-1zM37 25h3v1h-3zM37 26h2v1h-2zM37 27h2v1h-2zM37 28h1v1h-1zM3 29h1v1h-1zM36 29h3v1h-3zM1 30h5v1h-5zM36 30h3v1h-3zM6 31h4v1h-4zM36 31h3v1h-3zM8 32h5v1h-5zM36 32h2v1h-2zM11 33h3v1h-3zM12 34h2v1h-2zM13 35h2v1h-2zM22 35h1v1h-1zM26 35h1v1h-1zM13 36h3v1h-3zM11 37h6v1h-6zM21 37h1v1h-1zM27 37h1v1h-1zM10 38h7v1h-7zM20 38h1v1h-1zM10 39h6v1h-6zM20 39h2v1h-2zM28 39h1v1h-1zM9 40h6v1h-6zM21 40h1v1h-1zM35 40h10v1h-10zM8 41h5v1h-5zM22 41h1v1h-1zM44 41h2v1h-2zM7 42h5v1h-5zM23 42h1v1h-1zM8 43h4v1h-4zM23 43h2v1h-2zM9 44h2v1h-2zM23 44h2v1h-2zM10 45h1v1h-1zM23 45h1v1h-1zM22 46h2v1h-2zM21 47h2v1h-2zM20 48h2v1h-2zM20 49h2v1h-2zM19 50h2v1h-2z"/>
<path fill="#55a5d4" d="M15 8h1v1h-1zM23 8h1v1h-1zM13 9h1v1h-1zM25 9h1v1h-1zM34 9h1v1h-1zM37 9h1v1h-1zM6 10h2v1h-2zM11 10h2v1h-2zM26 10h1v1h-1zM32 10h1v1h-1zM6 11h5v1h-5zM27 11h5v1h-5zM39 11h1v1h-1zM28 12h3v1h-3zM39 12h1v1h-1zM29 13h2v1h-2zM47 13h1v1h-1zM45 14h2v1h-2zM45 15h1v1h-1zM39 16h1v1h-1zM45 16h1v1h-1zM45 17h1v1h-1zM38 18h1v1h-1zM45 18h1v1h-1zM37 19h1v1h-1zM45 19h1v1h-1zM37 20h1v1h-1zM37 21h1v1h-1zM44 21h1v1h-1zM37 22h1v1h-1zM43 22h1v1h-1zM37 23h5v1h-5zM38 24h2v1h-2zM1 31h5v1h-5zM1 32h7v1h-7zM6 33h5v1h-5zM7 34h5v1h-5zM7 35h6v1h-6zM23 35h1v1h-1zM7 36h6v1h-6zM22 36h1v1h-1zM7 37h4v1h-4zM5 38h5v1h-5zM21 38h1v1h-1zM27 38h1v1h-1zM5 39h5v1h-5zM27 39h1v1h-1zM5 40h4v1h-4zM22 40h1v1h-1zM28 40h7v1h-7zM6 41h2v1h-2zM23 41h2v1h-2zM37 41h7v1h-7zM24 42h2v1h-2zM43 42h2v1h-2zM25 43h1v1h-1zM24 45h1v1h-1zM24 46h1v1h-1zM23 47h1v1h-1zM22 48h1v1h-1zM22 49h1v1h-1zM21 50h2v1h-2z"/>
<path fill="#63add7" d="M13 8h2v1h-2zM24 8h1v1h-1zM35 8h3v1h-3zM7 9h2v1h-2zM11 9h2v1h-2zM26 9h1v1h-1zM33 9h1v1h-1zM38 9h1v1h-1zM8 10h3v1h-3zM27 10h2v1h-2zM30 10h2v1h-2zM39 10h1v1h-1zM40 12h1v1h-1zM46 12h1v1h-1zM40 13h1v1h-1zM45 13h2v1h-2zM40 14h1v1h-1zM40 15h1v1h-1zM39 17h1v1h-1zM38 19h1v1h-1zM38 20h1v1h-1zM44 20h1v1h-1zM38 21h1v1h-1zM43 21h1v1h-1zM38 22h5v1h-5zM2 33h4v1h-4zM2 34h5v1h-5zM2 35h5v1h-5zM24 35h2v1h-2zM3 36h4v1h-4zM26 36h1v1h-1zM3 37h4v1h-4zM22 37h1v1h-1zM26 37h1v1h-1zM4 38h1v1h-1zM22 38h1v1h-1zM22 39h1v1h-1zM26 39h1v1h-1zM23 40h5v1h-5zM25 41h3v1h-3zM34 41h3v1h-3zM26 42h1v1h-1zM42 42h1v1h-1zM43 43h1v1h-1zM25 44h1v1h-1zM25 45h1v1h-1zM25 46h1v1h-1zM24 47h1v1h-1zM23 48h1v1h-1zM23 49h1v1h-1zM23 50h1v1h-1z"/>
<path fill="#72b5da" d="M9 7h1v1h-1zM15 7h7v1h-7zM8 8h3v1h-3zM12 8h1v1h-1zM25 8h1v1h-1zM34 8h1v1h-1zM38 8h1v1h-1zM9 9h2v1h-2zM27 9h1v1h-1zM31 9h2v1h-2zM39 9h1v1h-1zM29 10h1v1h-1zM40 10h1v1h-1zM40 11h2v1h-2zM45 11h2v1h-2zM41 12h1v1h-1zM44 12h2v1h-2zM41 13h1v1h-1zM43 13h2v1h-2zM41 14h1v1h-1zM43 14h2v1h-2zM44 15h1v1h-1zM40 16h1v1h-1zM44 16h1v1h-1zM44 17h1v1h-1zM39 18h1v1h-1zM44 18h1v1h-1zM39 19h1v1h-1zM44 19h1v1h-1zM39 20h1v1h-1zM39 21h1v1h-1zM42 21h1v1h-1zM23 36h1v1h-1zM26 38h1v1h-1zM23 39h3v1h-3zM28 41h6v1h-6zM27 42h1v1h-1zM36 42h6v1h-6zM26 43h1v1h-1zM42 43h1v1h-1zM26 44h1v1h-1zM42 44h1v1h-1zM24 48h1v1h-1z"/>
<path fill="#81bedd" d="M10 6h2v1h-2zM10 7h2v1h-2zM13 7h2v1h-2zM22 7h2v1h-2zM36 7h2v1h-2zM42 7h1v1h-1zM11 8h1v1h-1zM26 8h1v1h-1zM33 8h1v1h-1zM39 8h1v1h-1zM41 8h3v1h-3zM28 9h3v1h-3zM40 9h5v1h-5zM41 10h5v1h-5zM42 11h3v1h-3zM42 12h2v1h-2zM42 13h1v1h-1zM42 14h1v1h-1zM41 15h3v1h-3zM41 16h1v1h-1zM43 16h1v1h-1zM40 17h1v1h-1zM40 20h1v1h-1zM43 20h1v1h-1zM40 21h2v1h-2zM24 36h2v1h-2zM23 37h1v1h-1zM25 37h1v1h-1zM23 38h3v1h-3zM28 42h1v1h-1zM35 42h1v1h-1zM27 43h1v1h-1zM40 43h2v1h-2zM41 44h1v1h-1zM26 45h1v1h-1zM25 47h1v1h-1zM24 49h1v1h-1zM24 50h1v1h-1z"/>
<path fill="#90c6e0" d="M11 5h2v1h-2zM40 5h1v1h-1zM12 6h1v1h-1zM39 6h3v1h-3zM12 7h1v1h-1zM24 7h1v1h-1zM34 7h2v1h-2zM38 7h4v1h-4zM27 8h1v1h-1zM32 8h1v1h-1zM40 8h1v1h-1zM42 16h1v1h-1zM41 17h1v1h-1zM43 17h1v1h-1zM40 18h1v1h-1zM43 18h1v1h-1zM40 19h1v1h-1zM43 19h1v1h-1zM41 20h2v1h-2zM24 37h1v1h-1zM29 42h1v1h-1zM33 42h2v1h-2zM36 43h4v1h-4zM40 44h1v1h-1zM41 45h1v1h-1zM26 46h1v1h-1zM25 48h1v1h-1zM25 49h1v1h-1zM25 50h1v1h-1z"/>
<path fill="#9bcbe3" d="M13 5h1v1h-1zM38 5h2v1h-2zM13 6h4v1h-4zM38 6h1v1h-1zM25 7h2v1h-2zM33 7h1v1h-1zM28 8h4v1h-4zM42 17h1v1h-1zM41 18h2v1h-2zM41 19h2v1h-2zM30 42h3v1h-3zM28 43h1v1h-1zM35 43h1v1h-1zM27 44h1v1h-1zM39 44h1v1h-1zM40 45h1v1h-1zM26 47h1v1h-1z"/>
<path fill="#a6d0e5" d="M13 4h1v1h-1zM38 4h1v1h-1zM14 5h1v1h-1zM37 5h1v1h-1zM17 6h2v1h-2zM35 6h3v1h-3zM27 7h1v1h-1zM32 7h1v1h-1zM34 43h1v1h-1zM37 44h2v1h-2zM27 45h1v1h-1zM39 45h1v1h-1zM40 46h1v1h-1zM26 48h1v1h-1zM26 49h1v1h-1zM26 50h1v1h-1z"/>
<path fill="#b0d5e8" d="M14 3h1v1h-1zM14 4h1v1h-1zM37 4h1v1h-1zM15 5h1v1h-1zM19 6h6v1h-6zM34 6h1v1h-1zM28 7h2v1h-2zM31 7h1v1h-1zM29 43h1v1h-1zM33 43h1v1h-1zM28 44h1v1h-1zM36 44h1v1h-1zM38 45h1v1h-1zM27 46h1v1h-1zM39 46h1v1h-1z"/>
<path fill="#bbdaea" d="M37 3h1v1h-1zM15 4h1v1h-1zM36 4h1v1h-1zM36 5h1v1h-1zM25 6h2v1h-2zM33 6h1v1h-1zM30 7h1v1h-1zM30 43h3v1h-3zM35 44h1v1h-1zM38 46h1v1h-1zM27 47h1v1h-1z"/>
<path fill="#c5dfed" d="M15 3h1v1h-1zM36 3h1v1h-1zM16 5h2v1h-2zM35 5h1v1h-1zM27 6h2v1h-2zM32 6h1v1h-1zM29 44h1v1h-1zM34 44h1v1h-1zM28 45h1v1h-1zM36 45h2v1h-2zM38 47h1v1h-1zM27 48h1v1h-1zM27 49h1v1h-1zM27 50h1v1h-1z"/>
<path fill="#cfe4ef" d="M16 3h1v1h-1zM35 3h1v1h-1zM16 4h1v1h-1zM35 4h1v1h-1zM18 5h1v1h-1zM24 5h2v1h-2zM34 5h1v1h-1zM29 6h3v1h-3zM33 44h1v1h-1zM28 46h1v1h-1zM37 46h1v1h-1z"/>
<path fill="#d6e7f1" d="M16 2h1v1h-1zM35 2h1v1h-1zM17 4h1v1h-1zM34 4h1v1h-1zM19 5h1v1h-1zM22 5h2v1h-2zM26 5h2v1h-2zM33 5h1v1h-1zM30 44h1v1h-1zM32 44h1v1h-1zM35 45h1v1h-1zM36 46h1v1h-1zM28 47h1v1h-1zM37 47h1v1h-1zM37 48h1v1h-1zM28 50h1v1h-1z"/>
<path fill="#dceaf2" d="M34 2h1v1h-1zM17 3h1v1h-1zM34 3h1v1h-1zM20 5h2v1h-2zM28 5h2v1h-2zM32 5h1v1h-1zM31 44h1v1h-1zM29 45h1v1h-1zM34 45h1v1h-1zM36 47h1v1h-1zM28 48h1v1h-1zM28 49h1v1h-1z"/>
<path fill="#e3edf3" d="M17 2h1v1h-1zM33 3h1v1h-1zM18 4h1v1h-1zM24 4h4v1h-4zM33 4h1v1h-1zM30 5h2v1h-2zM33 45h1v1h-1zM29 46h1v1h-1zM35 46h1v1h-1zM36 48h1v1h-1z"/>
<path fill="#e9f0f3" d="M18 2h1v1h-1zM33 2h1v1h-1zM18 3h1v1h-1zM19 4h1v1h-1zM22 4h2v1h-2zM28 4h1v1h-1zM32 4h1v1h-1zM30 45h1v1h-1zM32 45h1v1h-1zM34 46h1v1h-1zM29 47h1v1h-1zM35 47h1v1h-1zM29 48h1v1h-1zM29 49h1v1h-1zM29 50h1v1h-1z"/>
<path fill="#eef2f4" d="M32 1h1v1h-1zM32 2h1v1h-1zM25 3h2v1h-2zM32 3h1v1h-1zM20 4h2v1h-2zM29 4h3v1h-3zM31 45h1v1h-1zM35 48h1v1h-1zM35 49h1v1h-1z"/>
<path fill="#f4f5f5" d="M19 1h1v1h-1zM24 1h8v1h-8zM19 2h1v1h-1zM24 2h8v1h-8zM19 3h1v1h-1zM23 3h2v1h-2zM27 3h5v1h-5zM30 46h1v1h-1zM32 46h2v1h-2zM30 47h1v1h-1zM34 47h1v1h-1zM30 48h1v1h-1zM34 48h1v1h-1zM30 49h1v1h-1zM30 50h1v1h-1z"/>
<path fill="#f7f4f1" d="M20 1h4v1h-4zM20 2h4v1h-4zM20 3h3v1h-3zM31 46h1v1h-1zM31 47h1v1h-1zM33 47h1v1h-1zM33 48h1v1h-1zM31 49h1v1h-1zM34 49h1v1h-1zM31 50h1v1h-1z"/>
<path fill="#f8f0ea" d="M32 47h1v1h-1zM31 48h2v1h-2zM32 49h2v1h-2zM32 50h1v1h-1z"/>
</g></g>
<path d="M162.8 503.9 158.9 506 156.6 508 154.3 512 154.3 516 155.1 518 158.8 521.8 164.8 524.6 170.8 525.3 176.9 524 180.5 522 182.6 520 184.2 516 183.7 512 181.3 508 179 506 174.8 503.7 170.8 502.7 166.8 502.8 162.8 503.9M260.8 519.6 256.8 521.4 254.6 524 253.3 528 253.3 532 254.8 537.6 256.8 540.6 258.8 542.1 262.8 543 266.8 541.7 270.5 538 272 534 272 530 270.8 525.9 267.9 522 264.8 520.1 260.8 519.6M122.8 557.8 114.8 559.6 91.9 568 86.8 570.9 83.7 574 80.7 580 80.1 584 80.4 588 81.4 592 83.2 596 87.8 602 92.8 606.1 100.8 609.8 108.8 612 126.8 615.2 132.8 617.6 134.8 619.3 136.8 622.2 142 634 144.8 638.8 148.8 643 152.8 645.5 156.8 646.9 162.8 647.2 166.8 646.4 178.8 642.5 184.8 641.5 190.8 641.6 198.8 643.1 206.1 646 211.3 650 214.8 655 218.8 664.1 220.8 666.7 222.6 668 224.8 668.9 228.8 668.6 232.7 666 236.3 660 239.3 650 242.8 616 243.1 606 241.9 598 238.8 590 234.8 583.1 228.8 575.6 224.8 572.8 221 572 206.8 573.5 200.8 572.9 196.8 571 184.8 562.8 176.8 560.1 170.8 559.7 150.8 560.6 142.8 559.9 130.8 557.8 122.8 557.8M342.8 580.7 336.8 581.6 326.8 590.5 320.8 594.2 308.8 600.1 304 604 299.2 612 294.8 622.8 291.2 636 290.3 644 291.1 650 292.8 654.3 296.4 658 300.8 659.6 304.8 659.7 310.8 657.9 322.8 649.6 330.8 646.4 342.8 650.4M342.8 538.1 326.1 546 325.1 548 324.8 550 325 560 324.2 566 322 572 319.5 576 312.8 582.6 294.8 594 290.4 598 285.7 604 282.3 610 280.4 616 280 620 280.4 634 278.8 640.6 276.8 644.1 272.8 648.2 270.8 649.4 266.8 649.9 264.8 649.3 262.8 647.8 260.8 644.7 259.4 640 258.9 636 259.1 630 262.5 614 262.8 606 261.1 596 254.7 576 253.4 570 254.3 566 256 564 266.8 556.6 272.8 550.9 276.8 545.4 279.3 540 280.2 536 280.3 532 278.3 522 276.8 517.8 274.8 514.1 270.8 509.9 264.8 507.2 258.8 507.1 254.8 508.1 250.9 510 245.8 514 242.8 518 241.3 522 241 528 242.4 536 240.8 543.1 238.8 546.1 236.8 547.6 230.8 548.9 224.8 548.5 218.8 547.3 212.8 544.9 208.7 542 206.8 539.9 204.7 536 203.7 532 202.1 520 199.6 514 197 510 193.3 506 188 502 180.8 498.7 174.8 497.2 166.8 496.7 158.8 497.4 148.8 499.7 143 502 139.8 504 135.3 508 126.8 520 123 524 116.8 527.2 108.8 529.2 84.8 532.8 82.8 532.4 60.8 519.4M60.8 618.8 64.8 618.4 66.8 618.8 80.8 625.2 94.8 630 116.8 633.7 123.4 636 126.8 639.2 131.8 648 136 654 145.1 664 152.8 673.6 156.8 676.8 158.8 676.5 160.8 675.2 179.2 658 182.8 655.3 188.8 652.8 194.8 652.4 200.8 654 205.9 658 208.6 662 215.3 676 218.8 680 222.8 682.3 226.8 683.3 232.8 683.5 248.8 680.5 254.8 680.1 276.8 683.1 290.8 683.9 300.8 683.3 312.8 681.3 342.8 702.1M148.1 744 152.8 731.6 154.8 730.4 164.8 728.1 172.8 724.2 177.7 720 179 718 180.4 714 180.3 710 179.1 706 174.2 698 170.8 694 162.8 686.9 158.8 684 156.8 683.4 152.8 685.6 143.2 694 137.2 700 134.1 704 132.1 708 131.2 712 131.3 716 132.6 720 132.2 722 119.5 744M342.8 502.4 312.6 524 311 528 310 534 310.4 540 313 556 312.7 562 311.5 566 307.4 572 302.8 575.5 294.8 578.5 288.8 578.9 284.8 577.8 282.8 576.4 281 574 279.9 570 279.9 566 280.6 562 282.7 556 291.4 538 292.4 534 292.3 528 290.1 516 288.2 510 284.2 504 280.8 500.9 276.8 498.4 268.8 495.7 262.8 495.3 258.8 495.7 251.5 498 232.8 505.8 226.8 507.5 222.8 507.8 218.8 507.3 214.8 506.1 196.8 497.2 186.8 493.8 172.8 491.9 148.8 491.5 140.8 492.1 134.8 493.3 126.4 496 108.8 502.9 106.8 502.6 68.3 462M188.7 664 192.8 662.3 196.8 662.4 199.7 664 201.3 666 203.1 672 202.9 678 201.4 682 198.8 684.4 194.8 685.5 190.8 684.8 186.8 682.4 184.7 680 183.3 676 183.5 672 185.1 668 188.7 664M189.3 744 190.3 738 196.8 730.2 199.4 726 204.4 708 206.3 704 208.8 700.6 212.3 698 216.8 696.4 222.8 695.6 238.8 695.1 248.8 696 266.8 700.6 294.8 702.6 333.4 744M283.4 462 270.5 484 256.8 486.7 234.8 494.3 224.8 495.5 216.8 494.4 200.8 489.5 192.8 487.9 184.8 487.2 168.8 487 146.8 484.5 133.7 484 132.8 483.5 120.4 462M202.8 744 202.7 740 203.2 738 206.8 730.4 211.1 718 214.8 711.5 218.3 708 222.8 705.4 228.8 703.8 236.8 703.2 246.8 704.7 262.8 710.5 278.8 714.5 280.5 716 300.1 744M262.8 462 256.7 476 254.8 477.9 238.8 484.3 232.8 485.9 228.8 486.2 220.8 485.4 200.8 480.7 190.8 480.4 174.8 482 168.8 482.1 149.2 478 146.8 477 145.9 476 139.8 462M212.4 744 212.2 738 216.6 724 219.6 718 222.8 714.4 226.4 712 230.8 710.5 234.8 710.1 240.8 710.7 245.5 712 267.5 722 279.9 744M246.3 462 242.8 472.2 234.8 475.7 228.8 476.5 222.8 475.6 206.8 471.7 200.8 471.1 192.8 472 172.8 475.9 166.8 475.5 160.8 474 157.5 472 154.1 462M221.9 744 221 738 221.3 736 222.8 728.9 224.6 724 226.8 720.7 228.8 718.9 230.8 717.9 234.8 717.2 238.8 717.7 244.7 720 251.7 724 256.8 727.6 264.2 744" fill="none" stroke="#1a1a1a" stroke-width="0.55" stroke-opacity="0.85" stroke-linejoin="round"/>
</g>
<g fill="none" stroke="#231f20" stroke-linejoin="round" stroke-linecap="round">
<path stroke-width="1.5" d="M225.9 467.1 201.3 445.5 176.7 467.1M65.6 587.3 62.1 581.3 59.9 581.1 56.6 582.1 53.4 587.3 53.9 604 52 627.9 56.1 638.3 62.1 640.3 67.8 635.2M337 587.3 340.5 581.3 342.7 581.1 346 582.1 349.2 587.3 348.7 604 350.6 627.9 346.5 638.3 340.5 640.3 334.8 635.2"/>
<circle cx="201.3" cy="602.5" r="136.5" stroke-width="1.8"/>
</g>
<g fill="#231f20">
<circle cx="141.5" cy="496" r="3.8"/>
<circle cx="260.1" cy="496" r="3.8"/>
<circle cx="169.7" cy="504.6" r="3.8"/>
<circle cx="231.9" cy="504.6" r="3.8"/>
<circle cx="117.7" cy="523.8" r="3.8"/>
<circle cx="283.9" cy="523.8" r="3.8"/>
<circle cx="137.3" cy="531.6" r="3.8"/>
<circle cx="264.3" cy="531.6" r="3.8"/>
<circle cx="157.8" cy="535.8" r="3.8"/>
<circle cx="243.8" cy="535.8" r="3.8"/>
<circle cx="179.2" cy="537.3" r="3.8"/>
<circle cx="222.4" cy="537.3" r="3.8"/>
<circle cx="200.8" cy="538" r="3.8"/>
<circle cx="78" cy="548.8" r="3.8"/>
<circle cx="323.6" cy="548.8" r="3.8"/>
<circle cx="102.3" cy="560.1" r="3.8"/>
<circle cx="299.3" cy="560.1" r="3.8"/>
<circle cx="126.5" cy="565" r="3.8"/>
<circle cx="275.1" cy="565" r="3.8"/>
<circle cx="151.2" cy="568" r="3.8"/>
<circle cx="250.4" cy="568" r="3.8"/>
<circle cx="175.9" cy="568.9" r="3.8"/>
<circle cx="225.7" cy="568.9" r="3.8"/>
<circle cx="200.8" cy="569.4" r="3.8"/>
<circle cx="97.2" cy="600.5" r="3.8"/>
<circle cx="304.4" cy="600.5" r="3.8"/>
<circle cx="123.1" cy="600.5" r="3.8"/>
<circle cx="278.5" cy="600.5" r="3.8"/>
<circle cx="149" cy="600.5" r="3.8"/>
<circle cx="252.6" cy="600.5" r="3.8"/>
<circle cx="174.9" cy="600.5" r="3.8"/>
<circle cx="226.7" cy="600.5" r="3.8"/>
<circle cx="200.8" cy="600.5" r="3.8"/>
<circle cx="78" cy="652.2" r="3.8"/>
<circle cx="323.6" cy="652.2" r="3.8"/>
<circle cx="102.3" cy="640.9" r="3.8"/>
<circle cx="299.3" cy="640.9" r="3.8"/>
<circle cx="126.5" cy="636" r="3.8"/>
<circle cx="275.1" cy="636" r="3.8"/>
<circle cx="151.2" cy="633" r="3.8"/>
<circle cx="250.4" cy="633" r="3.8"/>
<circle cx="175.9" cy="632.1" r="3.8"/>
<circle cx="225.7" cy="632.1" r="3.8"/>
<circle cx="200.8" cy="631.6" r="3.8"/>
<circle cx="117.7" cy="677.2" r="3.8"/>
<circle cx="283.9" cy="677.2" r="3.8"/>
<circle cx="137.3" cy="669.4" r="3.8"/>
<circle cx="264.3" cy="669.4" r="3.8"/>
<circle cx="157.8" cy="665.2" r="3.8"/>
<circle cx="243.8" cy="665.2" r="3.8"/>
<circle cx="179.2" cy="663.7" r="3.8"/>
<circle cx="222.4" cy="663.7" r="3.8"/>
<circle cx="200.8" cy="663" r="3.8"/>
<circle cx="141.5" cy="705" r="3.8"/>
<circle cx="260.1" cy="705" r="3.8"/>
<circle cx="169.7" cy="696.4" r="3.8"/>
<circle cx="231.9" cy="696.4" r="3.8"/>
<circle cx="200.8" cy="694.3" r="3.8"/>
<circle cx="169.9" cy="721.4" r="3.8"/>
<circle cx="200.8" cy="725.7" r="3.8"/>
<circle cx="169.9" cy="479.6" r="1.25"/>
<circle cx="231.7" cy="479.6" r="1.25"/>
<circle cx="231.7" cy="721.4" r="1.25"/>
</g>
<!-- head e -->
<g clip-path="url(#cle)">
<circle cx="624.8" cy="603.2" r="136.5" fill="#e17962"/>
<g filter="url(#bl)"><g transform="translate(468.8 447.2) scale(6)" shape-rendering="crispEdges">
<path fill="#e3edf3" d="M32 47h1v1h-1zM31 48h2v1h-2zM31 49h3v1h-3zM32 50h1v1h-1z"/>
<path fill="#e9f0f3" d="M31 47h1v1h-1zM33 47h1v1h-1zM30 48h1v1h-1zM33 48h1v1h-1zM34 49h1v1h-1zM31 50h1v1h-1z"/>
<path fill="#eef2f4" d="M31 46h2v1h-2zM30 47h1v1h-1zM34 47h1v1h-1zM34 48h1v1h-1zM30 49h1v1h-1zM30 50h1v1h-1z"/>
<path fill="#f4f5f5" d="M31 45h1v1h-1zM30 46h1v1h-1zM33 46h1v1h-1zM29 48h1v1h-1zM35 48h1v1h-1zM29 49h1v1h-1zM35 49h1v1h-1z"/>
<path fill="#f7f4f1" d="M32 45h1v1h-1zM34 46h1v1h-1zM29 47h1v1h-1zM35 47h1v1h-1zM29 50h1v1h-1z"/>
<path fill="#f8f0ea" d="M30 45h1v1h-1zM33 45h1v1h-1zM29 46h1v1h-1zM35 46h1v1h-1zM28 48h1v1h-1zM36 48h1v1h-1zM28 49h1v1h-1z"/>
<path fill="#f9ece3" d="M34 45h1v1h-1zM36 46h1v1h-1zM36 47h1v1h-1zM37 48h1v1h-1zM28 50h1v1h-1z"/>
<path fill="#fae7db" d="M30 44h3v1h-3zM29 45h1v1h-1zM35 45h1v1h-1zM28 47h1v1h-1zM37 47h1v1h-1z"/>
<path fill="#fae3d4" d="M33 44h1v1h-1zM36 45h1v1h-1zM28 46h1v1h-1zM37 46h1v1h-1zM27 48h1v1h-1zM27 49h1v1h-1zM27 50h1v1h-1z"/>
<path fill="#fbdecd" d="M29 44h1v1h-1zM34 44h1v1h-1zM28 45h1v1h-1zM37 45h1v1h-1zM38 46h1v1h-1zM27 47h1v1h-1zM38 47h1v1h-1z"/>
<path fill="#fbd8c5" d="M31 43h2v1h-2zM35 44h1v1h-1zM38 45h1v1h-1zM26 48h1v1h-1zM26 49h1v1h-1zM26 50h1v1h-1z"/>
<path fill="#f9d0ba" d="M30 43h1v1h-1zM33 43h1v1h-1zM28 44h1v1h-1zM36 44h2v1h-2zM39 45h1v1h-1zM27 46h1v1h-1zM39 46h1v1h-1z"/>
<path fill="#f8c8af" d="M2 33h3v1h-3zM2 34h3v1h-3zM2 35h1v1h-1zM29 43h1v1h-1zM34 43h1v1h-1zM38 44h2v1h-2zM27 45h1v1h-1zM40 45h1v1h-1zM40 46h1v1h-1zM26 47h1v1h-1zM25 48h1v1h-1zM25 49h1v1h-1zM25 50h1v1h-1z"/>
<path fill="#f7c0a4" d="M42 7h1v1h-1zM41 8h3v1h-3zM41 9h4v1h-4zM41 10h5v1h-5zM41 11h5v1h-5zM41 12h3v1h-3zM41 13h3v1h-3zM1 32h3v1h-3zM3 35h1v1h-1zM31 42h3v1h-3zM35 43h2v1h-2zM40 44h1v1h-1zM41 45h1v1h-1zM26 46h1v1h-1zM24 49h1v1h-1zM24 50h1v1h-1z"/>
<path fill="#f5b79a" d="M40 6h2v1h-2zM39 7h3v1h-3zM40 8h1v1h-1zM40 9h1v1h-1zM40 10h1v1h-1zM40 11h1v1h-1zM46 11h1v1h-1zM40 12h1v1h-1zM44 12h3v1h-3zM40 13h1v1h-1zM44 13h1v1h-1zM41 14h3v1h-3zM42 15h2v1h-2zM42 16h1v1h-1zM41 17h2v1h-2zM41 18h2v1h-2zM40 19h3v1h-3zM41 20h1v1h-1zM3 30h1v1h-1zM1 31h3v1h-3zM4 32h1v1h-1zM4 35h1v1h-1zM3 36h1v1h-1zM24 36h1v1h-1zM24 37h1v1h-1zM29 42h2v1h-2zM34 42h1v1h-1zM28 43h1v1h-1zM37 43h5v1h-5zM27 44h1v1h-1zM41 44h2v1h-2zM25 47h1v1h-1zM24 48h1v1h-1zM23 50h1v1h-1z"/>
<path fill="#f3ae90" d="M38 4h1v1h-1zM38 5h3v1h-3zM38 6h2v1h-2zM38 7h1v1h-1zM39 8h1v1h-1zM39 9h1v1h-1zM39 10h1v1h-1zM45 13h2v1h-2zM40 14h1v1h-1zM44 14h2v1h-2zM41 15h1v1h-1zM44 15h1v1h-1zM41 16h1v1h-1zM43 16h2v1h-2zM40 17h1v1h-1zM43 17h1v1h-1zM40 18h1v1h-1zM43 18h1v1h-1zM39 19h1v1h-1zM43 19h1v1h-1zM39 20h2v1h-2zM42 20h2v1h-2zM40 21h3v1h-3zM1 30h2v1h-2zM4 31h1v1h-1zM5 35h1v1h-1zM4 36h2v1h-2zM23 36h1v1h-1zM3 37h2v1h-2zM23 37h1v1h-1zM23 38h2v1h-2zM32 41h1v1h-1zM35 42h8v1h-8zM27 43h1v1h-1zM42 43h2v1h-2zM26 45h1v1h-1zM25 46h1v1h-1zM24 47h1v1h-1zM23 48h1v1h-1zM22 49h2v1h-2zM22 50h1v1h-1z"/>
<path fill="#f1a685" d="M35 3h3v1h-3zM35 4h3v1h-3zM35 5h3v1h-3zM36 6h2v1h-2zM37 7h1v1h-1zM38 8h1v1h-1zM38 9h1v1h-1zM39 11h1v1h-1zM39 12h1v1h-1zM47 13h1v1h-1zM17 14h2v1h-2zM46 14h2v1h-2zM17 15h1v1h-1zM40 15h1v1h-1zM45 15h1v1h-1zM40 16h1v1h-1zM44 17h1v1h-1zM39 18h1v1h-1zM44 18h1v1h-1zM38 19h1v1h-1zM44 19h1v1h-1zM38 20h1v1h-1zM44 20h1v1h-1zM38 21h2v1h-2zM43 21h2v1h-2zM40 22h3v1h-3zM16 25h2v1h-2zM17 26h1v1h-1zM1 29h3v1h-3zM4 30h1v1h-1zM5 34h1v1h-1zM25 36h1v1h-1zM5 37h2v1h-2zM15 37h1v1h-1zM22 37h1v1h-1zM25 37h1v1h-1zM4 38h2v1h-2zM22 38h1v1h-1zM25 38h1v1h-1zM23 39h2v1h-2zM30 41h2v1h-2zM33 41h3v1h-3zM41 41h3v1h-3zM28 42h1v1h-1zM43 42h2v1h-2zM26 44h1v1h-1zM25 45h1v1h-1zM23 47h1v1h-1zM21 48h2v1h-2zM21 49h1v1h-1zM21 50h1v1h-1z"/>
<path fill="#ed9b7d" d="M33 2h3v1h-3zM32 3h3v1h-3zM32 4h3v1h-3zM33 5h2v1h-2zM34 6h2v1h-2zM35 7h2v1h-2zM37 8h1v1h-1zM38 10h1v1h-1zM16 13h3v1h-3zM39 13h1v1h-1zM15 14h2v1h-2zM48 14h1v1h-1zM16 15h1v1h-1zM18 15h1v1h-1zM46 15h2v1h-2zM45 16h1v1h-1zM39 17h1v1h-1zM45 17h1v1h-1zM38 18h1v1h-1zM45 18h1v1h-1zM37 19h1v1h-1zM45 19h1v1h-1zM37 20h1v1h-1zM45 20h1v1h-1zM37 21h1v1h-1zM45 21h1v1h-1zM38 22h2v1h-2zM43 22h2v1h-2zM40 23h4v1h-4zM16 24h3v1h-3zM18 25h1v1h-1zM16 26h1v1h-1zM18 26h1v1h-1zM1 28h3v1h-3zM5 32h1v1h-1zM5 33h1v1h-1zM23 35h2v1h-2zM6 36h1v1h-1zM14 36h2v1h-2zM22 36h1v1h-1zM14 37h1v1h-1zM16 37h1v1h-1zM6 38h1v1h-1zM15 38h2v1h-2zM21 38h1v1h-1zM5 39h3v1h-3zM16 39h1v1h-1zM22 39h1v1h-1zM25 39h1v1h-1zM44 39h2v1h-2zM5 40h2v1h-2zM23 40h1v1h-1zM32 40h3v1h-3zM42 40h5v1h-5zM28 41h2v1h-2zM36 41h5v1h-5zM44 41h2v1h-2zM27 42h1v1h-1zM26 43h1v1h-1zM25 44h1v1h-1zM24 45h1v1h-1zM23 46h2v1h-2zM17 47h6v1h-6zM17 48h4v1h-4zM17 49h4v1h-4zM19 50h2v1h-2z"/>
<path fill="#e99074" d="M19 1h5v1h-5zM25 1h8v1h-8zM18 2h6v1h-6zM25 2h8v1h-8zM18 3h5v1h-5zM27 3h5v1h-5zM30 4h2v1h-2zM30 5h3v1h-3zM31 6h3v1h-3zM30 7h5v1h-5zM30 8h7v1h-7zM30 9h2v1h-2zM37 9h1v1h-1zM38 11h1v1h-1zM15 12h3v1h-3zM15 13h1v1h-1zM19 14h1v1h-1zM39 14h1v1h-1zM15 15h1v1h-1zM19 15h1v1h-1zM39 15h1v1h-1zM48 15h1v1h-1zM16 16h3v1h-3zM39 16h1v1h-1zM46 16h4v1h-4zM46 17h4v1h-4zM46 18h4v1h-4zM46 19h2v1h-2zM36 20h1v1h-1zM46 20h2v1h-2zM36 21h1v1h-1zM46 21h2v1h-2zM36 22h2v1h-2zM45 22h2v1h-2zM16 23h2v1h-2zM37 23h3v1h-3zM44 23h3v1h-3zM15 24h1v1h-1zM40 24h5v1h-5zM15 25h1v1h-1zM19 25h1v1h-1zM15 26h1v1h-1zM1 27h2v1h-2zM16 27h2v1h-2zM4 29h1v1h-1zM5 30h1v1h-1zM5 31h1v1h-1zM14 35h2v1h-2zM25 35h1v1h-1zM47 35h2v1h-2zM16 36h1v1h-1zM26 36h1v1h-1zM46 36h3v1h-3zM17 37h1v1h-1zM21 37h1v1h-1zM26 37h1v1h-1zM45 37h4v1h-4zM7 38h1v1h-1zM14 38h1v1h-1zM17 38h2v1h-2zM20 38h1v1h-1zM26 38h1v1h-1zM44 38h4v1h-4zM14 39h2v1h-2zM17 39h5v1h-5zM26 39h1v1h-1zM33 39h2v1h-2zM42 39h2v1h-2zM46 39h1v1h-1zM7 40h2v1h-2zM15 40h8v1h-8zM24 40h8v1h-8zM35 40h7v1h-7zM6 41h4v1h-4zM15 41h4v1h-4zM21 41h4v1h-4zM26 41h2v1h-2zM7 42h4v1h-4zM25 42h2v1h-2zM8 43h5v1h-5zM25 43h1v1h-1zM9 44h7v1h-7zM24 44h1v1h-1zM10 45h8v1h-8zM23 45h1v1h-1zM11 46h12v1h-12zM13 47h4v1h-4zM14 48h3v1h-3zM16 49h1v1h-1z"/>
<path fill="#e5866c" d="M24 1h1v1h-1zM16 2h2v1h-2zM24 2h1v1h-1zM14 3h4v1h-4zM23 3h4v1h-4zM13 4h17v1h-17zM12 5h7v1h-7zM27 5h3v1h-3zM13 6h4v1h-4zM28 6h3v1h-3zM14 7h1v1h-1zM29 7h1v1h-1zM29 8h1v1h-1zM29 9h1v1h-1zM32 9h5v1h-5zM29 10h4v1h-4zM37 10h1v1h-1zM14 11h3v1h-3zM30 11h1v1h-1zM14 12h1v1h-1zM18 12h1v1h-1zM38 12h1v1h-1zM14 13h1v1h-1zM19 13h1v1h-1zM14 14h1v1h-1zM20 14h1v1h-1zM14 15h1v1h-1zM20 15h1v1h-1zM15 16h1v1h-1zM19 16h1v1h-1zM16 17h3v1h-3zM38 17h1v1h-1zM27 18h3v1h-3zM37 18h1v1h-1zM26 19h4v1h-4zM36 19h1v1h-1zM48 19h3v1h-3zM35 20h1v1h-1zM48 20h3v1h-3zM35 21h1v1h-1zM48 21h3v1h-3zM35 22h1v1h-1zM47 22h4v1h-4zM15 23h1v1h-1zM18 23h1v1h-1zM36 23h1v1h-1zM47 23h4v1h-4zM19 24h1v1h-1zM37 24h3v1h-3zM45 24h6v1h-6zM14 25h1v1h-1zM40 25h11v1h-11zM2 26h1v1h-1zM14 26h1v1h-1zM19 26h1v1h-1zM3 27h1v1h-1zM15 27h1v1h-1zM18 27h1v1h-1zM4 28h1v1h-1zM5 29h1v1h-1zM36 31h2v1h-2zM36 32h1v1h-1zM48 32h3v1h-3zM47 33h3v1h-3zM13 34h2v1h-2zM23 34h2v1h-2zM46 34h4v1h-4zM6 35h1v1h-1zM13 35h1v1h-1zM16 35h1v1h-1zM22 35h1v1h-1zM46 35h1v1h-1zM49 35h1v1h-1zM13 36h1v1h-1zM17 36h1v1h-1zM21 36h1v1h-1zM34 36h1v1h-1zM45 36h1v1h-1zM7 37h1v1h-1zM13 37h1v1h-1zM18 37h3v1h-3zM33 37h3v1h-3zM44 37h1v1h-1zM8 38h1v1h-1zM13 38h1v1h-1zM19 38h1v1h-1zM27 38h1v1h-1zM32 38h5v1h-5zM42 38h2v1h-2zM8 39h1v1h-1zM13 39h1v1h-1zM27 39h2v1h-2zM30 39h3v1h-3zM35 39h7v1h-7zM9 40h1v1h-1zM13 40h2v1h-2zM10 41h5v1h-5zM19 41h2v1h-2zM25 41h1v1h-1zM11 42h14v1h-14zM13 43h12v1h-12zM16 44h8v1h-8zM18 45h5v1h-5z"/>
<path fill="#e17b64" d="M11 5h1v1h-1zM19 5h8v1h-8zM10 6h3v1h-3zM17 6h2v1h-2zM26 6h2v1h-2zM11 7h3v1h-3zM15 7h2v1h-2zM27 7h2v1h-2zM12 8h5v1h-5zM27 8h2v1h-2zM13 9h4v1h-4zM28 9h1v1h-1zM13 10h4v1h-4zM28 10h1v1h-1zM33 10h1v1h-1zM36 10h1v1h-1zM13 11h1v1h-1zM17 11h1v1h-1zM28 11h2v1h-2zM31 11h2v1h-2zM13 12h1v1h-1zM19 12h1v1h-1zM28 12h4v1h-4zM13 13h1v1h-1zM20 13h1v1h-1zM28 13h4v1h-4zM13 14h1v1h-1zM27 14h5v1h-5zM13 15h1v1h-1zM26 15h6v1h-6zM14 16h1v1h-1zM20 16h1v1h-1zM25 16h7v1h-7zM38 16h1v1h-1zM15 17h1v1h-1zM19 17h1v1h-1zM25 17h8v1h-8zM37 17h1v1h-1zM17 18h1v1h-1zM25 18h2v1h-2zM30 18h3v1h-3zM36 18h1v1h-1zM25 19h1v1h-1zM30 19h6v1h-6zM25 20h10v1h-10zM27 21h1v1h-1zM33 21h2v1h-2zM15 22h4v1h-4zM34 22h1v1h-1zM14 23h1v1h-1zM19 23h1v1h-1zM34 23h2v1h-2zM14 24h1v1h-1zM20 24h1v1h-1zM35 24h2v1h-2zM20 25h1v1h-1zM35 25h5v1h-5zM1 26h1v1h-1zM3 26h1v1h-1zM20 26h1v1h-1zM36 26h15v1h-15zM4 27h1v1h-1zM14 27h1v1h-1zM19 27h1v1h-1zM36 27h3v1h-3zM46 27h5v1h-5zM5 28h1v1h-1zM14 28h4v1h-4zM36 28h3v1h-3zM47 28h4v1h-4zM35 29h4v1h-4zM47 29h4v1h-4zM6 30h1v1h-1zM11 30h2v1h-2zM34 30h5v1h-5zM47 30h4v1h-4zM6 31h8v1h-8zM34 31h2v1h-2zM38 31h1v1h-1zM47 31h4v1h-4zM6 32h1v1h-1zM9 32h5v1h-5zM34 32h2v1h-2zM37 32h2v1h-2zM46 32h2v1h-2zM6 33h1v1h-1zM9 33h6v1h-6zM23 33h1v1h-1zM34 33h4v1h-4zM46 33h1v1h-1zM6 34h1v1h-1zM10 34h3v1h-3zM15 34h1v1h-1zM22 34h1v1h-1zM25 34h1v1h-1zM34 34h4v1h-4zM45 34h1v1h-1zM7 35h1v1h-1zM11 35h2v1h-2zM17 35h1v1h-1zM21 35h1v1h-1zM26 35h1v1h-1zM33 35h5v1h-5zM45 35h1v1h-1zM7 36h1v1h-1zM12 36h1v1h-1zM18 36h3v1h-3zM33 36h1v1h-1zM35 36h3v1h-3zM44 36h1v1h-1zM8 37h1v1h-1zM12 37h1v1h-1zM27 37h1v1h-1zM32 37h1v1h-1zM36 37h4v1h-4zM41 37h3v1h-3zM9 38h1v1h-1zM12 38h1v1h-1zM28 38h1v1h-1zM31 38h1v1h-1zM37 38h5v1h-5zM9 39h1v1h-1zM12 39h1v1h-1zM29 39h1v1h-1zM10 40h3v1h-3z"/>
<path fill="#dd705b" d="M19 6h2v1h-2zM24 6h2v1h-2zM9 7h2v1h-2zM17 7h2v1h-2zM26 7h1v1h-1zM9 8h3v1h-3zM17 8h1v1h-1zM26 8h1v1h-1zM10 9h3v1h-3zM17 9h1v1h-1zM27 9h1v1h-1zM11 10h2v1h-2zM17 10h1v1h-1zM27 10h1v1h-1zM34 10h2v1h-2zM12 11h1v1h-1zM18 11h1v1h-1zM27 11h1v1h-1zM33 11h1v1h-1zM37 11h1v1h-1zM12 12h1v1h-1zM26 12h2v1h-2zM32 12h1v1h-1zM12 13h1v1h-1zM26 13h2v1h-2zM32 13h1v1h-1zM38 13h1v1h-1zM12 14h1v1h-1zM21 14h1v1h-1zM25 14h2v1h-2zM32 14h1v1h-1zM38 14h1v1h-1zM12 15h1v1h-1zM21 15h1v1h-1zM24 15h2v1h-2zM32 15h1v1h-1zM38 15h1v1h-1zM13 16h1v1h-1zM21 16h1v1h-1zM24 16h1v1h-1zM32 16h1v1h-1zM13 17h2v1h-2zM20 17h1v1h-1zM24 17h1v1h-1zM33 17h1v1h-1zM15 18h2v1h-2zM18 18h2v1h-2zM24 18h1v1h-1zM33 18h3v1h-3zM16 19h2v1h-2zM24 19h1v1h-1zM15 21h4v1h-4zM25 21h2v1h-2zM28 21h5v1h-5zM14 22h1v1h-1zM19 22h1v1h-1zM32 22h2v1h-2zM20 23h1v1h-1zM33 23h1v1h-1zM1 24h2v1h-2zM13 24h1v1h-1zM34 24h1v1h-1zM1 25h3v1h-3zM13 25h1v1h-1zM34 25h1v1h-1zM4 26h1v1h-1zM13 26h1v1h-1zM34 26h2v1h-2zM13 27h1v1h-1zM20 27h1v1h-1zM34 27h2v1h-2zM39 27h7v1h-7zM12 28h2v1h-2zM18 28h3v1h-3zM34 28h2v1h-2zM39 28h2v1h-2zM45 28h2v1h-2zM6 29h2v1h-2zM9 29h7v1h-7zM34 29h1v1h-1zM39 29h1v1h-1zM46 29h1v1h-1zM7 30h4v1h-4zM13 30h2v1h-2zM39 30h1v1h-1zM46 30h1v1h-1zM14 31h1v1h-1zM33 31h1v1h-1zM39 31h1v1h-1zM46 31h1v1h-1zM7 32h2v1h-2zM14 32h1v1h-1zM22 32h1v1h-1zM33 32h1v1h-1zM39 32h1v1h-1zM7 33h2v1h-2zM15 33h1v1h-1zM21 33h2v1h-2zM24 33h1v1h-1zM33 33h1v1h-1zM38 33h1v1h-1zM45 33h1v1h-1zM7 34h3v1h-3zM16 34h1v1h-1zM21 34h1v1h-1zM26 34h1v1h-1zM33 34h1v1h-1zM38 34h1v1h-1zM44 34h1v1h-1zM8 35h3v1h-3zM18 35h3v1h-3zM32 35h1v1h-1zM38 35h2v1h-2zM43 35h2v1h-2zM8 36h4v1h-4zM27 36h1v1h-1zM32 36h1v1h-1zM38 36h6v1h-6zM9 37h3v1h-3zM28 37h1v1h-1zM31 37h1v1h-1zM40 37h1v1h-1zM10 38h2v1h-2zM29 38h2v1h-2zM10 39h2v1h-2z"/>
<path fill="#da6452" d="M21 6h3v1h-3zM19 7h1v1h-1zM24 7h2v1h-2zM8 8h1v1h-1zM18 8h1v1h-1zM25 8h1v1h-1zM7 9h3v1h-3zM18 9h1v1h-1zM26 9h1v1h-1zM6 10h5v1h-5zM18 10h1v1h-1zM26 10h1v1h-1zM7 11h5v1h-5zM19 11h1v1h-1zM25 11h2v1h-2zM34 11h1v1h-1zM36 11h1v1h-1zM10 12h2v1h-2zM20 12h1v1h-1zM25 12h1v1h-1zM33 12h1v1h-1zM37 12h1v1h-1zM11 13h1v1h-1zM21 13h2v1h-2zM24 13h2v1h-2zM11 14h1v1h-1zM22 14h3v1h-3zM33 14h1v1h-1zM11 15h1v1h-1zM22 15h2v1h-2zM33 15h1v1h-1zM11 16h2v1h-2zM22 16h2v1h-2zM33 16h1v1h-1zM37 16h1v1h-1zM12 17h1v1h-1zM21 17h3v1h-3zM34 17h3v1h-3zM13 18h2v1h-2zM20 18h1v1h-1zM23 18h1v1h-1zM14 19h2v1h-2zM18 19h2v1h-2zM14 20h5v1h-5zM24 20h1v1h-1zM14 21h1v1h-1zM19 21h1v1h-1zM24 21h1v1h-1zM13 22h1v1h-1zM20 22h1v1h-1zM25 22h7v1h-7zM1 23h3v1h-3zM13 23h1v1h-1zM21 23h1v1h-1zM32 23h1v1h-1zM3 24h1v1h-1zM21 24h1v1h-1zM33 24h1v1h-1zM12 25h1v1h-1zM21 25h1v1h-1zM33 25h1v1h-1zM12 26h1v1h-1zM21 26h1v1h-1zM33 26h1v1h-1zM5 27h1v1h-1zM11 27h2v1h-2zM21 27h1v1h-1zM6 28h6v1h-6zM21 28h1v1h-1zM33 28h1v1h-1zM41 28h4v1h-4zM8 29h1v1h-1zM16 29h2v1h-2zM19 29h4v1h-4zM33 29h1v1h-1zM40 29h2v1h-2zM44 29h2v1h-2zM15 30h1v1h-1zM20 30h3v1h-3zM33 30h1v1h-1zM40 30h1v1h-1zM45 30h1v1h-1zM21 31h3v1h-3zM40 31h1v1h-1zM45 31h1v1h-1zM15 32h1v1h-1zM21 32h1v1h-1zM23 32h2v1h-2zM45 32h1v1h-1zM16 33h1v1h-1zM20 33h1v1h-1zM25 33h1v1h-1zM32 33h1v1h-1zM39 33h1v1h-1zM44 33h1v1h-1zM17 34h4v1h-4zM32 34h1v1h-1zM39 34h2v1h-2zM43 34h1v1h-1zM27 35h1v1h-1zM40 35h3v1h-3zM28 36h1v1h-1zM31 36h1v1h-1zM29 37h2v1h-2z"/>
<path fill="#d55a4c" d="M20 7h4v1h-4zM19 8h1v1h-1zM24 8h1v1h-1zM24 9h2v1h-2zM19 10h1v1h-1zM25 10h1v1h-1zM5 11h2v1h-2zM20 11h1v1h-1zM24 11h1v1h-1zM35 11h1v1h-1zM5 12h5v1h-5zM21 12h4v1h-4zM4 13h7v1h-7zM23 13h1v1h-1zM33 13h1v1h-1zM3 14h8v1h-8zM3 15h8v1h-8zM2 16h9v1h-9zM34 16h1v1h-1zM2 17h10v1h-10zM2 18h4v1h-4zM10 18h3v1h-3zM21 18h2v1h-2zM1 19h4v1h-4zM12 19h2v1h-2zM20 19h1v1h-1zM23 19h1v1h-1zM1 20h3v1h-3zM13 20h1v1h-1zM19 20h1v1h-1zM23 20h1v1h-1zM1 21h3v1h-3zM13 21h1v1h-1zM20 21h1v1h-1zM23 21h1v1h-1zM1 22h3v1h-3zM12 22h1v1h-1zM21 22h4v1h-4zM12 23h1v1h-1zM22 23h10v1h-10zM4 24h1v1h-1zM12 24h1v1h-1zM22 24h2v1h-2zM32 24h1v1h-1zM4 25h1v1h-1zM11 25h1v1h-1zM22 25h2v1h-2zM32 25h1v1h-1zM5 26h1v1h-1zM11 26h1v1h-1zM22 26h2v1h-2zM6 27h5v1h-5zM22 27h1v1h-1zM33 27h1v1h-1zM22 28h2v1h-2zM18 29h1v1h-1zM23 29h1v1h-1zM32 29h1v1h-1zM42 29h2v1h-2zM16 30h1v1h-1zM19 30h1v1h-1zM23 30h1v1h-1zM32 30h1v1h-1zM41 30h4v1h-4zM15 31h1v1h-1zM20 31h1v1h-1zM24 31h1v1h-1zM32 31h1v1h-1zM44 31h1v1h-1zM16 32h1v1h-1zM20 32h1v1h-1zM25 32h1v1h-1zM32 32h1v1h-1zM40 32h1v1h-1zM44 32h1v1h-1zM17 33h3v1h-3zM26 33h1v1h-1zM40 33h2v1h-2zM43 33h1v1h-1zM27 34h1v1h-1zM31 34h1v1h-1zM41 34h2v1h-2zM28 35h1v1h-1zM31 35h1v1h-1zM29 36h2v1h-2z"/>
<path fill="#d15047" d="M20 8h1v1h-1zM22 8h2v1h-2zM19 9h1v1h-1zM23 9h1v1h-1zM23 10h2v1h-2zM21 11h3v1h-3zM34 12h1v1h-1zM36 12h1v1h-1zM37 13h1v1h-1zM34 15h1v1h-1zM37 15h1v1h-1zM35 16h2v1h-2zM6 18h4v1h-4zM5 19h7v1h-7zM21 19h2v1h-2zM4 20h2v1h-2zM9 20h4v1h-4zM20 20h3v1h-3zM4 21h1v1h-1zM11 21h2v1h-2zM21 21h2v1h-2zM4 22h1v1h-1zM11 22h1v1h-1zM4 23h1v1h-1zM11 23h1v1h-1zM11 24h1v1h-1zM24 24h8v1h-8zM5 25h1v1h-1zM10 25h1v1h-1zM24 25h2v1h-2zM31 25h1v1h-1zM6 26h5v1h-5zM24 26h1v1h-1zM32 26h1v1h-1zM23 27h2v1h-2zM32 27h1v1h-1zM24 28h1v1h-1zM32 28h1v1h-1zM24 29h1v1h-1zM17 30h2v1h-2zM24 30h1v1h-1zM16 31h1v1h-1zM19 31h1v1h-1zM25 31h1v1h-1zM31 31h1v1h-1zM41 31h3v1h-3zM17 32h3v1h-3zM26 32h1v1h-1zM31 32h1v1h-1zM41 32h3v1h-3zM27 33h1v1h-1zM31 33h1v1h-1zM42 33h1v1h-1zM28 34h1v1h-1zM30 34h1v1h-1zM29 35h2v1h-2z"/>
<path fill="#cc4643" d="M21 8h1v1h-1zM20 9h1v1h-1zM22 9h1v1h-1zM20 10h3v1h-3zM35 12h1v1h-1zM34 13h1v1h-1zM34 14h1v1h-1zM37 14h1v1h-1zM35 15h1v1h-1zM6 20h3v1h-3zM5 21h6v1h-6zM5 22h2v1h-2zM8 22h3v1h-3zM5 23h1v1h-1zM9 23h2v1h-2zM5 24h2v1h-2zM9 24h2v1h-2zM6 25h4v1h-4zM26 25h3v1h-3zM30 25h1v1h-1zM25 26h2v1h-2zM31 26h1v1h-1zM25 27h1v1h-1zM31 27h1v1h-1zM25 28h1v1h-1zM31 28h1v1h-1zM25 29h1v1h-1zM31 29h1v1h-1zM25 30h1v1h-1zM31 30h1v1h-1zM17 31h2v1h-2zM26 31h1v1h-1zM27 32h1v1h-1zM30 32h1v1h-1zM28 33h3v1h-3zM29 34h1v1h-1z"/>
<path fill="#c83b3f" d="M21 9h1v1h-1zM35 13h1v1h-1zM36 15h1v1h-1zM7 22h1v1h-1zM6 23h3v1h-3zM7 24h2v1h-2zM29 25h1v1h-1zM27 26h4v1h-4zM26 27h5v1h-5zM26 28h2v1h-2zM29 28h2v1h-2zM26 29h1v1h-1zM30 29h1v1h-1zM26 30h1v1h-1zM30 30h1v1h-1zM27 31h4v1h-4zM28 32h2v1h-2z"/>
<path fill="#c42f3b" d="M36 13h1v1h-1zM35 14h2v1h-2zM28 28h1v1h-1zM27 29h3v1h-3zM27 30h3v1h-3z"/>
</g></g>
<path d="M687.7 744.7 680.3 728.4 674.3 724.7 666.3 720.8 662.3 719.5 658.3 719 654.3 719.9 652.3 721.1 650.3 723.1 647.9 726.7 643.1 738.7 643.9 744.7M704 744.7 691.6 722.7 670.3 713.8 664.3 712.1 660.3 711.7 656.3 711.9 652.3 713 648.3 715.1 644.3 718.8 640.4 724.7 633.5 738.7 633.4 744.7M726.9 744.7 705.3 714.7 702.3 713.8 694.3 712.9 686.3 711.4 668.3 705.2 660.3 704.4 654.3 705.1 648.3 706.9 644.3 709.1 640 712.7 635.4 718.7 628.3 731.5 622.7 738.7 621.8 740.7 621.7 744.7M699.8 462.7 689.4 482.7 698.3 496.5 701.5 502.7 704.1 510.7 706.5 524.7 710.8 534.7 711.9 538.7 712.1 544.7 710.4 550.7 700.5 566.7 700.6 570.7 703 574.7 708.3 578.2 716.3 580.1 720.3 580 724.3 579.2 730.3 576 733.3 572.7 735.3 568.7 736.6 562.7 737 550.7 737.7 546.7 739.1 542.7 742.3 537.1 744.3 535.1 766.3 522.6M572.3 597.8 570.3 598.7 569.6 600.7 570.2 602.7 572.3 603.7 574.9 602.7 575.6 600.7 574.3 598.3 572.3 597.8M612.3 662.5 610.3 663.6 607.7 666.7 606 670.7 605.5 674.7 606.3 677.7 608.3 680.2 610.3 681.2 614.3 681.6 618.3 680.1 620.3 678.3 622.2 674.7 622.4 670.7 621.2 666.7 618.3 663.4 616.3 662.4 612.3 662.5M484.3 682.4 504.3 671.1 505 668.7 501.5 654.7 499.1 640.7 497 634.7 494.3 629.7 490.3 624 488.3 623.6 484.3 624.2M766.3 736.1 724.3 696.7 710.3 699.9 694.3 701 686.3 700.1 672.3 696 664.3 695.3 652.3 696.9 646.3 698.3 640.3 701.1 636.3 703.9 629.9 710.7 622.3 723.3 619.5 726.7 612.3 732.6 602.3 738.7 601.3 744.7M525.2 462.7 545 490.7 547.4 492.7 556.3 498.1 558.3 498.5 560.3 497.9 566.4 490.7 570.3 487 573.6 484.7 578.3 482.5 582.3 481.2 594.3 479.2 606.3 476.2 616.3 475.7 622.3 476.7 627.6 478.7 632.3 481.9 634.8 484.7 637.7 490.7 640.3 504.7 642.3 511.4 644.3 515.1 648.3 518.7 652.3 519.5 656.3 518.3 668.3 508.9 674.3 506.1 678.3 505.6 682.3 506 688.3 508.4 693.4 512.7 697.4 518.7 701.8 530.7 702.7 538.7 701.4 544.7 698.3 549.8 692.3 555.5 680 564.7 678 566.7 675.8 570.7 675.6 574.7 676.6 578.7 679.4 584.7 683.3 590.7 688.3 595.8 694.3 598.6 702.3 599.7 712.3 602.2 720.3 603.5 750.6 604.7 756.6 606.7 762.3 612.3 766.3 612.6M558.3 508.4 556.3 511.3 554.3 515.8 551.1 528.7 551.1 536.7 553.2 542.7 556.1 546.7 560.3 550.4 564.3 552.8 568.3 554.2 572.3 554.8 576.3 554.5 580.3 553.4 584.3 551.6 590.2 546.7 592.5 542.7 593.2 536.7 591.2 530.7 588.2 526.7 584.3 523.2 566.3 510 562.3 507.6 560.3 507.2 558.3 508.4M632.3 549.9 630.3 551.2 628.3 553.6 626.3 557.9 625.1 564.7 625.2 566.7 626.3 569.4 628.3 570.7 630.3 571.1 636.8 570.7 646.3 568.3 649.7 566.7 651.9 564.7 652.9 562.7 653.2 560.7 652.3 557.6 650.2 554.7 646.3 552.2 640.3 550.1 636.3 549.3 632.3 549.9M568.3 582.3 564.3 583.8 562.3 585.1 558.8 588.7 556.6 592.7 555.3 596.7 554.5 602.7 554.7 606.7 555.7 610.7 556.9 612.7 559.1 614.7 564.3 616.5 574.3 616.5 582.3 614.7 585.8 612.7 587.8 610.7 589.8 606.7 590.4 600.7 589 594.7 585.1 588.7 580.3 584.8 574.3 582.3 568.3 582.3M766.3 633.3 758.3 632 757.2 634.7 746.3 650.9 740.3 661 736.3 666.1 732.3 669.9 726.3 674 720.3 676.7 714.3 678.4 708.3 679.3 700.3 679.1 692.3 676.8 686.6 672.7 684.3 668.7 683 662.7 682.9 656.7 692.3 646.3 695.8 640.7 697.1 636.7 696.6 632.7 694.3 628.8 692.3 627.2 690.3 626.6 688.3 626.8 684.3 629.1 682.3 631.5 680.6 634.7 679.8 640.7 681.2 654.7 680.2 656.7 670.3 665 668.3 668.1 665.3 674.7 662.3 677.9 656.3 681.5 650.3 683.2 646.3 683.6 642.3 683 638.3 680.6 636.3 677.7 631.6 666.7 628.2 660.7 622.5 654.7 616.3 651.6 610.3 650.9 606.3 652.1 603 654.7 596.5 662.7 592.3 666.5 588.3 668.8 584.3 669.4 580.3 668 571.8 660.7 564.3 655.9 550.3 650.1 546.3 649 544.3 649.1 543.1 650.7 542.8 652.7 543 658.7 543.7 664.7 547.1 678.7 547.1 686.7 546.3 689.6 544.3 692.6 542.3 693.8 538.3 694.2 532.3 691.8 526.3 686.1 522.3 680 514.9 666.7 507.1 654.7 506.2 652.7 506.1 650.7 508.6 636.7 508 632.7 505.3 626.7 488.3 605.1 484.3 605.1M591.6 494.7 596.3 493.5 602.3 493.6 608.3 495.7 612.3 499.1 614.4 502.7 615.4 508.7 613.9 514.7 610.3 518.9 606.3 520.5 600.3 519.6 592.3 515.5 587.1 510.7 585.9 508.7 584.7 504.7 585.2 500.7 588.1 496.7 591.6 494.7M677.5 520.7 682.3 518.9 686.3 519.4 688.3 520.3 692.3 523.7 695.2 528.7 696.2 534.7 695.4 538.7 692.3 543.5 688.3 546 684.3 546.9 680.3 546.1 678.1 544.7 675.2 540.7 673.5 534.7 673.1 528.7 674.3 524.5 677.5 520.7M507 556.7 512.3 554.8 518.3 555.7 526.3 560 538.3 563.9 542.3 566.7 543.6 568.7 544.1 570.7 543.7 574.7 539.3 592.7 537.2 598.7 534.9 602.7 532.3 605.6 528.3 608.4 524.3 610.1 520.3 610.8 516.3 610.6 512.3 609.4 508.3 607.4 504.3 604.3 500.9 600.7 498.3 596.7 496.3 592 495 586.7 494.6 580.7 495.2 574.7 496.2 570.7 498.3 565.8 500.3 562.7 504.3 558.5 507 556.7M595 564.7 598.3 563.3 600.3 563.2 602.3 563.9 604.3 565.8 605.7 568.7 606.2 572.7 605.3 576.7 604.3 578.2 602.3 579.2 600.3 579.1 596.3 577.1 593.9 574.7 592.3 571.6 592.2 568.7 593.1 566.7 595 564.7M640.2 590.7 646.3 590.3 650.3 590.7 656.3 593 658.5 594.7 661.6 598.7 663.4 602.7 664.5 608.7 664.6 614.7 663.8 620.7 660.8 636.7 658.3 646 652.3 660.2 650.3 662.9 648.3 664.4 646.3 664.7 643.5 662.7 634.1 650.7 619.7 638.7 616.1 634.7 612.9 628.7 610.6 618.7 610.4 610.7 611.1 604.7 612.3 600.1 614.4 596.7 616.3 595.3 620.3 594 640.2 590.7M571.2 628.7 574.3 627.8 578.3 627.8 581.3 628.7 584.3 630.9 586.3 634.7 586.5 638.7 584.8 642.7 582.7 644.7 580.3 645.7 576.3 645.6 572.3 644 568.5 640.7 567.4 638.7 566.7 634.7 568.5 630.7 571.2 628.7M722.2 632.7 726.3 632.4 728.3 633.3 730.3 635.9 731 638.7 730.4 642.7 728.3 646.2 726.3 647.9 722.3 649 720.3 648.5 718.3 646.8 716.9 642.7 716.9 640.7 718.1 636.7 720.3 633.9 722.2 632.7" fill="none" stroke="#1a1a1a" stroke-width="0.55" stroke-opacity="0.85" stroke-linejoin="round"/>
</g>
<g fill="none" stroke="#231f20" stroke-linejoin="round" stroke-linecap="round">
<path stroke-width="1.5" d="M649.4 467.8 624.8 446.2 600.2 467.8M489.1 588 485.6 582 483.4 581.8 480.1 582.8 476.9 588 477.4 604.7 475.5 628.6 479.6 639 485.6 641 491.3 635.9M760.5 588 764 582 766.2 581.8 769.5 582.8 772.7 588 772.2 604.7 774.1 628.6 770 639 764 641 758.3 635.9"/>
<circle cx="624.8" cy="603.2" r="136.5" stroke-width="1.8"/>
</g>
<g fill="#231f20">
<circle cx="593.7" cy="480.3" r="3.8"/>
<circle cx="655.5" cy="480.3" r="3.8"/>
<circle cx="565.3" cy="496.7" r="3.8"/>
<circle cx="683.9" cy="496.7" r="3.8"/>
<circle cx="593.5" cy="505.3" r="3.8"/>
<circle cx="655.7" cy="505.3" r="3.8"/>
<circle cx="541.5" cy="524.5" r="3.8"/>
<circle cx="707.7" cy="524.5" r="3.8"/>
<circle cx="561.1" cy="532.3" r="3.8"/>
<circle cx="688.1" cy="532.3" r="3.8"/>
<circle cx="581.6" cy="536.5" r="3.8"/>
<circle cx="667.6" cy="536.5" r="3.8"/>
<circle cx="603" cy="538" r="3.8"/>
<circle cx="646.2" cy="538" r="3.8"/>
<circle cx="624.6" cy="538.7" r="3.8"/>
<circle cx="501.8" cy="549.5" r="3.8"/>
<circle cx="747.4" cy="549.5" r="3.8"/>
<circle cx="526.1" cy="560.8" r="3.8"/>
<circle cx="723.1" cy="560.8" r="3.8"/>
<circle cx="550.3" cy="565.7" r="3.8"/>
<circle cx="698.9" cy="565.7" r="3.8"/>
<circle cx="575" cy="568.7" r="3.8"/>
<circle cx="674.2" cy="568.7" r="3.8"/>
<circle cx="599.7" cy="569.6" r="3.8"/>
<circle cx="649.5" cy="569.6" r="3.8"/>
<circle cx="624.6" cy="570.1" r="3.8"/>
<circle cx="521" cy="601.2" r="3.8"/>
<circle cx="728.2" cy="601.2" r="3.8"/>
<circle cx="546.9" cy="601.2" r="3.8"/>
<circle cx="702.3" cy="601.2" r="3.8"/>
<circle cx="572.8" cy="601.2" r="3.8"/>
<circle cx="676.4" cy="601.2" r="3.8"/>
<circle cx="598.7" cy="601.2" r="3.8"/>
<circle cx="650.5" cy="601.2" r="3.8"/>
<circle cx="624.6" cy="601.2" r="3.8"/>
<circle cx="501.8" cy="652.9" r="3.8"/>
<circle cx="747.4" cy="652.9" r="3.8"/>
<circle cx="526.1" cy="641.6" r="3.8"/>
<circle cx="723.1" cy="641.6" r="3.8"/>
<circle cx="550.3" cy="636.7" r="3.8"/>
<circle cx="698.9" cy="636.7" r="3.8"/>
<circle cx="575" cy="633.7" r="3.8"/>
<circle cx="674.2" cy="633.7" r="3.8"/>
<circle cx="599.7" cy="632.8" r="3.8"/>
<circle cx="649.5" cy="632.8" r="3.8"/>
<circle cx="624.6" cy="632.3" r="3.8"/>
<circle cx="541.5" cy="677.9" r="3.8"/>
<circle cx="707.7" cy="677.9" r="3.8"/>
<circle cx="561.1" cy="670.1" r="3.8"/>
<circle cx="688.1" cy="670.1" r="3.8"/>
<circle cx="581.6" cy="665.9" r="3.8"/>
<circle cx="667.6" cy="665.9" r="3.8"/>
<circle cx="603" cy="664.4" r="3.8"/>
<circle cx="646.2" cy="664.4" r="3.8"/>
<circle cx="624.6" cy="663.7" r="3.8"/>
<circle cx="565.3" cy="705.7" r="3.8"/>
<circle cx="683.9" cy="705.7" r="3.8"/>
<circle cx="593.5" cy="697.1" r="3.8"/>
<circle cx="655.7" cy="697.1" r="3.8"/>
<circle cx="624.6" cy="695" r="3.8"/>
<circle cx="593.7" cy="722.1" r="3.8"/>
<circle cx="624.6" cy="726.4" r="3.8"/>
<circle cx="655.5" cy="722.1" r="1.25"/>
</g>
<!-- head f -->
<g clip-path="url(#clf)">
<circle cx="1048" cy="602.5" r="136.5" fill="#e99174"/>
<g filter="url(#bl)"><g transform="translate(892 446.5) scale(6)" shape-rendering="crispEdges">
<path fill="#e9f0f3" d="M26 49h3v1h-3zM26 50h3v1h-3z"/>
<path fill="#eef2f4" d="M23 48h8v1h-8zM23 49h3v1h-3zM29 49h2v1h-2zM22 50h4v1h-4zM29 50h2v1h-2z"/>
<path fill="#f4f5f5" d="M24 47h7v1h-7zM21 48h2v1h-2zM31 48h1v1h-1zM21 49h2v1h-2zM31 49h1v1h-1zM21 50h1v1h-1zM31 50h2v1h-2z"/>
<path fill="#f7f4f1" d="M26 46h4v1h-4zM21 47h3v1h-3zM31 47h2v1h-2zM20 48h1v1h-1zM32 48h1v1h-1zM19 49h2v1h-2zM32 49h1v1h-1zM19 50h2v1h-2z"/>
<path fill="#f8f0ea" d="M21 46h5v1h-5zM30 46h2v1h-2zM19 47h2v1h-2zM33 47h1v1h-1zM19 48h1v1h-1zM33 48h1v1h-1zM18 49h1v1h-1zM33 49h1v1h-1z"/>
<path fill="#f9ece3" d="M24 45h7v1h-7zM19 46h2v1h-2zM32 46h1v1h-1zM18 47h1v1h-1zM18 48h1v1h-1zM34 48h1v1h-1zM17 49h1v1h-1zM34 49h1v1h-1z"/>
<path fill="#fae7db" d="M15 37h1v1h-1zM20 45h4v1h-4zM31 45h1v1h-1zM18 46h1v1h-1zM33 46h1v1h-1zM17 47h1v1h-1zM34 47h1v1h-1zM17 48h1v1h-1zM35 48h1v1h-1zM16 49h1v1h-1zM35 49h1v1h-1z"/>
<path fill="#fae3d4" d="M14 36h2v1h-2zM14 37h1v1h-1zM15 38h1v1h-1zM22 44h9v1h-9zM18 45h2v1h-2zM32 45h1v1h-1zM16 46h2v1h-2zM34 46h1v1h-1zM16 47h1v1h-1zM35 47h1v1h-1zM15 48h2v1h-2zM36 48h1v1h-1z"/>
<path fill="#fbdecd" d="M16 37h1v1h-1zM14 38h1v1h-1zM16 38h1v1h-1zM14 39h3v1h-3zM19 44h3v1h-3zM31 44h1v1h-1zM17 45h1v1h-1zM33 45h2v1h-2zM15 46h1v1h-1zM35 46h2v1h-2zM15 47h1v1h-1zM36 47h1v1h-1zM14 48h1v1h-1zM37 48h1v1h-1z"/>
<path fill="#fbd8c5" d="M13 4h1v1h-1zM11 5h3v1h-3zM40 5h1v1h-1zM10 6h5v1h-5zM39 6h3v1h-3zM11 7h3v1h-3zM39 7h4v1h-4zM11 8h1v1h-1zM40 8h4v1h-4zM40 9h4v1h-4zM41 10h1v1h-1zM14 35h2v1h-2zM13 36h1v1h-1zM16 36h1v1h-1zM13 37h1v1h-1zM17 37h1v1h-1zM13 38h1v1h-1zM17 38h1v1h-1zM17 39h1v1h-1zM14 40h3v1h-3zM21 43h9v1h-9zM16 44h3v1h-3zM32 44h2v1h-2zM14 45h3v1h-3zM35 45h1v1h-1zM14 46h1v1h-1zM37 46h1v1h-1zM13 47h2v1h-2zM37 47h1v1h-1z"/>
<path fill="#f9d0ba" d="M14 3h1v1h-1zM14 4h2v1h-2zM38 4h1v1h-1zM14 5h2v1h-2zM37 5h3v1h-3zM37 6h2v1h-2zM9 7h2v1h-2zM14 7h1v1h-1zM38 7h1v1h-1zM10 8h1v1h-1zM12 8h2v1h-2zM39 8h1v1h-1zM39 9h1v1h-1zM44 9h1v1h-1zM40 10h1v1h-1zM42 10h2v1h-2zM41 11h1v1h-1zM13 35h1v1h-1zM13 39h1v1h-1zM13 40h1v1h-1zM17 40h1v1h-1zM14 41h4v1h-4zM14 42h4v1h-4zM23 42h4v1h-4zM14 43h7v1h-7zM30 43h2v1h-2zM13 44h3v1h-3zM34 44h1v1h-1zM12 45h2v1h-2zM36 45h2v1h-2zM11 46h3v1h-3zM38 46h1v1h-1zM38 47h1v1h-1z"/>
<path fill="#f8c8af" d="M15 3h1v1h-1zM36 3h2v1h-2zM16 4h1v1h-1zM35 4h3v1h-3zM16 5h1v1h-1zM35 5h2v1h-2zM15 6h1v1h-1zM36 6h1v1h-1zM15 7h1v1h-1zM37 7h1v1h-1zM8 8h2v1h-2zM14 8h1v1h-1zM38 8h1v1h-1zM9 9h4v1h-4zM38 9h1v1h-1zM39 10h1v1h-1zM44 10h1v1h-1zM40 11h1v1h-1zM42 11h1v1h-1zM41 12h1v1h-1zM30 14h2v1h-2zM30 15h2v1h-2zM30 16h2v1h-2zM13 34h2v1h-2zM12 35h1v1h-1zM16 35h1v1h-1zM12 36h1v1h-1zM17 36h1v1h-1zM12 37h1v1h-1zM18 37h1v1h-1zM12 38h1v1h-1zM18 38h1v1h-1zM12 39h1v1h-1zM18 39h1v1h-1zM12 40h1v1h-1zM18 40h1v1h-1zM12 41h2v1h-2zM18 41h2v1h-2zM24 41h1v1h-1zM12 42h2v1h-2zM18 42h5v1h-5zM27 42h3v1h-3zM11 43h3v1h-3zM32 43h2v1h-2zM10 44h3v1h-3zM35 44h3v1h-3zM10 45h2v1h-2zM38 45h2v1h-2zM39 46h1v1h-1z"/>
<path fill="#f7c0a4" d="M16 2h1v1h-1zM34 2h2v1h-2zM16 3h2v1h-2zM33 3h3v1h-3zM17 4h1v1h-1zM33 4h2v1h-2zM34 5h1v1h-1zM16 6h1v1h-1zM35 6h1v1h-1zM36 7h1v1h-1zM15 8h1v1h-1zM37 8h1v1h-1zM8 9h1v1h-1zM13 9h2v1h-2zM9 10h4v1h-4zM45 10h1v1h-1zM39 11h1v1h-1zM43 11h1v1h-1zM40 12h1v1h-1zM42 12h1v1h-1zM30 13h2v1h-2zM29 14h1v1h-1zM32 14h1v1h-1zM29 15h1v1h-1zM32 15h1v1h-1zM29 16h1v1h-1zM32 16h1v1h-1zM30 17h2v1h-2zM13 33h1v1h-1zM12 34h1v1h-1zM15 34h1v1h-1zM17 35h1v1h-1zM11 36h1v1h-1zM18 36h1v1h-1zM11 37h1v1h-1zM19 38h1v1h-1zM19 39h1v1h-1zM11 40h1v1h-1zM19 40h2v1h-2zM23 40h2v1h-2zM11 41h1v1h-1zM20 41h4v1h-4zM25 41h3v1h-3zM10 42h2v1h-2zM30 42h3v1h-3zM9 43h2v1h-2zM34 43h2v1h-2zM9 44h1v1h-1zM38 44h3v1h-3zM40 45h2v1h-2zM40 46h1v1h-1z"/>
<path fill="#f5b79a" d="M31 1h2v1h-2zM17 2h2v1h-2zM31 2h3v1h-3zM18 3h1v1h-1zM31 3h2v1h-2zM18 4h1v1h-1zM32 4h1v1h-1zM17 5h1v1h-1zM32 5h2v1h-2zM33 6h2v1h-2zM16 7h1v1h-1zM34 7h2v1h-2zM35 8h2v1h-2zM7 9h1v1h-1zM37 9h1v1h-1zM7 10h2v1h-2zM13 10h1v1h-1zM38 10h1v1h-1zM8 11h3v1h-3zM44 11h1v1h-1zM30 12h2v1h-2zM39 12h1v1h-1zM43 12h1v1h-1zM29 13h1v1h-1zM32 13h1v1h-1zM40 13h3v1h-3zM28 15h1v1h-1zM28 16h1v1h-1zM29 17h1v1h-1zM32 17h1v1h-1zM36 32h1v1h-1zM12 33h1v1h-1zM14 33h1v1h-1zM11 34h1v1h-1zM16 34h1v1h-1zM11 35h1v1h-1zM24 35h2v1h-2zM24 36h2v1h-2zM10 37h1v1h-1zM19 37h1v1h-1zM23 37h3v1h-3zM10 38h2v1h-2zM20 38h5v1h-5zM10 39h2v1h-2zM20 39h6v1h-6zM9 40h2v1h-2zM21 40h2v1h-2zM25 40h2v1h-2zM8 41h3v1h-3zM28 41h2v1h-2zM7 42h3v1h-3zM33 42h3v1h-3zM41 42h1v1h-1zM8 43h1v1h-1zM36 43h7v1h-7zM41 44h2v1h-2z"/>
<path fill="#f3ae90" d="M19 1h2v1h-2zM28 1h3v1h-3zM19 2h2v1h-2zM28 2h3v1h-3zM19 3h2v1h-2zM28 3h3v1h-3zM19 4h1v1h-1zM30 4h2v1h-2zM18 5h1v1h-1zM31 5h1v1h-1zM17 6h1v1h-1zM32 6h1v1h-1zM32 7h2v1h-2zM16 8h1v1h-1zM33 8h2v1h-2zM15 9h1v1h-1zM35 9h2v1h-2zM6 10h1v1h-1zM14 10h1v1h-1zM37 10h1v1h-1zM7 11h1v1h-1zM11 11h3v1h-3zM30 11h3v1h-3zM38 11h1v1h-1zM45 11h1v1h-1zM29 12h1v1h-1zM32 12h1v1h-1zM44 12h1v1h-1zM28 13h1v1h-1zM43 13h1v1h-1zM28 14h1v1h-1zM33 14h1v1h-1zM41 14h2v1h-2zM33 15h1v1h-1zM33 16h1v1h-1zM28 17h1v1h-1zM29 18h3v1h-3zM24 29h2v1h-2zM24 30h2v1h-2zM35 30h3v1h-3zM24 31h2v1h-2zM35 31h3v1h-3zM12 32h3v1h-3zM24 32h2v1h-2zM34 32h2v1h-2zM37 32h1v1h-1zM11 33h1v1h-1zM15 33h1v1h-1zM23 33h3v1h-3zM34 33h4v1h-4zM23 34h3v1h-3zM34 34h4v1h-4zM10 35h1v1h-1zM18 35h1v1h-1zM23 35h1v1h-1zM34 35h3v1h-3zM9 36h2v1h-2zM19 36h2v1h-2zM22 36h2v1h-2zM34 36h3v1h-3zM8 37h2v1h-2zM20 37h3v1h-3zM34 37h2v1h-2zM6 38h4v1h-4zM25 38h1v1h-1zM35 38h1v1h-1zM5 39h5v1h-5zM26 39h1v1h-1zM5 40h4v1h-4zM27 40h1v1h-1zM34 40h2v1h-2zM6 41h2v1h-2zM30 41h14v1h-14zM36 42h5v1h-5zM42 42h3v1h-3zM43 43h1v1h-1z"/>
<path fill="#f1a685" d="M21 1h7v1h-7zM21 2h7v1h-7zM21 3h7v1h-7zM20 4h1v1h-1zM28 4h2v1h-2zM19 5h1v1h-1zM29 5h2v1h-2zM18 6h1v1h-1zM30 6h2v1h-2zM17 7h1v1h-1zM31 7h1v1h-1zM31 8h2v1h-2zM16 9h1v1h-1zM30 9h5v1h-5zM15 10h1v1h-1zM30 10h7v1h-7zM6 11h1v1h-1zM14 11h1v1h-1zM29 11h1v1h-1zM33 11h1v1h-1zM46 11h1v1h-1zM7 12h6v1h-6zM28 12h1v1h-1zM33 12h1v1h-1zM33 13h1v1h-1zM39 13h1v1h-1zM40 14h1v1h-1zM27 15h1v1h-1zM41 15h2v1h-2zM27 16h1v1h-1zM41 16h1v1h-1zM27 17h1v1h-1zM33 17h1v1h-1zM41 17h2v1h-2zM28 18h1v1h-1zM32 18h1v1h-1zM41 18h2v1h-2zM28 19h3v1h-3zM41 19h1v1h-1zM25 26h1v1h-1zM23 27h4v1h-4zM23 28h4v1h-4zM36 28h2v1h-2zM23 29h1v1h-1zM26 29h1v1h-1zM35 29h3v1h-3zM23 30h1v1h-1zM26 30h1v1h-1zM34 30h1v1h-1zM38 30h1v1h-1zM12 31h2v1h-2zM23 31h1v1h-1zM26 31h1v1h-1zM34 31h1v1h-1zM38 31h1v1h-1zM11 32h1v1h-1zM23 32h1v1h-1zM26 32h1v1h-1zM38 32h1v1h-1zM22 33h1v1h-1zM38 33h1v1h-1zM10 34h1v1h-1zM17 34h1v1h-1zM22 34h1v1h-1zM26 34h1v1h-1zM33 34h1v1h-1zM38 34h1v1h-1zM8 35h2v1h-2zM19 35h4v1h-4zM26 35h1v1h-1zM33 35h1v1h-1zM37 35h2v1h-2zM4 36h5v1h-5zM21 36h1v1h-1zM26 36h1v1h-1zM33 36h1v1h-1zM37 36h2v1h-2zM3 37h5v1h-5zM26 37h1v1h-1zM33 37h1v1h-1zM36 37h3v1h-3zM4 38h2v1h-2zM26 38h1v1h-1zM33 38h2v1h-2zM36 38h3v1h-3zM27 39h1v1h-1zM33 39h8v1h-8zM28 40h6v1h-6zM36 40h9v1h-9zM44 41h2v1h-2z"/>
<path fill="#ed9b7d" d="M21 4h2v1h-2zM25 4h3v1h-3zM20 5h1v1h-1zM28 5h1v1h-1zM29 6h1v1h-1zM29 7h2v1h-2zM17 8h1v1h-1zM29 8h2v1h-2zM29 9h1v1h-1zM16 10h1v1h-1zM28 10h2v1h-2zM5 11h1v1h-1zM15 11h1v1h-1zM28 11h1v1h-1zM34 11h1v1h-1zM37 11h1v1h-1zM5 12h2v1h-2zM13 12h2v1h-2zM27 12h1v1h-1zM38 12h1v1h-1zM45 12h1v1h-1zM7 13h4v1h-4zM27 13h1v1h-1zM44 13h1v1h-1zM27 14h1v1h-1zM39 14h1v1h-1zM43 14h1v1h-1zM40 15h1v1h-1zM34 16h1v1h-1zM40 16h1v1h-1zM42 16h1v1h-1zM40 17h1v1h-1zM27 18h1v1h-1zM33 18h1v1h-1zM40 18h1v1h-1zM27 19h1v1h-1zM31 19h2v1h-2zM40 19h1v1h-1zM42 19h1v1h-1zM27 20h2v1h-2zM40 20h2v1h-2zM25 25h2v1h-2zM23 26h2v1h-2zM26 26h2v1h-2zM36 26h3v1h-3zM22 27h1v1h-1zM27 27h1v1h-1zM35 27h4v1h-4zM22 28h1v1h-1zM27 28h1v1h-1zM34 28h2v1h-2zM38 28h1v1h-1zM22 29h1v1h-1zM27 29h1v1h-1zM34 29h1v1h-1zM38 29h1v1h-1zM12 30h2v1h-2zM22 30h1v1h-1zM33 30h1v1h-1zM11 31h1v1h-1zM14 31h1v1h-1zM22 31h1v1h-1zM33 31h1v1h-1zM15 32h1v1h-1zM22 32h1v1h-1zM33 32h1v1h-1zM10 33h1v1h-1zM16 33h1v1h-1zM21 33h1v1h-1zM26 33h1v1h-1zM33 33h1v1h-1zM5 34h1v1h-1zM8 34h2v1h-2zM18 34h4v1h-4zM3 35h5v1h-5zM3 36h1v1h-1zM32 36h1v1h-1zM39 36h1v1h-1zM32 37h1v1h-1zM39 37h2v1h-2zM27 38h1v1h-1zM32 38h1v1h-1zM39 38h7v1h-7zM28 39h1v1h-1zM31 39h2v1h-2zM41 39h6v1h-6zM45 40h2v1h-2z"/>
<path fill="#e99074" d="M23 4h2v1h-2zM21 5h1v1h-1zM26 5h2v1h-2zM19 6h1v1h-1zM27 6h2v1h-2zM18 7h1v1h-1zM28 7h1v1h-1zM28 8h1v1h-1zM17 9h1v1h-1zM28 9h1v1h-1zM27 10h1v1h-1zM16 11h1v1h-1zM27 11h1v1h-1zM35 11h2v1h-2zM15 12h2v1h-2zM34 12h1v1h-1zM46 12h1v1h-1zM5 13h2v1h-2zM11 13h4v1h-4zM26 13h1v1h-1zM34 13h1v1h-1zM38 13h1v1h-1zM26 14h1v1h-1zM34 14h1v1h-1zM44 14h1v1h-1zM26 15h1v1h-1zM34 15h1v1h-1zM39 15h1v1h-1zM43 15h1v1h-1zM26 16h1v1h-1zM39 16h1v1h-1zM43 16h1v1h-1zM26 17h1v1h-1zM34 17h1v1h-1zM39 17h1v1h-1zM43 17h1v1h-1zM26 18h1v1h-1zM34 18h1v1h-1zM39 18h1v1h-1zM43 18h1v1h-1zM26 19h1v1h-1zM33 19h1v1h-1zM39 19h1v1h-1zM26 20h1v1h-1zM29 20h4v1h-4zM39 20h1v1h-1zM42 20h1v1h-1zM26 21h4v1h-4zM39 21h3v1h-3zM27 22h2v1h-2zM39 22h1v1h-1zM26 23h3v1h-3zM37 23h2v1h-2zM25 24h4v1h-4zM36 24h4v1h-4zM23 25h2v1h-2zM27 25h2v1h-2zM36 25h4v1h-4zM21 26h2v1h-2zM28 26h1v1h-1zM35 26h1v1h-1zM39 26h1v1h-1zM21 27h1v1h-1zM28 27h1v1h-1zM34 27h1v1h-1zM39 27h1v1h-1zM21 28h1v1h-1zM33 28h1v1h-1zM39 28h1v1h-1zM12 29h2v1h-2zM21 29h1v1h-1zM33 29h1v1h-1zM39 29h1v1h-1zM11 30h1v1h-1zM14 30h1v1h-1zM21 30h1v1h-1zM27 30h1v1h-1zM39 30h1v1h-1zM21 31h1v1h-1zM27 31h1v1h-1zM39 31h1v1h-1zM10 32h1v1h-1zM21 32h1v1h-1zM27 32h1v1h-1zM32 32h1v1h-1zM39 32h1v1h-1zM9 33h1v1h-1zM17 33h1v1h-1zM20 33h1v1h-1zM27 33h1v1h-1zM32 33h1v1h-1zM39 33h1v1h-1zM3 34h2v1h-2zM6 34h2v1h-2zM27 34h1v1h-1zM32 34h1v1h-1zM39 34h1v1h-1zM2 35h1v1h-1zM27 35h1v1h-1zM32 35h1v1h-1zM39 35h1v1h-1zM27 36h1v1h-1zM40 36h1v1h-1zM27 37h1v1h-1zM41 37h6v1h-6zM28 38h1v1h-1zM31 38h1v1h-1zM46 38h2v1h-2zM29 39h2v1h-2z"/>
<path fill="#e5866c" d="M22 5h4v1h-4zM20 6h1v1h-1zM26 6h1v1h-1zM26 7h2v1h-2zM18 8h1v1h-1zM27 8h1v1h-1zM27 9h1v1h-1zM17 10h1v1h-1zM17 11h1v1h-1zM26 11h1v1h-1zM17 12h1v1h-1zM26 12h1v1h-1zM35 12h1v1h-1zM37 12h1v1h-1zM4 13h1v1h-1zM15 13h2v1h-2zM45 13h1v1h-1zM5 14h8v1h-8zM38 14h1v1h-1zM35 17h1v1h-1zM38 17h1v1h-1zM35 18h1v1h-1zM38 18h1v1h-1zM34 19h1v1h-1zM38 19h1v1h-1zM43 19h1v1h-1zM33 20h1v1h-1zM38 20h1v1h-1zM30 21h3v1h-3zM37 21h2v1h-2zM42 21h1v1h-1zM26 22h1v1h-1zM29 22h2v1h-2zM36 22h3v1h-3zM40 22h2v1h-2zM25 23h1v1h-1zM29 23h1v1h-1zM35 23h2v1h-2zM39 23h2v1h-2zM24 24h1v1h-1zM29 24h1v1h-1zM35 24h1v1h-1zM40 24h1v1h-1zM16 25h2v1h-2zM22 25h1v1h-1zM29 25h1v1h-1zM34 25h2v1h-2zM14 26h7v1h-7zM29 26h1v1h-1zM33 26h2v1h-2zM13 27h3v1h-3zM20 27h1v1h-1zM29 27h1v1h-1zM33 27h1v1h-1zM12 28h3v1h-3zM20 28h1v1h-1zM28 28h1v1h-1zM32 28h1v1h-1zM11 29h1v1h-1zM14 29h1v1h-1zM28 29h1v1h-1zM32 29h1v1h-1zM28 30h1v1h-1zM32 30h1v1h-1zM10 31h1v1h-1zM15 31h1v1h-1zM28 31h1v1h-1zM32 31h1v1h-1zM9 32h1v1h-1zM16 32h1v1h-1zM20 32h1v1h-1zM3 33h6v1h-6zM18 33h2v1h-2zM2 34h1v1h-1zM40 34h1v1h-1zM40 35h1v1h-1zM31 36h1v1h-1zM41 36h8v1h-8zM31 37h1v1h-1zM47 37h2v1h-2zM29 38h2v1h-2z"/>
<path fill="#e17b64" d="M21 6h5v1h-5zM19 7h1v1h-1zM25 7h1v1h-1zM26 8h1v1h-1zM18 9h1v1h-1zM26 9h1v1h-1zM26 10h1v1h-1zM25 11h1v1h-1zM18 12h1v1h-1zM25 12h1v1h-1zM36 12h1v1h-1zM17 13h2v1h-2zM24 13h2v1h-2zM35 13h1v1h-1zM46 13h1v1h-1zM4 14h1v1h-1zM13 14h6v1h-6zM22 14h4v1h-4zM6 15h5v1h-5zM25 15h1v1h-1zM35 15h1v1h-1zM38 15h1v1h-1zM44 15h1v1h-1zM25 16h1v1h-1zM35 16h1v1h-1zM38 16h1v1h-1zM44 16h1v1h-1zM36 17h2v1h-2zM36 18h2v1h-2zM35 19h3v1h-3zM34 20h4v1h-4zM43 20h1v1h-1zM33 21h4v1h-4zM25 22h1v1h-1zM31 22h5v1h-5zM30 23h5v1h-5zM41 23h1v1h-1zM16 24h2v1h-2zM30 24h5v1h-5zM14 25h2v1h-2zM18 25h4v1h-4zM30 25h4v1h-4zM40 25h1v1h-1zM13 26h1v1h-1zM30 26h3v1h-3zM40 26h1v1h-1zM12 27h1v1h-1zM16 27h4v1h-4zM30 27h3v1h-3zM40 27h1v1h-1zM11 28h1v1h-1zM15 28h1v1h-1zM19 28h1v1h-1zM29 28h3v1h-3zM40 28h1v1h-1zM15 29h1v1h-1zM20 29h1v1h-1zM29 29h3v1h-3zM40 29h1v1h-1zM10 30h1v1h-1zM15 30h1v1h-1zM20 30h1v1h-1zM29 30h1v1h-1zM31 30h1v1h-1zM40 30h1v1h-1zM9 31h1v1h-1zM20 31h1v1h-1zM31 31h1v1h-1zM40 31h1v1h-1zM4 32h5v1h-5zM19 32h1v1h-1zM28 32h1v1h-1zM31 32h1v1h-1zM40 32h1v1h-1zM2 33h1v1h-1zM28 33h1v1h-1zM31 33h1v1h-1zM40 33h1v1h-1zM28 34h1v1h-1zM31 34h1v1h-1zM31 35h1v1h-1zM41 35h8v1h-8zM28 37h1v1h-1zM30 37h1v1h-1z"/>
<path fill="#dd705b" d="M20 7h1v1h-1zM24 7h1v1h-1zM19 8h1v1h-1zM25 8h1v1h-1zM25 9h1v1h-1zM18 10h1v1h-1zM25 10h1v1h-1zM18 11h1v1h-1zM24 11h1v1h-1zM19 12h1v1h-1zM23 12h2v1h-2zM19 13h5v1h-5zM37 13h1v1h-1zM47 13h1v1h-1zM3 14h1v1h-1zM19 14h3v1h-3zM35 14h1v1h-1zM45 14h1v1h-1zM4 15h2v1h-2zM11 15h8v1h-8zM22 15h3v1h-3zM37 15h1v1h-1zM6 16h4v1h-4zM36 16h2v1h-2zM25 17h1v1h-1zM44 17h1v1h-1zM25 18h1v1h-1zM44 18h1v1h-1zM25 19h1v1h-1zM25 20h1v1h-1zM25 21h1v1h-1zM43 21h1v1h-1zM42 22h1v1h-1zM16 23h1v1h-1zM24 23h1v1h-1zM14 24h2v1h-2zM18 24h1v1h-1zM23 24h1v1h-1zM41 24h1v1h-1zM13 25h1v1h-1zM12 26h1v1h-1zM11 27h1v1h-1zM16 28h3v1h-3zM10 29h1v1h-1zM16 29h1v1h-1zM19 29h1v1h-1zM9 30h1v1h-1zM30 30h1v1h-1zM7 31h2v1h-2zM16 31h1v1h-1zM19 31h1v1h-1zM29 31h2v1h-2zM1 32h3v1h-3zM17 32h2v1h-2zM29 32h2v1h-2zM29 33h2v1h-2zM30 34h1v1h-1zM41 34h2v1h-2zM44 34h5v1h-5zM28 35h1v1h-1zM49 35h1v1h-1zM28 36h1v1h-1zM30 36h1v1h-1zM29 37h1v1h-1z"/>
<path fill="#da6452" d="M21 7h3v1h-3zM24 8h1v1h-1zM19 9h1v1h-1zM24 9h1v1h-1zM19 10h1v1h-1zM24 10h1v1h-1zM19 11h1v1h-1zM23 11h1v1h-1zM20 12h3v1h-3zM36 13h1v1h-1zM36 14h2v1h-2zM46 14h1v1h-1zM3 15h1v1h-1zM19 15h3v1h-3zM36 15h1v1h-1zM45 15h1v1h-1zM4 16h2v1h-2zM10 16h2v1h-2zM16 16h2v1h-2zM24 16h1v1h-1zM6 17h4v1h-4zM8 18h1v1h-1zM44 19h1v1h-1zM44 20h1v1h-1zM16 22h1v1h-1zM43 22h1v1h-1zM15 23h1v1h-1zM17 23h2v1h-2zM42 23h1v1h-1zM13 24h1v1h-1zM19 24h4v1h-4zM12 25h1v1h-1zM41 25h1v1h-1zM11 26h1v1h-1zM41 26h1v1h-1zM41 27h1v1h-1zM10 28h1v1h-1zM41 28h1v1h-1zM9 29h1v1h-1zM17 29h2v1h-2zM41 29h1v1h-1zM8 30h1v1h-1zM16 30h1v1h-1zM19 30h1v1h-1zM2 31h5v1h-5zM41 32h1v1h-1zM41 33h1v1h-1zM45 33h3v1h-3zM29 34h1v1h-1zM43 34h1v1h-1zM49 34h1v1h-1zM29 35h2v1h-2zM29 36h1v1h-1z"/>
<path fill="#d55a4c" d="M20 8h4v1h-4zM23 9h1v1h-1zM23 10h1v1h-1zM20 11h3v1h-3zM47 14h1v1h-1zM2 16h2v1h-2zM12 16h4v1h-4zM18 16h2v1h-2zM23 16h1v1h-1zM45 16h1v1h-1zM4 17h2v1h-2zM10 17h1v1h-1zM16 17h2v1h-2zM24 17h1v1h-1zM6 18h2v1h-2zM9 18h1v1h-1zM8 19h1v1h-1zM17 19h1v1h-1zM17 20h1v1h-1zM16 21h2v1h-2zM44 21h1v1h-1zM15 22h1v1h-1zM17 22h1v1h-1zM24 22h1v1h-1zM14 23h1v1h-1zM23 23h1v1h-1zM12 24h1v1h-1zM42 24h1v1h-1zM11 25h1v1h-1zM42 25h1v1h-1zM10 27h1v1h-1zM9 28h1v1h-1zM8 29h1v1h-1zM4 30h4v1h-4zM17 30h2v1h-2zM41 30h1v1h-1zM1 31h1v1h-1zM17 31h2v1h-2zM41 31h1v1h-1zM42 33h3v1h-3zM48 33h2v1h-2z"/>
<path fill="#d15047" d="M20 9h3v1h-3zM20 10h3v1h-3zM48 14h1v1h-1zM46 15h1v1h-1zM20 16h3v1h-3zM2 17h2v1h-2zM11 17h1v1h-1zM15 17h1v1h-1zM18 17h1v1h-1zM45 17h1v1h-1zM4 18h2v1h-2zM10 18h1v1h-1zM16 18h2v1h-2zM24 18h1v1h-1zM45 18h1v1h-1zM6 19h2v1h-2zM9 19h1v1h-1zM16 19h1v1h-1zM45 19h1v1h-1zM16 20h1v1h-1zM15 21h1v1h-1zM24 21h1v1h-1zM14 22h1v1h-1zM18 22h1v1h-1zM44 22h1v1h-1zM12 23h2v1h-2zM19 23h1v1h-1zM43 23h1v1h-1zM11 24h1v1h-1zM10 25h1v1h-1zM10 26h1v1h-1zM42 26h1v1h-1zM9 27h1v1h-1zM42 27h1v1h-1zM8 28h1v1h-1zM42 28h1v1h-1zM6 29h2v1h-2zM42 29h1v1h-1zM1 30h3v1h-3zM42 30h1v1h-1zM42 31h1v1h-1zM42 32h7v1h-7z"/>
<path fill="#cc4643" d="M47 15h1v1h-1zM12 17h1v1h-1zM14 17h1v1h-1zM19 17h1v1h-1zM23 17h1v1h-1zM2 18h2v1h-2zM15 18h1v1h-1zM18 18h1v1h-1zM3 19h3v1h-3zM10 19h1v1h-1zM18 19h1v1h-1zM24 19h1v1h-1zM6 20h4v1h-4zM15 20h1v1h-1zM18 20h1v1h-1zM24 20h1v1h-1zM45 20h1v1h-1zM18 21h1v1h-1zM13 22h1v1h-1zM11 23h1v1h-1zM20 23h3v1h-3zM10 24h1v1h-1zM43 24h1v1h-1zM43 25h1v1h-1zM9 26h1v1h-1zM8 27h1v1h-1zM7 28h1v1h-1zM1 29h5v1h-5zM43 30h1v1h-1zM43 31h4v1h-4zM49 32h2v1h-2z"/>
<path fill="#c83b3f" d="M48 15h1v1h-1zM46 16h1v1h-1zM13 17h1v1h-1zM11 18h1v1h-1zM1 19h2v1h-2zM15 19h1v1h-1zM3 20h3v1h-3zM10 20h1v1h-1zM6 21h5v1h-5zM14 21h1v1h-1zM45 21h1v1h-1zM9 22h4v1h-4zM19 22h1v1h-1zM23 22h1v1h-1zM9 23h2v1h-2zM44 23h1v1h-1zM9 24h1v1h-1zM44 24h1v1h-1zM9 25h1v1h-1zM8 26h1v1h-1zM43 26h1v1h-1zM7 27h1v1h-1zM43 27h1v1h-1zM1 28h6v1h-6zM43 28h1v1h-1zM43 29h1v1h-1zM44 30h2v1h-2zM47 31h3v1h-3z"/>
<path fill="#c42f3b" d="M47 16h2v1h-2zM20 17h3v1h-3zM46 17h1v1h-1zM12 18h1v1h-1zM14 18h1v1h-1zM19 18h1v1h-1zM23 18h1v1h-1zM46 18h1v1h-1zM11 19h1v1h-1zM46 19h1v1h-1zM1 20h2v1h-2zM11 20h1v1h-1zM14 20h1v1h-1zM1 21h5v1h-5zM11 21h1v1h-1zM13 21h1v1h-1zM6 22h3v1h-3zM45 22h1v1h-1zM8 23h1v1h-1zM45 23h1v1h-1zM8 24h1v1h-1zM8 25h1v1h-1zM44 25h1v1h-1zM7 26h1v1h-1zM44 26h1v1h-1zM1 27h6v1h-6zM44 27h1v1h-1zM44 28h1v1h-1zM44 29h2v1h-2zM46 30h3v1h-3zM50 31h1v1h-1z"/>
<path fill="#c12238" d="M49 16h1v1h-1zM47 17h1v1h-1zM13 18h1v1h-1zM12 19h1v1h-1zM14 19h1v1h-1zM19 19h1v1h-1zM46 20h1v1h-1zM12 21h1v1h-1zM19 21h1v1h-1zM23 21h1v1h-1zM46 21h1v1h-1zM1 22h5v1h-5zM20 22h1v1h-1zM22 22h1v1h-1zM1 23h7v1h-7zM6 24h2v1h-2zM45 24h1v1h-1zM5 25h3v1h-3zM1 26h6v1h-6zM45 27h1v1h-1zM45 28h1v1h-1zM46 29h2v1h-2zM49 30h2v1h-2z"/>
<path fill="#ba1935" d="M48 17h2v1h-2zM20 18h1v1h-1zM47 18h2v1h-2zM13 19h1v1h-1zM23 19h1v1h-1zM47 19h1v1h-1zM12 20h2v1h-2zM19 20h1v1h-1zM23 20h1v1h-1zM21 22h1v1h-1zM46 22h1v1h-1zM46 23h1v1h-1zM1 24h5v1h-5zM1 25h4v1h-4zM45 25h1v1h-1zM45 26h1v1h-1zM46 27h1v1h-1zM46 28h2v1h-2zM48 29h3v1h-3z"/>
<path fill="#ac1731" d="M21 18h2v1h-2zM49 18h1v1h-1zM48 19h2v1h-2zM47 20h1v1h-1zM47 21h1v1h-1zM46 24h1v1h-1zM46 25h1v1h-1zM46 26h1v1h-1zM47 27h1v1h-1zM48 28h3v1h-3z"/>
<path fill="#9e142d" d="M50 19h1v1h-1zM48 20h3v1h-3zM20 21h1v1h-1zM47 22h1v1h-1zM47 23h1v1h-1zM47 24h1v1h-1zM47 25h1v1h-1zM47 26h1v1h-1zM48 27h3v1h-3z"/>
<path fill="#90112a" d="M20 19h1v1h-1zM22 19h1v1h-1zM20 20h1v1h-1zM22 21h1v1h-1zM48 21h3v1h-3zM48 22h3v1h-3zM48 23h2v1h-2zM48 24h1v1h-1zM48 25h3v1h-3zM48 26h3v1h-3z"/>
<path fill="#830b26" d="M21 19h1v1h-1zM22 20h1v1h-1zM21 21h1v1h-1zM50 23h1v1h-1zM49 24h2v1h-2z"/>
<path fill="#6a0020" d="M21 20h1v1h-1z"/>
</g></g>
<path d="M1102.3 744 1096.8 730 1086.3 724 1079.5 720.9 1075.5 720 1055.5 718.9 1043.5 719.3 1029.5 720.8 1019.5 722.2 1013.9 724 1003.5 729.6 1001.5 731.4 996.7 744M922.6 462 956.5 500 957.5 500.5 965.5 499.3 969.5 497.8 973.5 495.5 979.5 489.8 984.7 482 984.6 480 975.3 462M1133.5 462 1119.2 486 1133.5 509.1 1135.9 512 1139.5 514.5 1143.5 514.8 1147.5 512.6 1189.5 474.5M973.5 657.9 970.3 662 969 668 970.6 678 973.5 687.6 977.5 693.7 981.5 696.6 985.5 697.6 991.5 696.9 995.5 693.7 997.5 690.6 999.5 685.4 1000.3 678 999.6 674 998.2 670 994.4 664 991.5 661.2 987.5 658.5 983.5 656.9 979.5 656.2 975.5 656.8 973.5 657.9M1132.3 744 1117.5 719.7 1107.5 717 1089.7 710 1081.5 707.7 1053.5 703.1 1041.5 702.2 1033.5 702.8 1017.5 705.4 1001.5 705.7 997.5 706.2 973.5 716 971.6 718 954.3 744M1053.7 462 1053.5 466 1057.5 467.2 1065.5 471.3 1071.5 475.9 1075.4 480 1078.3 484 1081.5 490 1083.9 496 1085.6 502 1085.6 504 1084.1 506 1073.5 511.8 1067.5 517.3 1063.5 522.8 1061 528 1058.8 538 1058.6 544 1059 550 1059.8 554 1061.5 557.8 1063.5 559.8 1065.5 560.8 1069.5 561.5 1075.5 561.5 1083.5 559.9 1089.5 556.1 1093.5 550.2 1095.2 544 1095.5 538 1094.8 532 1089.8 510 1090 508 1091.5 506.5 1097.5 505.5 1103.5 506.1 1109.5 507.9 1115.5 511.2 1121.5 516.6 1129.5 527.4 1135.5 534.5 1139.5 538.2 1141.5 539.2 1143.5 538.9 1147.5 535.8 1159.5 522.6 1189.5 501.1M907.5 497.5 937.5 519.9 939.5 520.9 947.5 521.5 955.5 521.3 965.5 520 973.5 518.2 979.5 515.5 985.5 510.1 989.5 504.4 998.9 488 1005.5 480.3 1015.5 473.1 1025.7 468 1026.2 466 1025.5 462M1189.5 721 1153.5 690.9 1151.5 690.2 1137.5 690.2 1127.5 689 1121.5 687.3 1119 686 1116.7 684 1114.9 680 1115.1 674 1121.5 646.4 1123.1 636 1121.6 630 1119.5 625.8 1117.5 623.3 1115.5 621.8 1113.5 621.1 1109.5 621.6 1105.5 623.9 1101.5 628 1098.4 634 1096.3 650 1091.9 666 1095.5 680 1094.9 684 1093.4 686 1090.7 688 1085.9 690 1081.5 691 1075.5 691.3 1065.5 689.4 1061.5 687.8 1057.5 685.3 1053.5 680.9 1051.6 676 1051.3 662 1047.7 646 1047.9 640 1049.4 632 1049.3 626 1047.3 616 1045.5 612.5 1043.5 611.3 1039.5 612 1037.5 613.2 1035.5 615.2 1033.9 618 1032.5 624 1031.6 640 1030.6 646 1026 658 1022.5 662 1019.5 662.9 1015.5 662.6 1007.5 659.2 989 648 983.7 644 975.5 635.8 973.5 634.6 971.5 634.3 967.6 636 965.5 638 951.5 657.3 947.5 662.1 943.5 665.9 937.5 668.9 929.5 670.3 907.5 682.9M1107 526 1109.5 524.6 1113.5 525.1 1117.2 528 1119.5 532 1120.5 538 1119.9 542 1117.5 546.7 1115.5 548.4 1113.5 548.9 1111.5 548.1 1109.5 546.1 1106.2 540 1105 536 1104.6 532 1105.5 528 1107 526M907.5 530.4 926.2 540 935.5 543.4 941.5 544.8 947.5 544 959.5 539.2 967.5 537.2 975.5 536.7 989.5 537.2 997.5 536.2 1003.7 534 1005.9 532 1006.7 530 1006.6 528 1003 516 1002.9 508 1004.5 502 1006.5 498 1009.5 494 1013.5 490.7 1019.5 487.8 1025.5 486.4 1031.5 486.3 1035.5 487.2 1039.5 489.1 1043.5 492.7 1045.5 496.1 1046.7 502 1046.4 506 1044.8 512 1042.1 518 1039.5 522.4 1035.5 526.9 1033.5 528.3 1024.9 532 1024.7 534 1025.5 534.7 1027.5 535.4 1033.5 535.4 1037.5 537 1041.5 541.3 1044.2 548 1045.8 558 1045 578 1043.3 584 1039.5 589.1 1035.5 592.2 1029.5 595.1 1023.5 596.6 1015.5 597.7 1011.5 597.7 1007.5 596.9 995.5 591.7 991.5 591.5 985.5 593.3 975.5 598.1 969.9 602 962.1 614 951.5 628.8 945.3 636 939.5 638.6 917.5 640.8 907.5 643.7M993.9 616 999.5 614.8 1003.5 615.6 1007.5 618.2 1010.4 622 1012.5 628 1012.5 634 1011.2 638 1009.5 640.2 1007.5 641.7 1003.5 642.8 997.5 641.8 991.9 638 989.2 634 987.5 628 987.6 624 989.5 619.4 991.5 617.4 993.9 616M1070.8 630 1073.5 628.2 1075.5 629 1076.8 632 1076.9 642 1078.4 654 1078.6 660 1077.6 666 1075.5 669.9 1073.5 671.6 1069.5 672.4 1067.5 671.8 1065.5 670.4 1063.7 668 1062.5 664 1062.3 660 1063.5 653.5 1068.1 640 1069.5 632.5 1070.8 630M1189.5 659.8 1175.5 654.1 1171.5 653.3 1167.5 654 1155.5 657.9 1149.5 658.1 1145.5 656.9 1141.3 654 1139.5 651.8 1137.5 648 1136 642 1135.7 634 1136.4 612 1138.7 596 1141.9 588 1151.5 575.2 1155.5 568 1157.5 560.7 1159.2 546 1161.3 540 1165.5 533.1 1189.5 518.8M1011.8 550 1017.5 548.3 1025.5 548.7 1031.5 551.1 1033.5 552.7 1036 556 1037.6 560 1038.3 564 1038.4 570 1037.8 574 1035.4 580 1033.5 582.4 1029.5 585.5 1023.5 587.4 1019.5 587.6 1015.5 586.9 1009.5 583.7 1007.5 581.7 1005.2 578 1003.9 572 1003.8 560 1005.2 556 1006.5 554 1011.8 550M907.5 561.3 919.5 564.9 935.5 571.5 941.5 572.7 945.5 572.6 949.5 571 951.5 569.5 953.5 567.2 959.5 558 963.5 553.9 967.5 551.7 973.5 550.8 979.5 552.3 983.5 555.5 985.7 560 986 564 984.8 570 981.5 576 975.5 580.7 962.5 586 957.5 589.4 954 594 947.5 606 943.5 610.7 939.5 614.3 933.5 618 927.5 620 921.5 621.1 907.5 622.4M1189.5 639.1 1177.5 636.2 1169.5 635.4 1157.5 635.3 1154.2 634 1152.9 632 1152 628 1151.4 614 1151.7 606 1152.7 600 1162.1 580 1165.6 570 1166.8 564 1168.2 550 1169.5 546 1171.5 543.1 1189.5 534.4M1017.1 558 1021.5 556.9 1025.5 557.6 1029.1 560 1031.5 564 1032.2 568 1031.5 572.4 1029.5 576.1 1025.5 579 1021.5 579.8 1017.5 578.8 1015.5 577.6 1012.7 574 1011.6 570 1012.2 564 1014.5 560 1017.1 558M1189.5 617.2 1183.5 616.4 1177.1 612 1175.3 610 1173.2 606 1172.2 602 1172 598 1172.8 592 1179.5 564.2 1189.5 561.3" fill="none" stroke="#1a1a1a" stroke-width="0.55" stroke-opacity="0.85" stroke-linejoin="round"/>
</g>
<g fill="none" stroke="#231f20" stroke-linejoin="round" stroke-linecap="round">
<path stroke-width="1.5" d="M1072.6 467.1 1048 445.5 1023.4 467.1M912.3 587.3 908.8 581.3 906.6 581.1 903.3 582.1 900.1 587.3 900.6 604 898.7 627.9 902.8 638.3 908.8 640.3 914.5 635.2M1183.7 587.3 1187.2 581.3 1189.4 581.1 1192.7 582.1 1195.9 587.3 1195.4 604 1197.3 627.9 1193.2 638.3 1187.2 640.3 1181.5 635.2"/>
<circle cx="1048" cy="602.5" r="136.5" stroke-width="1.8"/>
</g>
<g fill="#231f20">
<circle cx="1016.6" cy="479.6" r="3.8"/>
<circle cx="1078.4" cy="479.6" r="3.8"/>
<circle cx="988.2" cy="496" r="3.8"/>
<circle cx="1106.8" cy="496" r="3.8"/>
<circle cx="1016.4" cy="504.6" r="3.8"/>
<circle cx="1078.6" cy="504.6" r="3.8"/>
<circle cx="964.4" cy="523.8" r="3.8"/>
<circle cx="1130.6" cy="523.8" r="3.8"/>
<circle cx="984" cy="531.6" r="3.8"/>
<circle cx="1111" cy="531.6" r="3.8"/>
<circle cx="1004.5" cy="535.8" r="3.8"/>
<circle cx="1090.5" cy="535.8" r="3.8"/>
<circle cx="1025.9" cy="537.3" r="3.8"/>
<circle cx="1069.1" cy="537.3" r="3.8"/>
<circle cx="1047.5" cy="538" r="3.8"/>
<circle cx="924.7" cy="548.8" r="3.8"/>
<circle cx="1170.3" cy="548.8" r="3.8"/>
<circle cx="949" cy="560.1" r="3.8"/>
<circle cx="1146" cy="560.1" r="3.8"/>
<circle cx="973.2" cy="565" r="3.8"/>
<circle cx="1121.8" cy="565" r="3.8"/>
<circle cx="997.9" cy="568" r="3.8"/>
<circle cx="1097.1" cy="568" r="3.8"/>
<circle cx="1022.6" cy="568.9" r="3.8"/>
<circle cx="1072.4" cy="568.9" r="3.8"/>
<circle cx="1047.5" cy="569.4" r="3.8"/>
<circle cx="943.9" cy="600.5" r="3.8"/>
<circle cx="1151.1" cy="600.5" r="3.8"/>
<circle cx="969.8" cy="600.5" r="3.8"/>
<circle cx="1125.2" cy="600.5" r="3.8"/>
<circle cx="995.7" cy="600.5" r="3.8"/>
<circle cx="1099.3" cy="600.5" r="3.8"/>
<circle cx="1021.6" cy="600.5" r="3.8"/>
<circle cx="1073.4" cy="600.5" r="3.8"/>
<circle cx="1047.5" cy="600.5" r="3.8"/>
<circle cx="924.7" cy="652.2" r="3.8"/>
<circle cx="1170.3" cy="652.2" r="3.8"/>
<circle cx="949" cy="640.9" r="3.8"/>
<circle cx="1146" cy="640.9" r="3.8"/>
<circle cx="973.2" cy="636" r="3.8"/>
<circle cx="1121.8" cy="636" r="3.8"/>
<circle cx="997.9" cy="633" r="3.8"/>
<circle cx="1097.1" cy="633" r="3.8"/>
<circle cx="1022.6" cy="632.1" r="3.8"/>
<circle cx="1072.4" cy="632.1" r="3.8"/>
<circle cx="1047.5" cy="631.6" r="3.8"/>
<circle cx="964.4" cy="677.2" r="3.8"/>
<circle cx="1130.6" cy="677.2" r="3.8"/>
<circle cx="1111" cy="669.4" r="3.8"/>
<circle cx="1004.5" cy="665.2" r="3.8"/>
<circle cx="1090.5" cy="665.2" r="3.8"/>
<circle cx="1025.9" cy="663.7" r="3.8"/>
<circle cx="1069.1" cy="663.7" r="3.8"/>
<circle cx="1047.5" cy="663" r="3.8"/>
<circle cx="988.2" cy="705" r="3.8"/>
<circle cx="1106.8" cy="705" r="3.8"/>
<circle cx="1016.4" cy="696.4" r="3.8"/>
<circle cx="1078.6" cy="696.4" r="3.8"/>
<circle cx="1047.5" cy="694.3" r="3.8"/>
<circle cx="984" cy="669.4" r="1.25"/>
<circle cx="1016.6" cy="721.4" r="1.25"/>
<circle cx="1078.4" cy="721.4" r="1.25"/>
<circle cx="1047.5" cy="725.7" r="1.25"/>
</g>
<!-- panel letters -->
<g fill="#231f20" font-size="45">
<text x="-1" y="36">a.</text>
<text x="427" y="32">b.</text>
<text x="851" y="32">c.</text>
<text x="-2" y="424.3">d.</text>
<text x="426" y="420.3">e.</text>
<text x="850.5" y="419.7">f.</text>
</g>
<!-- titles -->
<g font-size="33.2">
<text x="106.5" y="54" fill="#2a659b">drift go (v<tspan font-size="19.7" dy="10.7">GO</tspan><tspan dy="-10.7">)</tspan></text>
<text x="495.7" y="51.3" fill="#e98fa5">drift nogo (v<tspan font-size="19.7" dy="11.3">NOGO</tspan><tspan dy="-11.3">)</tspan></text>
<text x="935.6" y="51.3" fill="#414042">drift bias (v<tspan font-size="19.7" dy="11.3">BIAS</tspan><tspan dy="-11.3">)</tspan></text>
<text x="103.7" y="437" fill="#b8752e">threshold (a)</text>
<text x="571.5" y="437" fill="#77398a">NDT (t)</text>
<text x="920.4" y="432.2" fill="#0b6ba1">decision bias (z)</text>
</g>
<!-- colourbars -->
<g fill="#565a5e" font-size="30">
<rect x="1273.2" y="133.5" width="28.1" height="180" fill="url(#cb)" stroke="#565a5e" stroke-width="1.3"/>
<path d="M1296 163.5h5M1296 193.5h5M1296 223.5h5M1296 253.5h5M1296 283.5h5" stroke="#565a5e" stroke-width="0.7" fill="none"/>
<text x="1309.8" y="145.4">6</text>
<text x="1309.8" y="236.5">0</text>
<text x="1305.5" y="319.6">-6</text>
<text transform="translate(1257 225) rotate(-90)" text-anchor="middle" font-style="italic" font-size="30.6">t-value</text>
<rect x="1274.8" y="510.6" width="28.2" height="180" fill="url(#cb)" stroke="#565a5e" stroke-width="1.3"/>
<path d="M1298 540.6h5M1298 570.6h5M1298 600.6h5M1298 630.6h5M1298 660.6h5" stroke="#565a5e" stroke-width="0.7" fill="none"/>
<text x="1308" y="522">12</text>
<text x="1311" y="614.5">0</text>
<text x="1306.5" y="696.6">-12</text>
<text transform="translate(1258.5 603) rotate(-90)" text-anchor="middle" font-style="italic" font-size="30.6">t-value</text>
</g>
<!-- nose marks --><path d="M198.6 439.8h3.8M623.6 439.2l.5 2.4 1.3 .9M1045.2 440.3l1.6-.9 2.8 .9" stroke="#231f20" stroke-width="1" fill="none"/>

</svg>
</body></html>
